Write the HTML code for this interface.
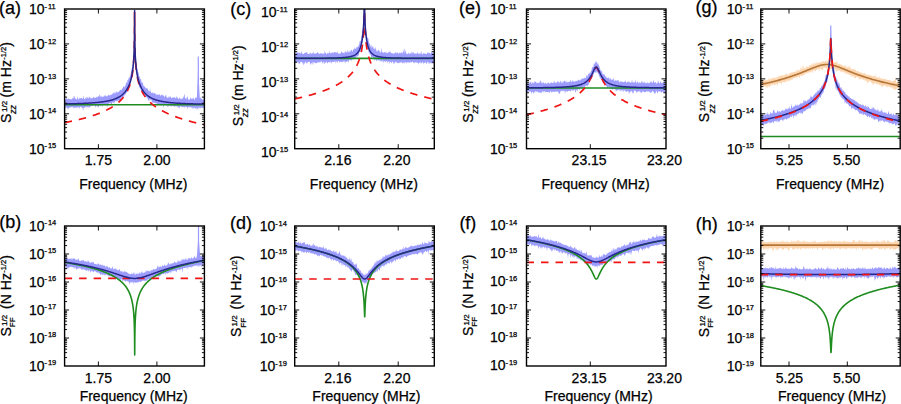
<!DOCTYPE html><html><head><meta charset="utf-8"><style>html,body{margin:0;padding:0;background:#fff;}svg{display:block;}</style></head><body>
<svg width="901" height="404" viewBox="0 0 901 404" font-family='"Liberation Sans", sans-serif'>
<style>text{fill:#000;stroke:#000;stroke-width:0.25px;}</style>
<rect width="901" height="404" fill="#fff"/>
<defs>
<clipPath id="ca"><rect x="64.60" y="9.00" width="139.80" height="139.70"/></clipPath>
<clipPath id="cc"><rect x="294.70" y="9.00" width="139.60" height="139.70"/></clipPath>
<clipPath id="ce"><rect x="526.50" y="9.00" width="139.50" height="139.70"/></clipPath>
<clipPath id="cg"><rect x="760.80" y="9.00" width="139.40" height="139.70"/></clipPath>
<clipPath id="cb"><rect x="64.60" y="226.00" width="139.80" height="140.00"/></clipPath>
<clipPath id="cd"><rect x="294.70" y="226.00" width="139.60" height="140.00"/></clipPath>
<clipPath id="cf"><rect x="526.50" y="226.00" width="139.50" height="140.00"/></clipPath>
<clipPath id="ch"><rect x="760.80" y="226.00" width="139.40" height="140.00"/></clipPath>
</defs>
<g clip-path="url(#ca)" fill="none" stroke-linejoin="round">
<path d="M64.60,99.90 L65.10,99.47 L65.60,99.49 L66.10,98.62 L66.60,97.95 L67.10,98.45 L67.60,99.74 L68.10,97.93 L68.60,99.11 L69.10,98.91 L69.60,99.08 L70.10,99.25 L70.60,99.59 L71.10,98.42 L71.60,99.66 L72.10,98.72 L72.60,97.79 L73.10,99.01 L73.60,96.98 L74.10,95.43 L74.60,97.02 L75.10,99.25 L75.60,97.79 L76.10,99.17 L76.60,99.31 L77.10,99.24 L77.60,95.96 L78.10,98.71 L78.60,99.38 L79.10,99.26 L79.60,97.26 L80.10,98.71 L80.60,97.98 L81.10,98.20 L81.60,97.82 L82.10,98.15 L82.60,99.21 L83.10,97.99 L83.60,95.76 L84.10,99.02 L84.60,98.99 L85.10,99.03 L85.60,97.37 L86.10,98.95 L86.60,97.12 L87.10,96.83 L87.60,97.76 L88.10,98.76 L88.60,97.99 L89.10,96.05 L89.60,97.75 L90.10,97.10 L90.60,98.64 L91.10,97.89 L91.60,98.40 L92.10,97.66 L92.60,98.48 L93.10,97.60 L93.60,96.47 L94.10,97.49 L94.60,98.11 L95.10,97.69 L95.60,98.11 L96.10,96.57 L96.60,97.37 L97.10,97.85 L97.60,96.81 L98.10,96.40 L98.60,96.09 L99.10,96.77 L99.60,94.34 L100.10,94.96 L100.60,97.03 L101.10,97.47 L101.60,95.77 L102.10,96.49 L102.60,96.91 L103.10,96.77 L103.60,96.85 L104.10,94.98 L104.60,96.42 L105.10,94.60 L105.60,96.33 L106.10,96.56 L106.60,96.34 L107.10,94.95 L107.60,96.38 L108.10,95.65 L108.60,94.52 L109.10,95.11 L109.60,95.86 L110.10,94.81 L110.60,95.13 L111.10,93.98 L111.60,95.29 L112.10,94.32 L112.60,93.16 L113.10,94.30 L113.60,92.24 L114.10,91.56 L114.60,93.78 L115.10,92.73 L115.60,93.54 L116.10,90.39 L116.60,92.13 L117.10,92.16 L117.60,92.48 L118.10,91.80 L118.60,91.95 L119.10,91.60 L119.60,90.57 L120.10,90.49 L120.60,89.40 L121.10,90.36 L121.60,90.01 L122.10,88.16 L122.60,88.82 L123.10,87.50 L123.60,85.47 L124.10,87.38 L124.60,86.94 L125.10,85.62 L125.60,85.62 L126.10,82.28 L126.60,82.73 L127.10,82.98 L127.60,79.62 L128.10,80.44 L128.60,78.12 L129.10,78.34 L129.60,76.92 L130.10,75.57 L130.60,74.85 L131.10,71.02 L131.60,69.26 L132.10,66.42 L132.60,65.17 L133.10,59.70 L133.35,58.32 L133.60,53.98 L133.85,49.68 L134.10,44.64 L134.25,40.22 L134.40,31.23 L134.50,21.94 L134.60,3.06 L134.70,21.06 L134.80,32.13 L134.95,38.95 L135.10,45.40 L135.35,50.27 L135.60,54.92 L135.85,57.80 L136.10,58.49 L136.60,64.80 L137.10,68.09 L137.60,69.18 L138.10,72.15 L138.60,72.84 L139.10,75.86 L139.60,76.78 L140.10,79.09 L140.60,78.77 L141.10,79.78 L141.60,82.51 L142.10,82.82 L142.60,82.08 L143.10,84.29 L143.60,86.00 L144.10,86.61 L144.60,86.28 L145.10,87.29 L145.60,87.72 L146.10,88.80 L146.60,87.93 L147.10,88.24 L147.60,88.51 L148.10,90.08 L148.60,90.77 L149.10,91.50 L149.60,91.28 L150.10,88.56 L150.60,91.66 L151.10,92.42 L151.60,92.92 L152.10,93.37 L152.60,92.01 L153.10,92.95 L153.60,93.60 L154.10,93.57 L154.60,92.64 L155.10,93.45 L155.60,93.62 L156.10,94.97 L156.60,94.59 L157.10,94.42 L157.60,94.52 L158.10,94.55 L158.60,95.35 L159.10,94.01 L159.60,94.53 L160.10,95.20 L160.60,95.84 L161.10,95.43 L161.60,94.15 L162.10,94.81 L162.60,95.40 L163.10,94.74 L163.60,96.06 L164.10,95.88 L164.60,97.38 L165.10,96.32 L165.60,95.28 L166.10,94.71 L166.60,97.38 L167.10,97.76 L167.60,97.56 L168.10,97.92 L168.60,96.84 L169.10,95.99 L169.60,97.95 L170.10,96.88 L170.60,96.01 L171.10,97.66 L171.60,98.34 L172.10,97.91 L172.60,97.15 L173.10,97.67 L173.60,97.24 L174.10,97.45 L174.60,96.98 L175.10,97.69 L175.60,98.33 L176.10,98.40 L176.60,96.08 L177.10,97.01 L177.60,97.76 L178.10,98.91 L178.60,99.06 L179.10,97.08 L179.60,98.51 L180.10,98.14 L180.60,99.10 L181.10,99.14 L181.60,98.88 L182.10,97.70 L182.60,99.32 L183.10,96.29 L183.60,98.44 L184.10,93.94 L184.60,94.91 L185.10,98.74 L185.60,97.65 L186.10,99.47 L186.60,97.92 L187.10,96.46 L187.60,96.40 L188.10,99.41 L188.60,99.59 L189.10,99.60 L189.60,99.65 L190.10,98.59 L190.60,96.96 L191.10,99.46 L191.60,98.32 L192.10,99.08 L192.60,98.86 L193.10,97.29 L193.60,98.07 L194.10,99.68 L194.60,99.88 L195.10,98.05 L195.60,97.51 L196.10,97.89 L196.60,97.42 L196.80,98.11 L197.10,92.91 L197.30,89.14 L197.60,82.86 L197.80,78.04 L198.05,70.71 L198.10,68.93 L198.30,56.50 L198.55,70.72 L198.60,72.36 L198.80,78.05 L199.10,85.08 L199.30,89.18 L199.60,94.76 L199.80,98.20 L200.10,97.51 L200.60,97.87 L201.10,98.73 L201.60,98.80 L202.10,99.16 L202.60,99.96 L203.10,97.40 L203.60,99.78 L204.10,99.86 L204.10,107.58 L203.60,107.69 L203.10,108.62 L202.60,107.93 L202.10,108.12 L201.60,107.17 L201.10,108.16 L200.60,108.46 L200.10,107.20 L199.80,107.60 L199.60,107.63 L199.30,108.00 L199.10,108.79 L198.80,107.35 L198.60,107.15 L198.55,109.24 L198.30,109.45 L198.10,107.37 L198.05,110.29 L197.80,108.77 L197.60,107.87 L197.30,108.79 L197.10,109.05 L196.80,107.48 L196.60,110.50 L196.10,107.14 L195.60,108.24 L195.10,109.08 L194.60,107.21 L194.10,108.28 L193.60,108.49 L193.10,107.59 L192.60,108.94 L192.10,107.09 L191.60,107.38 L191.10,107.65 L190.60,107.10 L190.10,107.63 L189.60,107.24 L189.10,107.07 L188.60,107.00 L188.10,107.28 L187.60,108.94 L187.10,107.36 L186.60,107.18 L186.10,106.74 L185.60,106.71 L185.10,106.82 L184.60,108.15 L184.10,106.56 L183.60,107.18 L183.10,106.75 L182.60,107.71 L182.10,106.84 L181.60,106.88 L181.10,106.47 L180.60,106.43 L180.10,106.31 L179.60,109.05 L179.10,106.53 L178.60,106.94 L178.10,107.92 L177.60,106.09 L177.10,107.87 L176.60,105.92 L176.10,106.20 L175.60,106.60 L175.10,106.12 L174.60,107.07 L174.10,106.71 L173.60,105.90 L173.10,105.94 L172.60,105.68 L172.10,106.33 L171.60,106.89 L171.10,105.45 L170.60,106.35 L170.10,106.09 L169.60,105.27 L169.10,106.19 L168.60,105.24 L168.10,107.59 L167.60,106.71 L167.10,104.88 L166.60,104.84 L166.10,106.23 L165.60,104.71 L165.10,104.61 L164.60,104.44 L164.10,104.86 L163.60,107.88 L163.10,105.32 L162.60,104.56 L162.10,105.04 L161.60,105.72 L161.10,105.03 L160.60,105.64 L160.10,103.81 L159.60,104.78 L159.10,104.59 L158.60,104.49 L158.10,103.57 L157.60,106.63 L157.10,104.46 L156.60,102.84 L156.10,104.11 L155.60,103.32 L155.10,102.93 L154.60,102.62 L154.10,103.23 L153.60,102.56 L153.10,103.09 L152.60,102.11 L152.10,103.07 L151.60,100.20 L151.10,100.07 L150.60,99.59 L150.10,99.57 L149.60,99.35 L149.10,101.15 L148.60,100.75 L148.10,99.49 L147.60,98.74 L147.10,97.55 L146.60,97.54 L146.10,96.81 L145.60,96.49 L145.10,96.06 L144.60,94.87 L144.10,96.66 L143.60,94.08 L143.10,93.84 L142.60,93.68 L142.10,92.25 L141.60,89.88 L141.10,91.35 L140.60,89.26 L140.10,87.48 L139.60,87.67 L139.10,86.69 L138.60,83.43 L138.10,81.63 L137.60,78.18 L137.10,75.66 L136.60,75.10 L136.10,68.27 L135.85,66.43 L135.60,62.60 L135.35,59.07 L135.10,53.47 L134.95,47.62 L134.80,39.89 L134.70,30.91 L134.60,13.95 L134.50,30.54 L134.40,40.54 L134.25,48.66 L134.10,53.31 L133.85,58.22 L133.60,64.49 L133.35,66.78 L133.10,68.22 L132.60,74.07 L132.10,76.87 L131.60,78.44 L131.10,81.33 L130.60,82.78 L130.10,83.73 L129.60,85.75 L129.10,87.10 L128.60,89.02 L128.10,89.10 L127.60,91.10 L127.10,92.24 L126.60,92.69 L126.10,92.61 L125.60,95.13 L125.10,93.68 L124.60,94.97 L124.10,96.87 L123.60,95.43 L123.10,99.25 L122.60,97.76 L122.10,97.05 L121.60,97.60 L121.10,99.35 L120.60,100.34 L120.10,100.10 L119.60,101.22 L119.10,101.26 L118.60,100.32 L118.10,100.79 L117.60,101.47 L117.10,100.33 L116.60,101.73 L116.10,101.06 L115.60,101.32 L115.10,101.24 L114.60,102.30 L114.10,103.83 L113.60,103.00 L113.10,102.09 L112.60,102.23 L112.10,103.25 L111.60,104.32 L111.10,104.27 L110.60,103.08 L110.10,103.29 L109.60,103.07 L109.10,103.74 L108.60,103.82 L108.10,104.79 L107.60,104.88 L107.10,107.89 L106.60,105.23 L106.10,103.89 L105.60,105.44 L105.10,104.17 L104.60,104.10 L104.10,105.75 L103.60,105.29 L103.10,104.59 L102.60,107.53 L102.10,105.34 L101.60,105.48 L101.10,105.12 L100.60,107.07 L100.10,104.96 L99.60,105.80 L99.10,106.08 L98.60,106.92 L98.10,107.73 L97.60,105.61 L97.10,107.48 L96.60,105.26 L96.10,106.06 L95.60,107.91 L95.10,106.04 L94.60,105.51 L94.10,105.73 L93.60,105.54 L93.10,105.95 L92.60,105.99 L92.10,105.92 L91.60,105.95 L91.10,106.11 L90.60,106.45 L90.10,106.98 L89.60,107.14 L89.10,107.20 L88.60,107.96 L88.10,105.98 L87.60,107.85 L87.10,106.82 L86.60,106.30 L86.10,108.79 L85.60,106.86 L85.10,106.48 L84.60,108.28 L84.10,107.69 L83.60,107.47 L83.10,111.02 L82.60,107.80 L82.10,108.03 L81.60,106.75 L81.10,107.79 L80.60,106.64 L80.10,106.74 L79.60,109.22 L79.10,107.07 L78.60,107.83 L78.10,106.47 L77.60,108.32 L77.10,107.35 L76.60,106.97 L76.10,108.68 L75.60,107.37 L75.10,107.66 L74.60,107.84 L74.10,107.82 L73.60,106.97 L73.10,108.89 L72.60,106.83 L72.10,107.00 L71.60,107.02 L71.10,107.27 L70.60,107.96 L70.10,106.84 L69.60,108.32 L69.10,107.27 L68.60,109.79 L68.10,107.52 L67.60,109.07 L67.10,107.73 L66.60,107.66 L66.10,106.94 L65.60,107.65 L65.10,109.00 L64.60,106.98Z" fill="#9c9cff" stroke="none"/>
<path d="M198.30,103.80L198.30,56.50" stroke="#9c9cff" stroke-width="1.2"/>
<path d="M64.60,104.75 L65.10,104.75 L65.60,104.75 L66.10,104.75 L66.60,104.75 L67.10,104.75 L67.60,104.75 L68.10,104.75 L68.60,104.75 L69.10,104.75 L69.60,104.75 L70.10,104.75 L70.60,104.75 L71.10,104.75 L71.60,104.75 L72.10,104.75 L72.60,104.75 L73.10,104.75 L73.60,104.75 L74.10,104.75 L74.60,104.75 L75.10,104.75 L75.60,104.75 L76.10,104.75 L76.60,104.75 L77.10,104.75 L77.60,104.75 L78.10,104.75 L78.60,104.75 L79.10,104.75 L79.60,104.75 L80.10,104.75 L80.60,104.75 L81.10,104.75 L81.60,104.75 L82.10,104.75 L82.60,104.75 L83.10,104.75 L83.60,104.75 L84.10,104.75 L84.60,104.75 L85.10,104.75 L85.60,104.75 L86.10,104.75 L86.60,104.75 L87.10,104.75 L87.60,104.75 L88.10,104.75 L88.60,104.75 L89.10,104.75 L89.60,104.75 L90.10,104.75 L90.60,104.75 L91.10,104.75 L91.60,104.75 L92.10,104.75 L92.60,104.75 L93.10,104.75 L93.60,104.75 L94.10,104.75 L94.60,104.75 L95.10,104.75 L95.60,104.75 L96.10,104.75 L96.60,104.75 L97.10,104.75 L97.60,104.75 L98.10,104.75 L98.60,104.75 L99.10,104.75 L99.60,104.75 L100.10,104.75 L100.60,104.75 L101.10,104.75 L101.60,104.75 L102.10,104.75 L102.60,104.75 L103.10,104.75 L103.60,104.75 L104.10,104.75 L104.60,104.75 L105.10,104.75 L105.60,104.75 L106.10,104.75 L106.60,104.75 L107.10,104.75 L107.60,104.75 L108.10,104.75 L108.60,104.75 L109.10,104.75 L109.60,104.75 L110.10,104.75 L110.60,104.75 L111.10,104.75 L111.60,104.75 L112.10,104.75 L112.60,104.75 L113.10,104.75 L113.60,104.75 L114.10,104.75 L114.60,104.75 L115.10,104.75 L115.60,104.75 L116.10,104.75 L116.60,104.75 L117.10,104.75 L117.60,104.75 L118.10,104.75 L118.60,104.75 L119.10,104.75 L119.60,104.75 L120.10,104.75 L120.60,104.75 L121.10,104.75 L121.60,104.75 L122.10,104.75 L122.60,104.75 L123.10,104.75 L123.60,104.75 L124.10,104.75 L124.60,104.75 L125.10,104.75 L125.60,104.75 L126.10,104.75 L126.60,104.75 L127.10,104.75 L127.60,104.75 L128.10,104.75 L128.60,104.75 L129.10,104.75 L129.60,104.75 L130.10,104.75 L130.60,104.75 L131.10,104.75 L131.60,104.75 L132.10,104.75 L132.60,104.75 L133.10,104.75 L133.60,104.75 L133.85,104.75 L134.10,104.75 L134.30,104.75 L134.40,104.75 L134.50,104.75 L134.55,104.75 L134.60,104.75 L134.65,104.75 L134.70,104.75 L134.80,104.75 L134.90,104.75 L135.10,104.75 L135.35,104.75 L135.60,104.75 L136.10,104.75 L136.60,104.75 L137.10,104.75 L137.60,104.75 L138.10,104.75 L138.60,104.75 L139.10,104.75 L139.60,104.75 L140.10,104.75 L140.60,104.75 L141.10,104.75 L141.60,104.75 L142.10,104.75 L142.60,104.75 L143.10,104.75 L143.60,104.75 L144.10,104.75 L144.60,104.75 L145.10,104.75 L145.60,104.75 L146.10,104.75 L146.60,104.75 L147.10,104.75 L147.60,104.75 L148.10,104.75 L148.60,104.75 L149.10,104.75 L149.60,104.75 L150.10,104.75 L150.60,104.75 L151.10,104.75 L151.60,104.75 L152.10,104.75 L152.60,104.75 L153.10,104.75 L153.60,104.75 L154.10,104.75 L154.60,104.75 L155.10,104.75 L155.60,104.75 L156.10,104.75 L156.60,104.75 L157.10,104.75 L157.60,104.75 L158.10,104.75 L158.60,104.75 L159.10,104.75 L159.60,104.75 L160.10,104.75 L160.60,104.75 L161.10,104.75 L161.60,104.75 L162.10,104.75 L162.60,104.75 L163.10,104.75 L163.60,104.75 L164.10,104.75 L164.60,104.75 L165.10,104.75 L165.60,104.75 L166.10,104.75 L166.60,104.75 L167.10,104.75 L167.60,104.75 L168.10,104.75 L168.60,104.75 L169.10,104.75 L169.60,104.75 L170.10,104.75 L170.60,104.75 L171.10,104.75 L171.60,104.75 L172.10,104.75 L172.60,104.75 L173.10,104.75 L173.60,104.75 L174.10,104.75 L174.60,104.75 L175.10,104.75 L175.60,104.75 L176.10,104.75 L176.60,104.75 L177.10,104.75 L177.60,104.75 L178.10,104.75 L178.60,104.75 L179.10,104.75 L179.60,104.75 L180.10,104.75 L180.60,104.75 L181.10,104.75 L181.60,104.75 L182.10,104.75 L182.60,104.75 L183.10,104.75 L183.60,104.75 L184.10,104.75 L184.60,104.75 L185.10,104.75 L185.60,104.75 L186.10,104.75 L186.60,104.75 L187.10,104.75 L187.60,104.75 L188.10,104.75 L188.60,104.75 L189.10,104.75 L189.60,104.75 L190.10,104.75 L190.60,104.75 L191.10,104.75 L191.60,104.75 L192.10,104.75 L192.60,104.75 L193.10,104.75 L193.60,104.75 L194.10,104.75 L194.60,104.75 L195.10,104.75 L195.60,104.75 L196.10,104.75 L196.60,104.75 L197.10,104.75 L197.60,104.75 L198.10,104.75 L198.60,104.75 L199.10,104.75 L199.60,104.75 L200.10,104.75 L200.60,104.75 L201.10,104.75 L201.60,104.75 L202.10,104.75 L202.60,104.75 L203.10,104.75 L203.60,104.75 L204.10,104.75" stroke="#1e8c1e" stroke-width="1.6"/>
<path d="M64.60,122.60 L65.10,122.51 L65.60,122.41 L66.10,122.31 L66.60,122.22 L67.10,122.12 L67.60,122.02 L68.10,121.92 L68.60,121.82 L69.10,121.72 L69.60,121.62 L70.10,121.52 L70.60,121.41 L71.10,121.31 L71.60,121.20 L72.10,121.10 L72.60,120.99 L73.10,120.88 L73.60,120.77 L74.10,120.66 L74.60,120.55 L75.10,120.44 L75.60,120.33 L76.10,120.21 L76.60,120.10 L77.10,119.98 L77.60,119.87 L78.10,119.75 L78.60,119.63 L79.10,119.51 L79.60,119.39 L80.10,119.26 L80.60,119.14 L81.10,119.01 L81.60,118.89 L82.10,118.76 L82.60,118.63 L83.10,118.50 L83.60,118.37 L84.10,118.23 L84.60,118.10 L85.10,117.96 L85.60,117.82 L86.10,117.69 L86.60,117.54 L87.10,117.40 L87.60,117.26 L88.10,117.11 L88.60,116.97 L89.10,116.82 L89.60,116.67 L90.10,116.51 L90.60,116.36 L91.10,116.20 L91.60,116.04 L92.10,115.88 L92.60,115.72 L93.10,115.56 L93.60,115.39 L94.10,115.22 L94.60,115.05 L95.10,114.88 L95.60,114.71 L96.10,114.53 L96.60,114.35 L97.10,114.17 L97.60,113.98 L98.10,113.79 L98.60,113.60 L99.10,113.41 L99.60,113.21 L100.10,113.01 L100.60,112.81 L101.10,112.61 L101.60,112.40 L102.10,112.19 L102.60,111.97 L103.10,111.75 L103.60,111.53 L104.10,111.31 L104.60,111.08 L105.10,110.84 L105.60,110.60 L106.10,110.36 L106.60,110.12 L107.10,109.86 L107.60,109.61 L108.10,109.35 L108.60,109.08 L109.10,108.81 L109.60,108.53 L110.10,108.25 L110.60,107.96 L111.10,107.67 L111.60,107.36 L112.10,107.06 L112.60,106.74 L113.10,106.42 L113.60,106.09 L114.10,105.75 L114.60,105.40 L115.10,105.04 L115.60,104.68 L116.10,104.30 L116.60,103.91 L117.10,103.52 L117.60,103.11 L118.10,102.69 L118.60,102.25 L119.10,101.80 L119.60,101.34 L120.10,100.86 L120.60,100.36 L121.10,99.84 L121.60,99.31 L122.10,98.75 L122.60,98.17 L123.10,97.57 L123.60,96.93 L124.10,96.27 L124.60,95.58 L125.10,94.85 L125.60,94.07 L126.10,93.26 L126.60,92.39 L127.10,91.47 L127.60,90.49 L128.10,89.43 L128.60,88.28 L129.10,87.04 L129.60,85.67 L130.10,84.16 L130.60,82.47 L131.10,80.56 L131.60,78.34 L132.10,75.72 L132.60,72.52 L133.10,68.38 L133.60,62.55 L133.85,58.41 L134.10,52.59 L134.30,45.28 L134.40,39.53 L134.50,30.00 L134.55,21.61 L134.60,12.03 L134.65,21.61 L134.70,30.00 L134.80,39.53 L134.90,45.29 L135.10,52.61 L135.35,58.44 L135.60,62.58 L136.10,68.43 L136.60,72.58 L137.10,75.80 L137.60,78.44 L138.10,80.67 L138.60,82.60 L139.10,84.31 L139.60,85.83 L140.10,87.21 L140.60,88.48 L141.10,89.64 L141.60,90.71 L142.10,91.71 L142.60,92.65 L143.10,93.53 L143.60,94.37 L144.10,95.15 L144.60,95.90 L145.10,96.61 L145.60,97.29 L146.10,97.94 L146.60,98.56 L147.10,99.16 L147.60,99.73 L148.10,100.28 L148.60,100.81 L149.10,101.33 L149.60,101.82 L150.10,102.30 L150.60,102.77 L151.10,103.22 L151.60,103.66 L152.10,104.08 L152.60,104.50 L153.10,104.90 L153.60,105.29 L154.10,105.67 L154.60,106.05 L155.10,106.41 L155.60,106.77 L156.10,107.11 L156.60,107.45 L157.10,107.78 L157.60,108.11 L158.10,108.43 L158.60,108.74 L159.10,109.04 L159.60,109.34 L160.10,109.63 L160.60,109.92 L161.10,110.20 L161.60,110.48 L162.10,110.75 L162.60,111.02 L163.10,111.28 L163.60,111.54 L164.10,111.80 L164.60,112.05 L165.10,112.29 L165.60,112.53 L166.10,112.77 L166.60,113.01 L167.10,113.24 L167.60,113.47 L168.10,113.69 L168.60,113.91 L169.10,114.13 L169.60,114.35 L170.10,114.56 L170.60,114.77 L171.10,114.97 L171.60,115.18 L172.10,115.38 L172.60,115.58 L173.10,115.77 L173.60,115.97 L174.10,116.16 L174.60,116.35 L175.10,116.53 L175.60,116.72 L176.10,116.90 L176.60,117.08 L177.10,117.26 L177.60,117.44 L178.10,117.61 L178.60,117.78 L179.10,117.95 L179.60,118.12 L180.10,118.29 L180.60,118.45 L181.10,118.62 L181.60,118.78 L182.10,118.94 L182.60,119.10 L183.10,119.25 L183.60,119.41 L184.10,119.56 L184.60,119.72 L185.10,119.87 L185.60,120.02 L186.10,120.17 L186.60,120.31 L187.10,120.46 L187.60,120.60 L188.10,120.74 L188.60,120.89 L189.10,121.03 L189.60,121.17 L190.10,121.30 L190.60,121.44 L191.10,121.58 L191.60,121.71 L192.10,121.84 L192.60,121.98 L193.10,122.11 L193.60,122.24 L194.10,122.37 L194.60,122.50 L195.10,122.62 L195.60,122.75 L196.10,122.87 L196.60,123.00 L197.10,123.12 L197.60,123.24 L198.10,123.37 L198.60,123.49 L199.10,123.61 L199.60,123.72 L200.10,123.84 L200.60,123.96 L201.10,124.08 L201.60,124.19 L202.10,124.31 L202.60,124.42 L203.10,124.53 L203.60,124.65 L204.10,124.76" stroke="#f01414" stroke-width="1.7" stroke-dasharray="7.5 7"/>
<path d="M64.60,103.92 L65.10,103.91 L65.60,103.90 L66.10,103.89 L66.60,103.88 L67.10,103.87 L67.60,103.86 L68.10,103.85 L68.60,103.84 L69.10,103.83 L69.60,103.82 L70.10,103.81 L70.60,103.79 L71.10,103.78 L71.60,103.77 L72.10,103.76 L72.60,103.74 L73.10,103.73 L73.60,103.71 L74.10,103.70 L74.60,103.69 L75.10,103.67 L75.60,103.66 L76.10,103.64 L76.60,103.63 L77.10,103.61 L77.60,103.59 L78.10,103.58 L78.60,103.56 L79.10,103.54 L79.60,103.52 L80.10,103.50 L80.60,103.49 L81.10,103.47 L81.60,103.45 L82.10,103.43 L82.60,103.40 L83.10,103.38 L83.60,103.36 L84.10,103.34 L84.60,103.32 L85.10,103.29 L85.60,103.27 L86.10,103.24 L86.60,103.22 L87.10,103.19 L87.60,103.16 L88.10,103.14 L88.60,103.11 L89.10,103.08 L89.60,103.05 L90.10,103.02 L90.60,102.99 L91.10,102.95 L91.60,102.92 L92.10,102.89 L92.60,102.85 L93.10,102.81 L93.60,102.78 L94.10,102.74 L94.60,102.70 L95.10,102.65 L95.60,102.61 L96.10,102.57 L96.60,102.52 L97.10,102.48 L97.60,102.43 L98.10,102.38 L98.60,102.33 L99.10,102.27 L99.60,102.22 L100.10,102.16 L100.60,102.10 L101.10,102.04 L101.60,101.98 L102.10,101.91 L102.60,101.84 L103.10,101.77 L103.60,101.70 L104.10,101.63 L104.60,101.55 L105.10,101.47 L105.60,101.38 L106.10,101.29 L106.60,101.20 L107.10,101.11 L107.60,101.01 L108.10,100.91 L108.60,100.80 L109.10,100.69 L109.60,100.57 L110.10,100.45 L110.60,100.32 L111.10,100.19 L111.60,100.06 L112.10,99.91 L112.60,99.76 L113.10,99.60 L113.60,99.44 L114.10,99.27 L114.60,99.09 L115.10,98.90 L115.60,98.70 L116.10,98.49 L116.60,98.27 L117.10,98.04 L117.60,97.79 L118.10,97.54 L118.60,97.27 L119.10,96.98 L119.60,96.68 L120.10,96.36 L120.60,96.03 L121.10,95.67 L121.60,95.29 L122.10,94.89 L122.60,94.47 L123.10,94.01 L123.60,93.53 L124.10,93.01 L124.60,92.46 L125.10,91.87 L125.60,91.23 L126.10,90.55 L126.60,89.81 L127.10,89.01 L127.60,88.14 L128.10,87.19 L128.60,86.15 L129.10,85.01 L129.60,83.73 L130.10,82.31 L130.60,80.70 L131.10,78.86 L131.60,76.71 L132.10,74.14 L132.60,70.98 L133.10,66.88 L133.60,61.08 L133.85,56.95 L134.10,51.14 L134.30,43.83 L134.40,38.08 L134.50,28.55 L134.55,20.16 L134.60,10.59 L134.65,20.16 L134.70,28.56 L134.80,38.09 L134.90,43.84 L135.10,51.15 L135.35,56.98 L135.60,61.11 L136.10,66.93 L136.60,71.05 L137.10,74.22 L137.60,76.80 L138.10,78.97 L138.60,80.82 L139.10,82.45 L139.60,83.89 L140.10,85.17 L140.60,86.33 L141.10,87.38 L141.60,88.34 L142.10,89.22 L142.60,90.03 L143.10,90.78 L143.60,91.47 L144.10,92.12 L144.60,92.72 L145.10,93.28 L145.60,93.80 L146.10,94.29 L146.60,94.75 L147.10,95.18 L147.60,95.59 L148.10,95.97 L148.60,96.33 L149.10,96.67 L149.60,97.00 L150.10,97.30 L150.60,97.59 L151.10,97.86 L151.60,98.12 L152.10,98.36 L152.60,98.60 L153.10,98.82 L153.60,99.03 L154.10,99.23 L154.60,99.42 L155.10,99.60 L155.60,99.77 L156.10,99.94 L156.60,100.10 L157.10,100.25 L157.60,100.39 L158.10,100.53 L158.60,100.66 L159.10,100.78 L159.60,100.90 L160.10,101.02 L160.60,101.13 L161.10,101.24 L161.60,101.34 L162.10,101.43 L162.60,101.53 L163.10,101.62 L163.60,101.70 L164.10,101.79 L164.60,101.87 L165.10,101.94 L165.60,102.02 L166.10,102.09 L166.60,102.16 L167.10,102.23 L167.60,102.29 L168.10,102.35 L168.60,102.41 L169.10,102.47 L169.60,102.52 L170.10,102.58 L170.60,102.63 L171.10,102.68 L171.60,102.73 L172.10,102.77 L172.60,102.82 L173.10,102.86 L173.60,102.90 L174.10,102.94 L174.60,102.98 L175.10,103.02 L175.60,103.06 L176.10,103.10 L176.60,103.13 L177.10,103.16 L177.60,103.20 L178.10,103.23 L178.60,103.26 L179.10,103.29 L179.60,103.32 L180.10,103.35 L180.60,103.38 L181.10,103.40 L181.60,103.43 L182.10,103.45 L182.60,103.48 L183.10,103.50 L183.60,103.53 L184.10,103.55 L184.60,103.57 L185.10,103.59 L185.60,103.61 L186.10,103.63 L186.60,103.65 L187.10,103.67 L187.60,103.69 L188.10,103.71 L188.60,103.73 L189.10,103.75 L189.60,103.76 L190.10,103.78 L190.60,103.80 L191.10,103.81 L191.60,103.83 L192.10,103.84 L192.60,103.86 L193.10,103.87 L193.60,103.89 L194.10,103.90 L194.60,103.91 L195.10,103.93 L195.60,103.94 L196.10,103.95 L196.60,103.96 L197.10,103.98 L197.60,103.99 L198.10,104.00 L198.60,104.01 L199.10,104.02 L199.60,104.03 L200.10,104.04 L200.60,104.05 L201.10,104.06 L201.60,104.07 L202.10,104.08 L202.60,104.09 L203.10,104.10 L203.60,104.11 L204.10,104.12" stroke="#28288c" stroke-width="1.5"/>
</g>
<g clip-path="url(#cc)" fill="none" stroke-linejoin="round">
<path d="M294.70,53.33 L295.20,53.93 L295.70,54.15 L296.20,53.64 L296.70,52.04 L297.20,52.35 L297.70,52.39 L298.20,53.28 L298.70,52.44 L299.20,52.81 L299.70,52.65 L300.20,54.16 L300.70,52.35 L301.20,53.56 L301.70,50.24 L302.20,53.97 L302.70,53.52 L303.20,53.99 L303.70,54.06 L304.20,53.56 L304.70,52.80 L305.20,52.76 L305.70,52.79 L306.20,52.54 L306.70,52.27 L307.20,52.30 L307.70,54.26 L308.20,54.00 L308.70,53.90 L309.20,53.16 L309.70,53.93 L310.20,53.13 L310.70,52.40 L311.20,53.49 L311.70,54.11 L312.20,53.12 L312.70,52.92 L313.20,53.93 L313.70,50.96 L314.20,53.46 L314.70,53.76 L315.20,53.02 L315.70,54.11 L316.20,52.72 L316.70,53.70 L317.20,52.79 L317.70,51.53 L318.20,53.73 L318.70,52.64 L319.20,54.02 L319.70,53.75 L320.20,53.36 L320.70,53.23 L321.20,53.65 L321.70,53.04 L322.20,54.07 L322.70,53.24 L323.20,53.42 L323.70,53.84 L324.20,54.16 L324.70,50.33 L325.20,53.29 L325.70,52.33 L326.20,54.19 L326.70,54.08 L327.20,53.23 L327.70,52.98 L328.20,52.45 L328.70,53.75 L329.20,53.36 L329.70,50.46 L330.20,53.47 L330.70,53.35 L331.20,52.20 L331.70,53.56 L332.20,52.64 L332.70,51.99 L333.20,53.87 L333.70,52.00 L334.20,52.42 L334.70,52.04 L335.20,51.80 L335.70,52.83 L336.20,52.27 L336.70,53.15 L337.20,51.55 L337.70,52.52 L338.20,53.76 L338.70,53.59 L339.20,53.73 L339.70,53.57 L340.20,53.04 L340.70,53.71 L341.20,51.47 L341.70,51.30 L342.20,53.28 L342.70,52.33 L343.20,53.29 L343.70,52.33 L344.20,53.38 L344.70,52.32 L345.20,51.12 L345.70,51.73 L346.20,52.37 L346.70,52.27 L347.20,52.81 L347.70,49.36 L348.20,51.84 L348.70,52.49 L349.20,50.51 L349.70,52.17 L350.20,52.09 L350.70,50.33 L351.20,50.16 L351.70,49.46 L352.20,51.77 L352.70,51.30 L353.20,49.12 L353.70,49.91 L354.20,47.09 L354.70,49.56 L355.20,48.46 L355.70,49.08 L356.20,48.03 L356.70,47.05 L357.20,46.64 L357.70,47.45 L358.20,46.63 L358.70,44.95 L359.20,44.65 L359.70,40.97 L360.20,41.74 L360.40,40.41 L360.70,41.16 L361.20,38.39 L361.40,35.41 L361.70,35.33 L361.90,35.36 L362.20,31.67 L362.40,31.02 L362.70,28.28 L362.90,28.49 L363.15,25.49 L363.20,22.64 L363.40,20.65 L363.65,17.49 L363.70,16.13 L363.90,12.07 L364.05,6.60 L364.20,-3.51 L364.30,-10.87 L364.40,-24.22 L364.50,-12.24 L364.60,-1.59 L364.70,4.35 L364.75,5.14 L364.90,11.00 L365.15,17.70 L365.20,18.61 L365.40,20.36 L365.65,25.19 L365.70,25.84 L365.90,26.25 L366.20,30.97 L366.40,32.34 L366.70,34.09 L366.90,33.07 L367.20,37.22 L367.40,37.49 L367.70,37.59 L368.20,38.53 L368.40,38.57 L368.70,41.52 L369.20,43.03 L369.70,43.72 L370.20,45.01 L370.70,46.98 L371.20,44.12 L371.70,47.63 L372.20,48.04 L372.70,45.99 L373.20,45.98 L373.70,49.32 L374.20,48.10 L374.70,49.67 L375.20,46.63 L375.70,49.23 L376.20,49.49 L376.70,51.84 L377.20,50.36 L377.70,51.96 L378.20,49.27 L378.70,50.11 L379.20,52.49 L379.70,50.04 L380.20,52.60 L380.70,52.78 L381.20,47.39 L381.70,51.28 L382.20,53.11 L382.70,51.55 L383.20,52.22 L383.70,52.90 L384.20,52.15 L384.70,51.74 L385.20,53.14 L385.70,51.73 L386.20,53.46 L386.70,51.38 L387.20,52.65 L387.70,53.42 L388.20,52.52 L388.70,52.19 L389.20,52.10 L389.70,51.83 L390.20,50.58 L390.70,53.24 L391.20,52.94 L391.70,52.98 L392.20,53.52 L392.70,52.88 L393.20,53.62 L393.70,53.65 L394.20,53.21 L394.70,53.27 L395.20,53.53 L395.70,51.70 L396.20,53.51 L396.70,52.15 L397.20,52.26 L397.70,52.83 L398.20,54.04 L398.70,53.56 L399.20,52.21 L399.70,53.07 L400.20,52.90 L400.70,53.19 L401.20,51.85 L401.70,53.06 L402.20,53.77 L402.70,52.22 L403.20,49.17 L403.70,52.19 L404.20,53.38 L404.70,47.90 L405.20,50.60 L405.70,52.11 L406.20,52.88 L406.70,54.09 L407.20,54.04 L407.70,54.20 L408.20,52.27 L408.70,53.40 L409.20,53.70 L409.70,54.05 L410.20,52.69 L410.70,54.26 L411.20,51.09 L411.70,53.38 L412.20,54.02 L412.70,51.71 L413.20,52.64 L413.70,52.54 L414.20,53.08 L414.70,53.67 L415.20,54.33 L415.70,52.95 L416.20,53.93 L416.70,53.70 L417.20,51.77 L417.70,53.37 L418.20,53.52 L418.70,53.63 L419.20,53.17 L419.70,54.05 L420.20,54.30 L420.70,53.01 L421.20,50.73 L421.70,53.27 L422.20,54.41 L422.70,54.22 L423.20,53.26 L423.70,53.19 L424.20,53.06 L424.70,53.91 L425.20,53.87 L425.70,53.43 L426.20,53.91 L426.70,54.20 L427.20,52.77 L427.70,52.18 L428.20,53.77 L428.70,51.98 L429.20,53.37 L429.70,52.40 L430.20,54.14 L430.70,53.49 L431.20,50.70 L431.70,52.78 L432.20,52.85 L432.70,52.12 L433.20,53.91 L433.70,53.43 L434.20,52.71 L434.20,62.01 L433.70,64.64 L433.20,61.65 L432.70,61.94 L432.20,64.15 L431.70,62.00 L431.20,64.00 L430.70,63.06 L430.20,62.53 L429.70,62.90 L429.20,64.10 L428.70,63.46 L428.20,61.76 L427.70,61.82 L427.20,62.68 L426.70,64.06 L426.20,63.62 L425.70,61.58 L425.20,62.42 L424.70,62.96 L424.20,63.12 L423.70,62.51 L423.20,64.68 L422.70,61.97 L422.20,61.96 L421.70,63.07 L421.20,63.31 L420.70,63.40 L420.20,61.87 L419.70,62.45 L419.20,62.87 L418.70,64.46 L418.20,62.92 L417.70,62.73 L417.20,62.76 L416.70,62.19 L416.20,62.86 L415.70,62.05 L415.20,62.67 L414.70,61.98 L414.20,63.59 L413.70,62.39 L413.20,63.01 L412.70,61.55 L412.20,61.80 L411.70,62.44 L411.20,61.91 L410.70,62.92 L410.20,61.56 L409.70,62.79 L409.20,62.44 L408.70,62.04 L408.20,63.27 L407.70,61.86 L407.20,63.04 L406.70,62.01 L406.20,63.84 L405.70,62.43 L405.20,62.21 L404.70,61.41 L404.20,64.49 L403.70,62.23 L403.20,62.65 L402.70,63.26 L402.20,63.20 L401.70,61.49 L401.20,62.46 L400.70,62.85 L400.20,62.37 L399.70,62.77 L399.20,62.84 L398.70,63.61 L398.20,62.16 L397.70,63.58 L397.20,62.82 L396.70,62.57 L396.20,61.51 L395.70,62.10 L395.20,62.26 L394.70,64.22 L394.20,61.93 L393.70,64.05 L393.20,62.16 L392.70,61.34 L392.20,61.95 L391.70,63.54 L391.20,62.16 L390.70,61.84 L390.20,61.83 L389.70,64.19 L389.20,60.96 L388.70,61.87 L388.20,61.68 L387.70,60.88 L387.20,63.79 L386.70,61.05 L386.20,61.11 L385.70,61.49 L385.20,62.37 L384.70,61.57 L384.20,60.83 L383.70,63.50 L383.20,60.43 L382.70,60.48 L382.20,62.19 L381.70,60.24 L381.20,61.76 L380.70,61.65 L380.20,60.02 L379.70,61.20 L379.20,60.09 L378.70,60.94 L378.20,59.83 L377.70,60.30 L377.20,59.72 L376.70,60.60 L376.20,61.52 L375.70,59.08 L375.20,59.50 L374.70,61.27 L374.20,59.04 L373.70,58.11 L373.20,57.77 L372.70,56.54 L372.20,57.45 L371.70,59.84 L371.20,56.51 L370.70,54.77 L370.20,54.31 L369.70,54.44 L369.20,52.06 L368.70,53.09 L368.40,49.37 L368.20,49.32 L367.70,47.25 L367.40,46.11 L367.20,49.26 L366.90,45.48 L366.70,43.95 L366.40,41.01 L366.20,39.04 L365.90,36.93 L365.70,35.77 L365.65,34.54 L365.40,31.40 L365.20,26.50 L365.15,26.62 L364.90,20.18 L364.75,14.58 L364.70,11.98 L364.60,6.29 L364.50,-2.09 L364.40,-13.82 L364.30,-2.82 L364.20,8.49 L364.05,14.41 L363.90,19.99 L363.70,24.95 L363.65,26.68 L363.40,32.76 L363.20,32.79 L363.15,33.15 L362.90,35.92 L362.70,39.59 L362.40,40.76 L362.20,41.65 L361.90,45.08 L361.70,44.41 L361.40,48.41 L361.20,46.65 L360.70,49.17 L360.40,52.32 L360.20,50.59 L359.70,51.86 L359.20,52.80 L358.70,56.24 L358.20,54.75 L357.70,55.91 L357.20,56.84 L356.70,56.19 L356.20,57.12 L355.70,58.43 L355.20,57.52 L354.70,58.74 L354.20,59.11 L353.70,58.53 L353.20,59.70 L352.70,58.70 L352.20,59.73 L351.70,59.46 L351.20,61.51 L350.70,59.50 L350.20,60.50 L349.70,60.15 L349.20,59.87 L348.70,61.07 L348.20,63.09 L347.70,61.19 L347.20,61.30 L346.70,61.71 L346.20,61.67 L345.70,61.48 L345.20,63.52 L344.70,61.91 L344.20,60.78 L343.70,60.94 L343.20,62.24 L342.70,62.15 L342.20,61.38 L341.70,61.68 L341.20,62.60 L340.70,61.08 L340.20,62.54 L339.70,61.73 L339.20,62.48 L338.70,61.02 L338.20,60.96 L337.70,61.43 L337.20,63.32 L336.70,61.60 L336.20,61.40 L335.70,61.26 L335.20,63.86 L334.70,61.29 L334.20,61.17 L333.70,62.31 L333.20,61.69 L332.70,62.17 L332.20,61.64 L331.70,62.10 L331.20,64.22 L330.70,61.20 L330.20,62.12 L329.70,62.95 L329.20,61.74 L328.70,61.90 L328.20,62.37 L327.70,63.11 L327.20,63.65 L326.70,61.29 L326.20,62.22 L325.70,62.97 L325.20,62.20 L324.70,62.33 L324.20,64.42 L323.70,62.93 L323.20,61.32 L322.70,64.09 L322.20,62.15 L321.70,61.49 L321.20,61.40 L320.70,61.34 L320.20,62.70 L319.70,63.12 L319.20,61.45 L318.70,62.63 L318.20,61.83 L317.70,63.59 L317.20,61.54 L316.70,63.45 L316.20,62.91 L315.70,63.00 L315.20,63.61 L314.70,62.04 L314.20,62.94 L313.70,61.41 L313.20,65.13 L312.70,61.56 L312.20,64.71 L311.70,63.22 L311.20,62.68 L310.70,65.34 L310.20,63.65 L309.70,62.07 L309.20,61.60 L308.70,62.04 L308.20,61.72 L307.70,63.55 L307.20,61.68 L306.70,63.15 L306.20,63.42 L305.70,61.61 L305.20,61.99 L304.70,62.89 L304.20,64.11 L303.70,65.65 L303.20,62.53 L302.70,63.88 L302.20,62.06 L301.70,62.26 L301.20,61.60 L300.70,61.99 L300.20,62.52 L299.70,63.14 L299.20,64.32 L298.70,63.51 L298.20,62.13 L297.70,61.70 L297.20,61.69 L296.70,62.37 L296.20,62.46 L295.70,62.74 L295.20,62.08 L294.70,62.43Z" fill="#9c9cff" stroke="none"/>
<path d="M294.70,58.40 L295.20,58.40 L295.70,58.40 L296.20,58.40 L296.70,58.40 L297.20,58.40 L297.70,58.40 L298.20,58.40 L298.70,58.40 L299.20,58.40 L299.70,58.40 L300.20,58.40 L300.70,58.40 L301.20,58.40 L301.70,58.40 L302.20,58.40 L302.70,58.40 L303.20,58.40 L303.70,58.40 L304.20,58.40 L304.70,58.40 L305.20,58.40 L305.70,58.40 L306.20,58.40 L306.70,58.40 L307.20,58.40 L307.70,58.40 L308.20,58.40 L308.70,58.40 L309.20,58.40 L309.70,58.40 L310.20,58.40 L310.70,58.40 L311.20,58.40 L311.70,58.40 L312.20,58.40 L312.70,58.40 L313.20,58.40 L313.70,58.40 L314.20,58.40 L314.70,58.40 L315.20,58.40 L315.70,58.40 L316.20,58.40 L316.70,58.40 L317.20,58.40 L317.70,58.40 L318.20,58.40 L318.70,58.40 L319.20,58.40 L319.70,58.40 L320.20,58.40 L320.70,58.40 L321.20,58.40 L321.70,58.40 L322.20,58.40 L322.70,58.40 L323.20,58.40 L323.70,58.40 L324.20,58.40 L324.70,58.40 L325.20,58.40 L325.70,58.40 L326.20,58.40 L326.70,58.40 L327.20,58.40 L327.70,58.40 L328.20,58.40 L328.70,58.40 L329.20,58.40 L329.70,58.40 L330.20,58.40 L330.70,58.40 L331.20,58.40 L331.70,58.40 L332.20,58.40 L332.70,58.40 L333.20,58.40 L333.70,58.40 L334.20,58.40 L334.70,58.40 L335.20,58.40 L335.70,58.40 L336.20,58.40 L336.70,58.40 L337.20,58.40 L337.70,58.40 L338.20,58.40 L338.70,58.40 L339.20,58.40 L339.70,58.40 L340.20,58.40 L340.70,58.40 L341.20,58.40 L341.70,58.40 L342.20,58.40 L342.70,58.40 L343.20,58.40 L343.70,58.40 L344.20,58.40 L344.70,58.40 L345.20,58.40 L345.70,58.40 L346.20,58.40 L346.70,58.40 L347.20,58.40 L347.70,58.40 L348.20,58.40 L348.70,58.40 L349.20,58.40 L349.70,58.40 L350.20,58.40 L350.70,58.40 L351.20,58.40 L351.70,58.40 L352.20,58.40 L352.70,58.40 L353.20,58.40 L353.70,58.40 L354.20,58.40 L354.70,58.40 L355.20,58.40 L355.70,58.40 L356.20,58.40 L356.70,58.40 L357.20,58.40 L357.70,58.40 L358.20,58.40 L358.70,58.40 L359.20,58.40 L359.70,58.40 L360.20,58.40 L360.70,58.40 L361.20,58.40 L361.40,58.40 L361.70,58.40 L362.20,58.40 L362.40,58.40 L362.70,58.40 L362.90,58.40 L363.20,58.40 L363.40,58.40 L363.65,58.40 L363.70,58.40 L363.90,58.40 L364.10,58.40 L364.20,58.40 L364.30,58.40 L364.35,58.40 L364.40,58.40 L364.45,58.40 L364.50,58.40 L364.60,58.40 L364.70,58.40 L364.90,58.40 L365.15,58.40 L365.20,58.40 L365.40,58.40 L365.70,58.40 L365.90,58.40 L366.20,58.40 L366.40,58.40 L366.70,58.40 L367.20,58.40 L367.40,58.40 L367.70,58.40 L368.20,58.40 L368.70,58.40 L369.20,58.40 L369.70,58.40 L370.20,58.40 L370.70,58.40 L371.20,58.40 L371.70,58.40 L372.20,58.40 L372.70,58.40 L373.20,58.40 L373.70,58.40 L374.20,58.40 L374.70,58.40 L375.20,58.40 L375.70,58.40 L376.20,58.40 L376.70,58.40 L377.20,58.40 L377.70,58.40 L378.20,58.40 L378.70,58.40 L379.20,58.40 L379.70,58.40 L380.20,58.40 L380.70,58.40 L381.20,58.40 L381.70,58.40 L382.20,58.40 L382.70,58.40 L383.20,58.40 L383.70,58.40 L384.20,58.40 L384.70,58.40 L385.20,58.40 L385.70,58.40 L386.20,58.40 L386.70,58.40 L387.20,58.40 L387.70,58.40 L388.20,58.40 L388.70,58.40 L389.20,58.40 L389.70,58.40 L390.20,58.40 L390.70,58.40 L391.20,58.40 L391.70,58.40 L392.20,58.40 L392.70,58.40 L393.20,58.40 L393.70,58.40 L394.20,58.40 L394.70,58.40 L395.20,58.40 L395.70,58.40 L396.20,58.40 L396.70,58.40 L397.20,58.40 L397.70,58.40 L398.20,58.40 L398.70,58.40 L399.20,58.40 L399.70,58.40 L400.20,58.40 L400.70,58.40 L401.20,58.40 L401.70,58.40 L402.20,58.40 L402.70,58.40 L403.20,58.40 L403.70,58.40 L404.20,58.40 L404.70,58.40 L405.20,58.40 L405.70,58.40 L406.20,58.40 L406.70,58.40 L407.20,58.40 L407.70,58.40 L408.20,58.40 L408.70,58.40 L409.20,58.40 L409.70,58.40 L410.20,58.40 L410.70,58.40 L411.20,58.40 L411.70,58.40 L412.20,58.40 L412.70,58.40 L413.20,58.40 L413.70,58.40 L414.20,58.40 L414.70,58.40 L415.20,58.40 L415.70,58.40 L416.20,58.40 L416.70,58.40 L417.20,58.40 L417.70,58.40 L418.20,58.40 L418.70,58.40 L419.20,58.40 L419.70,58.40 L420.20,58.40 L420.70,58.40 L421.20,58.40 L421.70,58.40 L422.20,58.40 L422.70,58.40 L423.20,58.40 L423.70,58.40 L424.20,58.40 L424.70,58.40 L425.20,58.40 L425.70,58.40 L426.20,58.40 L426.70,58.40 L427.20,58.40 L427.70,58.40 L428.20,58.40 L428.70,58.40 L429.20,58.40 L429.70,58.40 L430.20,58.40 L430.70,58.40 L431.20,58.40 L431.70,58.40 L432.20,58.40 L432.70,58.40 L433.20,58.40 L433.70,58.40 L434.20,58.40" stroke="#1e8c1e" stroke-width="1.6"/>
<path d="M294.70,98.90 L295.20,98.79 L295.70,98.68 L296.20,98.57 L296.70,98.46 L297.20,98.35 L297.70,98.24 L298.20,98.13 L298.70,98.01 L299.20,97.90 L299.70,97.78 L300.20,97.67 L300.70,97.55 L301.20,97.43 L301.70,97.31 L302.20,97.19 L302.70,97.07 L303.20,96.95 L303.70,96.82 L304.20,96.70 L304.70,96.57 L305.20,96.45 L305.70,96.32 L306.20,96.19 L306.70,96.06 L307.20,95.93 L307.70,95.80 L308.20,95.67 L308.70,95.53 L309.20,95.40 L309.70,95.26 L310.20,95.12 L310.70,94.98 L311.20,94.84 L311.70,94.70 L312.20,94.56 L312.70,94.41 L313.20,94.27 L313.70,94.12 L314.20,93.97 L314.70,93.82 L315.20,93.67 L315.70,93.51 L316.20,93.36 L316.70,93.20 L317.20,93.04 L317.70,92.88 L318.20,92.72 L318.70,92.55 L319.20,92.39 L319.70,92.22 L320.20,92.05 L320.70,91.88 L321.20,91.71 L321.70,91.53 L322.20,91.35 L322.70,91.17 L323.20,90.99 L323.70,90.81 L324.20,90.62 L324.70,90.43 L325.20,90.24 L325.70,90.05 L326.20,89.85 L326.70,89.65 L327.20,89.45 L327.70,89.25 L328.20,89.04 L328.70,88.83 L329.20,88.62 L329.70,88.40 L330.20,88.18 L330.70,87.96 L331.20,87.74 L331.70,87.51 L332.20,87.28 L332.70,87.04 L333.20,86.80 L333.70,86.56 L334.20,86.31 L334.70,86.06 L335.20,85.80 L335.70,85.54 L336.20,85.27 L336.70,85.00 L337.20,84.73 L337.70,84.45 L338.20,84.16 L338.70,83.87 L339.20,83.57 L339.70,83.27 L340.20,82.96 L340.70,82.65 L341.20,82.32 L341.70,82.00 L342.20,81.66 L342.70,81.31 L343.20,80.96 L343.70,80.60 L344.20,80.23 L344.70,79.85 L345.20,79.46 L345.70,79.06 L346.20,78.65 L346.70,78.23 L347.20,77.80 L347.70,77.35 L348.20,76.89 L348.70,76.42 L349.20,75.93 L349.70,75.42 L350.20,74.90 L350.70,74.36 L351.20,73.79 L351.70,73.21 L352.20,72.60 L352.70,71.97 L353.20,71.31 L353.70,70.62 L354.20,69.89 L354.70,69.13 L355.20,68.33 L355.70,67.48 L356.20,66.59 L356.70,65.63 L357.20,64.62 L357.70,63.52 L358.20,62.35 L358.70,61.08 L359.20,59.68 L359.70,58.15 L360.20,56.45 L360.70,54.53 L361.20,52.33 L361.40,51.35 L361.70,49.75 L362.20,46.65 L362.40,45.20 L362.70,42.74 L362.90,40.84 L363.20,37.47 L363.40,34.71 L363.65,30.36 L363.70,29.32 L363.90,24.25 L364.10,16.63 L364.20,10.74 L364.30,1.46 L364.35,-5.49 L364.40,-10.75 L364.45,-5.49 L364.50,1.46 L364.60,10.74 L364.70,16.64 L364.90,24.25 L365.15,30.36 L365.20,31.34 L365.40,34.71 L365.70,38.68 L365.90,40.85 L366.20,43.61 L366.40,45.21 L366.70,47.33 L367.20,50.32 L367.40,51.36 L367.70,52.81 L368.20,54.95 L368.70,56.82 L369.20,58.49 L369.70,60.00 L370.20,61.37 L370.70,62.62 L371.20,63.78 L371.70,64.86 L372.20,65.86 L372.70,66.81 L373.20,67.70 L373.70,68.54 L374.20,69.33 L374.70,70.09 L375.20,70.81 L375.70,71.49 L376.20,72.15 L376.70,72.78 L377.20,73.39 L377.70,73.97 L378.20,74.53 L378.70,75.07 L379.20,75.60 L379.70,76.10 L380.20,76.59 L380.70,77.06 L381.20,77.52 L381.70,77.97 L382.20,78.40 L382.70,78.82 L383.20,79.23 L383.70,79.63 L384.20,80.02 L384.70,80.40 L385.20,80.77 L385.70,81.13 L386.20,81.49 L386.70,81.83 L387.20,82.17 L387.70,82.50 L388.20,82.82 L388.70,83.14 L389.20,83.45 L389.70,83.75 L390.20,84.05 L390.70,84.34 L391.20,84.63 L391.70,84.91 L392.20,85.19 L392.70,85.46 L393.20,85.73 L393.70,85.99 L394.20,86.25 L394.70,86.50 L395.20,86.75 L395.70,86.99 L396.20,87.24 L396.70,87.47 L397.20,87.71 L397.70,87.94 L398.20,88.17 L398.70,88.39 L399.20,88.61 L399.70,88.83 L400.20,89.04 L400.70,89.25 L401.20,89.46 L401.70,89.67 L402.20,89.87 L402.70,90.07 L403.20,90.27 L403.70,90.47 L404.20,90.66 L404.70,90.85 L405.20,91.04 L405.70,91.22 L406.20,91.41 L406.70,91.59 L407.20,91.77 L407.70,91.95 L408.20,92.12 L408.70,92.29 L409.20,92.47 L409.70,92.63 L410.20,92.80 L410.70,92.97 L411.20,93.13 L411.70,93.29 L412.20,93.46 L412.70,93.61 L413.20,93.77 L413.70,93.93 L414.20,94.08 L414.70,94.23 L415.20,94.39 L415.70,94.54 L416.20,94.68 L416.70,94.83 L417.20,94.98 L417.70,95.12 L418.20,95.26 L418.70,95.40 L419.20,95.54 L419.70,95.68 L420.20,95.82 L420.70,95.96 L421.20,96.09 L421.70,96.23 L422.20,96.36 L422.70,96.49 L423.20,96.62 L423.70,96.75 L424.20,96.88 L424.70,97.01 L425.20,97.13 L425.70,97.26 L426.20,97.38 L426.70,97.51 L427.20,97.63 L427.70,97.75 L428.20,97.87 L428.70,97.99 L429.20,98.11 L429.70,98.23 L430.20,98.34 L430.70,98.46 L431.20,98.58 L431.70,98.69 L432.20,98.80 L432.70,98.92 L433.20,99.03 L433.70,99.14 L434.20,99.25" stroke="#f01414" stroke-width="1.7" stroke-dasharray="7.5 7"/>
<path d="M294.70,58.32 L295.20,58.32 L295.70,58.32 L296.20,58.32 L296.70,58.31 L297.20,58.31 L297.70,58.31 L298.20,58.31 L298.70,58.31 L299.20,58.31 L299.70,58.31 L300.20,58.30 L300.70,58.30 L301.20,58.30 L301.70,58.30 L302.20,58.30 L302.70,58.30 L303.20,58.29 L303.70,58.29 L304.20,58.29 L304.70,58.29 L305.20,58.29 L305.70,58.29 L306.20,58.28 L306.70,58.28 L307.20,58.28 L307.70,58.28 L308.20,58.28 L308.70,58.27 L309.20,58.27 L309.70,58.27 L310.20,58.27 L310.70,58.26 L311.20,58.26 L311.70,58.26 L312.20,58.26 L312.70,58.25 L313.20,58.25 L313.70,58.25 L314.20,58.24 L314.70,58.24 L315.20,58.24 L315.70,58.24 L316.20,58.23 L316.70,58.23 L317.20,58.22 L317.70,58.22 L318.20,58.22 L318.70,58.21 L319.20,58.21 L319.70,58.21 L320.20,58.20 L320.70,58.20 L321.20,58.19 L321.70,58.19 L322.20,58.18 L322.70,58.18 L323.20,58.17 L323.70,58.17 L324.20,58.16 L324.70,58.15 L325.20,58.15 L325.70,58.14 L326.20,58.13 L326.70,58.13 L327.20,58.12 L327.70,58.11 L328.20,58.11 L328.70,58.10 L329.20,58.09 L329.70,58.08 L330.20,58.07 L330.70,58.06 L331.20,58.05 L331.70,58.04 L332.20,58.03 L332.70,58.02 L333.20,58.01 L333.70,57.99 L334.20,57.98 L334.70,57.97 L335.20,57.95 L335.70,57.94 L336.20,57.92 L336.70,57.91 L337.20,57.89 L337.70,57.87 L338.20,57.85 L338.70,57.83 L339.20,57.81 L339.70,57.78 L340.20,57.76 L340.70,57.73 L341.20,57.71 L341.70,57.68 L342.20,57.64 L342.70,57.61 L343.20,57.58 L343.70,57.54 L344.20,57.50 L344.70,57.45 L345.20,57.41 L345.70,57.36 L346.20,57.30 L346.70,57.24 L347.20,57.18 L347.70,57.11 L348.20,57.04 L348.70,56.96 L349.20,56.87 L349.70,56.78 L350.20,56.67 L350.70,56.56 L351.20,56.44 L351.70,56.30 L352.20,56.15 L352.70,55.98 L353.20,55.79 L353.70,55.59 L354.20,55.35 L354.70,55.09 L355.20,54.80 L355.70,54.47 L356.20,54.09 L356.70,53.67 L357.20,53.18 L357.70,52.61 L358.20,51.96 L358.70,51.21 L359.20,50.33 L359.70,49.29 L360.20,48.06 L360.70,46.58 L361.20,44.80 L361.40,43.97 L361.70,42.59 L362.20,39.81 L362.40,38.48 L362.70,36.17 L362.90,34.37 L363.20,31.10 L363.40,28.41 L363.65,24.12 L363.70,23.09 L363.90,18.06 L364.10,10.47 L364.20,4.58 L364.30,-4.70 L364.35,-11.64 L364.40,-16.90 L364.45,-11.64 L364.50,-4.69 L364.60,4.58 L364.70,10.47 L364.90,18.07 L365.15,24.13 L365.20,25.09 L365.40,28.41 L365.70,32.29 L365.90,34.38 L366.20,37.00 L366.40,38.49 L366.70,40.44 L367.20,43.09 L367.40,43.98 L367.70,45.20 L368.20,46.91 L368.70,48.34 L369.20,49.53 L369.70,50.53 L370.20,51.39 L370.70,52.12 L371.20,52.75 L371.70,53.30 L372.20,53.77 L372.70,54.19 L373.20,54.55 L373.70,54.88 L374.20,55.16 L374.70,55.42 L375.20,55.64 L375.70,55.85 L376.20,56.03 L376.70,56.19 L377.20,56.34 L377.70,56.48 L378.20,56.60 L378.70,56.71 L379.20,56.81 L379.70,56.90 L380.20,56.99 L380.70,57.07 L381.20,57.14 L381.70,57.21 L382.20,57.27 L382.70,57.33 L383.20,57.38 L383.70,57.43 L384.20,57.47 L384.70,57.52 L385.20,57.56 L385.70,57.59 L386.20,57.63 L386.70,57.66 L387.20,57.69 L387.70,57.72 L388.20,57.75 L388.70,57.77 L389.20,57.80 L389.70,57.82 L390.20,57.84 L390.70,57.86 L391.20,57.88 L391.70,57.90 L392.20,57.92 L392.70,57.93 L393.20,57.95 L393.70,57.96 L394.20,57.98 L394.70,57.99 L395.20,58.00 L395.70,58.02 L396.20,58.03 L396.70,58.04 L397.20,58.05 L397.70,58.06 L398.20,58.07 L398.70,58.08 L399.20,58.09 L399.70,58.10 L400.20,58.11 L400.70,58.11 L401.20,58.12 L401.70,58.13 L402.20,58.14 L402.70,58.14 L403.20,58.15 L403.70,58.16 L404.20,58.16 L404.70,58.17 L405.20,58.17 L405.70,58.18 L406.20,58.18 L406.70,58.19 L407.20,58.19 L407.70,58.20 L408.20,58.20 L408.70,58.21 L409.20,58.21 L409.70,58.22 L410.20,58.22 L410.70,58.22 L411.20,58.23 L411.70,58.23 L412.20,58.23 L412.70,58.24 L413.20,58.24 L413.70,58.24 L414.20,58.25 L414.70,58.25 L415.20,58.25 L415.70,58.26 L416.20,58.26 L416.70,58.26 L417.20,58.26 L417.70,58.27 L418.20,58.27 L418.70,58.27 L419.20,58.27 L419.70,58.28 L420.20,58.28 L420.70,58.28 L421.20,58.28 L421.70,58.28 L422.20,58.29 L422.70,58.29 L423.20,58.29 L423.70,58.29 L424.20,58.29 L424.70,58.30 L425.20,58.30 L425.70,58.30 L426.20,58.30 L426.70,58.30 L427.20,58.30 L427.70,58.31 L428.20,58.31 L428.70,58.31 L429.20,58.31 L429.70,58.31 L430.20,58.31 L430.70,58.31 L431.20,58.32 L431.70,58.32 L432.20,58.32 L432.70,58.32 L433.20,58.32 L433.70,58.32 L434.20,58.32" stroke="#28288c" stroke-width="1.5"/>
</g>
<g clip-path="url(#ce)" fill="none" stroke-linejoin="round">
<path d="M526.50,82.46 L527.00,83.81 L527.50,82.21 L528.00,83.72 L528.50,83.54 L529.00,83.68 L529.50,82.86 L530.00,81.01 L530.50,83.01 L531.00,81.11 L531.50,83.85 L532.00,83.93 L532.50,81.59 L533.00,82.97 L533.50,82.71 L534.00,83.79 L534.50,81.58 L535.00,81.29 L535.50,82.22 L536.00,81.21 L536.50,83.28 L537.00,83.31 L537.50,82.58 L538.00,82.88 L538.50,83.05 L539.00,82.72 L539.50,82.81 L540.00,81.11 L540.50,80.30 L541.00,82.39 L541.50,81.90 L542.00,83.74 L542.50,83.30 L543.00,81.18 L543.50,82.72 L544.00,83.03 L544.50,83.76 L545.00,82.98 L545.50,82.48 L546.00,83.70 L546.50,83.75 L547.00,83.74 L547.50,82.76 L548.00,83.09 L548.50,82.17 L549.00,83.08 L549.50,83.50 L550.00,83.65 L550.50,82.97 L551.00,82.26 L551.50,82.35 L552.00,83.14 L552.50,82.42 L553.00,83.47 L553.50,81.87 L554.00,83.58 L554.50,80.70 L555.00,81.71 L555.50,83.42 L556.00,81.92 L556.50,83.26 L557.00,82.29 L557.50,80.57 L558.00,82.79 L558.50,81.28 L559.00,82.69 L559.50,82.88 L560.00,80.73 L560.50,81.92 L561.00,80.23 L561.50,83.26 L562.00,82.84 L562.50,82.72 L563.00,80.28 L563.50,82.65 L564.00,80.88 L564.50,80.52 L565.00,81.52 L565.50,82.34 L566.00,79.81 L566.50,82.46 L567.00,82.77 L567.50,81.44 L568.00,82.22 L568.50,82.08 L569.00,81.87 L569.50,82.11 L570.00,80.27 L570.50,79.88 L571.00,82.18 L571.50,81.76 L572.00,82.08 L572.50,80.31 L573.00,80.54 L573.50,81.66 L574.00,81.56 L574.50,82.11 L575.00,80.56 L575.50,81.38 L576.00,81.27 L576.50,81.02 L577.00,80.24 L577.50,81.33 L578.00,80.21 L578.50,79.92 L579.00,79.45 L579.50,81.11 L580.00,79.11 L580.50,80.66 L581.00,79.57 L581.50,79.47 L582.00,77.81 L582.50,78.91 L583.00,78.52 L583.50,78.56 L584.00,78.47 L584.50,77.39 L585.00,78.29 L585.50,77.93 L586.00,77.83 L586.50,74.48 L587.00,76.56 L587.50,76.48 L588.00,74.06 L588.50,73.55 L589.00,74.69 L589.50,72.15 L590.00,73.64 L590.50,72.41 L591.00,70.88 L591.50,70.82 L592.00,66.89 L592.20,67.04 L592.50,67.59 L593.00,66.38 L593.20,67.20 L593.50,66.70 L593.70,62.50 L594.00,64.65 L594.20,64.49 L594.50,63.93 L594.70,63.31 L594.95,61.89 L595.00,64.12 L595.20,62.58 L595.45,59.94 L595.50,63.05 L595.70,61.90 L595.85,62.74 L596.00,61.36 L596.10,62.70 L596.20,62.94 L596.30,62.06 L596.40,62.62 L596.50,62.70 L596.55,61.09 L596.70,61.82 L596.95,61.12 L597.00,61.53 L597.20,63.59 L597.45,63.41 L597.50,63.45 L597.70,62.96 L598.00,64.79 L598.20,65.44 L598.50,64.14 L598.70,62.92 L599.00,65.71 L599.20,66.37 L599.50,66.87 L600.00,68.95 L600.20,69.02 L600.50,69.90 L601.00,71.26 L601.50,71.11 L602.00,71.35 L602.50,73.69 L603.00,74.32 L603.50,73.63 L604.00,75.47 L604.50,73.50 L605.00,76.23 L605.50,76.71 L606.00,75.70 L606.50,78.00 L607.00,77.83 L607.50,78.37 L608.00,77.57 L608.50,77.68 L609.00,77.51 L609.50,79.53 L610.00,79.46 L610.50,77.34 L611.00,79.64 L611.50,79.46 L612.00,79.73 L612.50,79.83 L613.00,79.08 L613.50,77.65 L614.00,80.98 L614.50,80.56 L615.00,80.88 L615.50,79.24 L616.00,81.48 L616.50,80.27 L617.00,80.63 L617.50,80.20 L618.00,80.24 L618.50,80.24 L619.00,81.66 L619.50,82.13 L620.00,82.28 L620.50,81.61 L621.00,80.48 L621.50,81.76 L622.00,82.03 L622.50,82.26 L623.00,81.37 L623.50,82.17 L624.00,81.88 L624.50,81.33 L625.00,82.29 L625.50,79.98 L626.00,82.35 L626.50,82.93 L627.00,81.89 L627.50,81.83 L628.00,82.33 L628.50,80.97 L629.00,82.56 L629.50,81.63 L630.00,82.15 L630.50,82.57 L631.00,82.94 L631.50,82.25 L632.00,78.99 L632.50,82.33 L633.00,82.43 L633.50,82.21 L634.00,82.58 L634.50,82.01 L635.00,82.77 L635.50,79.14 L636.00,82.62 L636.50,83.27 L637.00,82.18 L637.50,81.60 L638.00,81.70 L638.50,82.98 L639.00,83.55 L639.50,82.21 L640.00,82.19 L640.50,83.19 L641.00,82.74 L641.50,81.67 L642.00,80.50 L642.50,82.04 L643.00,83.42 L643.50,82.10 L644.00,83.21 L644.50,81.13 L645.00,82.67 L645.50,82.72 L646.00,83.67 L646.50,83.10 L647.00,82.46 L647.50,82.34 L648.00,83.41 L648.50,83.12 L649.00,82.63 L649.50,83.18 L650.00,82.44 L650.50,81.18 L651.00,83.03 L651.50,81.07 L652.00,82.33 L652.50,83.02 L653.00,82.19 L653.50,79.46 L654.00,81.89 L654.50,82.94 L655.00,82.11 L655.50,82.24 L656.00,82.79 L656.50,83.72 L657.00,83.38 L657.50,83.08 L658.00,79.91 L658.50,81.66 L659.00,83.14 L659.50,83.34 L660.00,82.50 L660.50,81.57 L661.00,82.04 L661.50,83.19 L662.00,83.48 L662.50,82.37 L663.00,83.22 L663.50,81.77 L664.00,83.50 L664.50,80.33 L665.00,82.08 L665.50,83.33 L666.00,83.92 L666.00,92.52 L665.50,92.91 L665.00,91.16 L664.50,93.17 L664.00,92.61 L663.50,92.89 L663.00,91.16 L662.50,91.89 L662.00,91.89 L661.50,92.97 L661.00,91.54 L660.50,91.87 L660.00,91.16 L659.50,91.72 L659.00,91.19 L658.50,91.05 L658.00,92.58 L657.50,93.48 L657.00,91.93 L656.50,90.93 L656.00,90.94 L655.50,94.11 L655.00,92.13 L654.50,94.43 L654.00,92.83 L653.50,91.51 L653.00,91.55 L652.50,91.00 L652.00,91.28 L651.50,92.80 L651.00,91.93 L650.50,93.04 L650.00,92.80 L649.50,92.08 L649.00,90.93 L648.50,92.12 L648.00,90.84 L647.50,91.67 L647.00,91.79 L646.50,90.94 L646.00,91.63 L645.50,92.36 L645.00,91.86 L644.50,92.15 L644.00,92.31 L643.50,91.38 L643.00,91.56 L642.50,91.10 L642.00,93.06 L641.50,92.17 L641.00,93.50 L640.50,91.34 L640.00,92.69 L639.50,91.02 L639.00,90.80 L638.50,91.38 L638.00,92.33 L637.50,91.75 L637.00,91.00 L636.50,93.50 L636.00,91.39 L635.50,90.93 L635.00,90.86 L634.50,90.56 L634.00,90.86 L633.50,92.70 L633.00,93.65 L632.50,93.00 L632.00,90.91 L631.50,90.87 L631.00,92.34 L630.50,90.69 L630.00,92.86 L629.50,91.93 L629.00,94.85 L628.50,90.88 L628.00,91.55 L627.50,90.89 L627.00,91.62 L626.50,91.93 L626.00,91.62 L625.50,91.39 L625.00,90.27 L624.50,90.16 L624.00,90.76 L623.50,90.62 L623.00,92.69 L622.50,89.81 L622.00,90.25 L621.50,90.12 L621.00,91.70 L620.50,89.70 L620.00,91.86 L619.50,89.47 L619.00,89.48 L618.50,90.33 L618.00,90.27 L617.50,89.95 L617.00,90.76 L616.50,90.19 L616.00,91.63 L615.50,89.43 L615.00,89.06 L614.50,89.10 L614.00,90.10 L613.50,88.63 L613.00,88.60 L612.50,89.93 L612.00,88.82 L611.50,88.86 L611.00,88.82 L610.50,89.36 L610.00,87.13 L609.50,87.41 L609.00,86.92 L608.50,86.71 L608.00,87.88 L607.50,88.74 L607.00,86.75 L606.50,85.89 L606.00,86.30 L605.50,84.97 L605.00,84.57 L604.50,84.51 L604.00,82.83 L603.50,83.56 L603.00,82.53 L602.50,82.20 L602.00,81.09 L601.50,79.39 L601.00,79.33 L600.50,78.56 L600.20,76.94 L600.00,78.59 L599.50,75.90 L599.20,76.41 L599.00,76.22 L598.70,73.92 L598.50,73.77 L598.20,74.20 L598.00,73.64 L597.70,72.06 L597.50,72.91 L597.45,72.39 L597.20,72.15 L597.00,71.15 L596.95,70.91 L596.70,71.66 L596.55,72.47 L596.50,72.27 L596.40,73.85 L596.30,73.84 L596.20,72.51 L596.10,71.17 L596.00,71.19 L595.85,74.08 L595.70,72.55 L595.50,71.41 L595.45,72.97 L595.20,71.94 L595.00,72.22 L594.95,71.97 L594.70,72.24 L594.50,72.31 L594.20,72.73 L594.00,73.19 L593.70,74.34 L593.50,74.34 L593.20,75.77 L593.00,76.04 L592.50,77.50 L592.20,77.38 L592.00,79.75 L591.50,79.08 L591.00,79.49 L590.50,80.21 L590.00,82.07 L589.50,82.57 L589.00,83.01 L588.50,85.31 L588.00,84.91 L587.50,86.87 L587.00,85.07 L586.50,86.10 L586.00,85.75 L585.50,85.49 L585.00,87.14 L584.50,88.08 L584.00,86.32 L583.50,86.93 L583.00,89.22 L582.50,88.21 L582.00,87.72 L581.50,88.24 L581.00,88.11 L580.50,88.15 L580.00,88.46 L579.50,90.67 L579.00,89.20 L578.50,88.93 L578.00,89.10 L577.50,92.22 L577.00,89.05 L576.50,90.82 L576.00,89.99 L575.50,92.76 L575.00,91.95 L574.50,89.22 L574.00,89.65 L573.50,90.85 L573.00,90.31 L572.50,91.09 L572.00,89.86 L571.50,89.71 L571.00,91.32 L570.50,91.60 L570.00,90.88 L569.50,90.42 L569.00,91.11 L568.50,90.95 L568.00,90.98 L567.50,92.30 L567.00,90.64 L566.50,91.46 L566.00,91.27 L565.50,91.28 L565.00,93.92 L564.50,91.09 L564.00,90.29 L563.50,91.60 L563.00,90.49 L562.50,91.28 L562.00,90.53 L561.50,91.21 L561.00,90.57 L560.50,91.81 L560.00,92.45 L559.50,94.07 L559.00,93.73 L558.50,92.66 L558.00,91.65 L557.50,91.56 L557.00,91.44 L556.50,91.98 L556.00,90.64 L555.50,91.68 L555.00,91.97 L554.50,91.98 L554.00,91.83 L553.50,91.64 L553.00,91.30 L552.50,92.23 L552.00,91.66 L551.50,92.90 L551.00,91.07 L550.50,91.00 L550.00,92.45 L549.50,93.19 L549.00,91.40 L548.50,92.25 L548.00,92.25 L547.50,92.29 L547.00,91.75 L546.50,91.88 L546.00,92.24 L545.50,91.80 L545.00,92.59 L544.50,91.05 L544.00,90.88 L543.50,91.66 L543.00,92.87 L542.50,91.19 L542.00,91.00 L541.50,93.67 L541.00,92.00 L540.50,92.95 L540.00,92.79 L539.50,92.50 L539.00,91.82 L538.50,93.52 L538.00,90.94 L537.50,92.32 L537.00,91.20 L536.50,91.60 L536.00,93.00 L535.50,91.07 L535.00,91.06 L534.50,92.47 L534.00,92.66 L533.50,93.70 L533.00,91.85 L532.50,92.27 L532.00,91.67 L531.50,93.96 L531.00,92.36 L530.50,91.26 L530.00,91.27 L529.50,91.73 L529.00,91.46 L528.50,91.27 L528.00,91.64 L527.50,92.61 L527.00,93.15 L526.50,91.83Z" fill="#9c9cff" stroke="none"/>
<path d="M526.50,88.00 L527.00,88.00 L527.50,88.00 L528.00,88.00 L528.50,88.00 L529.00,88.00 L529.50,88.00 L530.00,88.00 L530.50,88.00 L531.00,88.00 L531.50,88.00 L532.00,88.00 L532.50,88.00 L533.00,88.00 L533.50,88.00 L534.00,88.00 L534.50,88.00 L535.00,88.00 L535.50,88.00 L536.00,88.00 L536.50,88.00 L537.00,88.00 L537.50,88.00 L538.00,88.00 L538.50,88.00 L539.00,88.00 L539.50,88.00 L540.00,88.00 L540.50,88.00 L541.00,88.00 L541.50,88.00 L542.00,88.00 L542.50,88.00 L543.00,88.00 L543.50,88.00 L544.00,88.00 L544.50,88.00 L545.00,88.00 L545.50,88.00 L546.00,88.00 L546.50,88.00 L547.00,88.00 L547.50,88.00 L548.00,88.00 L548.50,88.00 L549.00,88.00 L549.50,88.00 L550.00,88.00 L550.50,88.00 L551.00,88.00 L551.50,88.00 L552.00,88.00 L552.50,88.00 L553.00,88.00 L553.50,88.00 L554.00,88.00 L554.50,88.00 L555.00,88.00 L555.50,88.00 L556.00,88.00 L556.50,88.00 L557.00,88.00 L557.50,88.00 L558.00,88.00 L558.50,88.00 L559.00,88.00 L559.50,88.00 L560.00,88.00 L560.50,88.00 L561.00,88.00 L561.50,88.00 L562.00,88.00 L562.50,88.00 L563.00,88.00 L563.50,88.00 L564.00,88.00 L564.50,88.00 L565.00,88.00 L565.50,88.00 L566.00,88.00 L566.50,88.00 L567.00,88.00 L567.50,88.00 L568.00,88.00 L568.50,88.00 L569.00,88.00 L569.50,88.00 L570.00,88.00 L570.50,88.00 L571.00,88.00 L571.50,88.00 L572.00,88.00 L572.50,88.00 L573.00,88.00 L573.50,88.00 L574.00,88.00 L574.50,88.00 L575.00,88.00 L575.50,88.00 L576.00,88.00 L576.50,88.00 L577.00,88.00 L577.50,88.00 L578.00,88.00 L578.50,88.00 L579.00,88.00 L579.50,88.00 L580.00,88.00 L580.50,88.00 L581.00,88.00 L581.50,88.00 L582.00,88.00 L582.50,88.00 L583.00,88.00 L583.50,88.00 L584.00,88.00 L584.50,88.00 L585.00,88.00 L585.50,88.00 L586.00,88.00 L586.50,88.00 L587.00,88.00 L587.50,88.00 L588.00,88.00 L588.50,88.00 L589.00,88.00 L589.50,88.00 L590.00,88.00 L590.50,88.00 L591.00,88.00 L591.50,88.00 L592.00,88.00 L592.50,88.00 L593.00,88.00 L593.20,88.00 L593.50,88.00 L594.00,88.00 L594.20,88.00 L594.50,88.00 L594.70,88.00 L595.00,88.00 L595.20,88.00 L595.45,88.00 L595.50,88.00 L595.70,88.00 L595.90,88.00 L596.00,88.00 L596.10,88.00 L596.15,88.00 L596.20,88.00 L596.25,88.00 L596.30,88.00 L596.40,88.00 L596.50,88.00 L596.70,88.00 L596.95,88.00 L597.00,88.00 L597.20,88.00 L597.50,88.00 L597.70,88.00 L598.00,88.00 L598.20,88.00 L598.50,88.00 L599.00,88.00 L599.20,88.00 L599.50,88.00 L600.00,88.00 L600.50,88.00 L601.00,88.00 L601.50,88.00 L602.00,88.00 L602.50,88.00 L603.00,88.00 L603.50,88.00 L604.00,88.00 L604.50,88.00 L605.00,88.00 L605.50,88.00 L606.00,88.00 L606.50,88.00 L607.00,88.00 L607.50,88.00 L608.00,88.00 L608.50,88.00 L609.00,88.00 L609.50,88.00 L610.00,88.00 L610.50,88.00 L611.00,88.00 L611.50,88.00 L612.00,88.00 L612.50,88.00 L613.00,88.00 L613.50,88.00 L614.00,88.00 L614.50,88.00 L615.00,88.00 L615.50,88.00 L616.00,88.00 L616.50,88.00 L617.00,88.00 L617.50,88.00 L618.00,88.00 L618.50,88.00 L619.00,88.00 L619.50,88.00 L620.00,88.00 L620.50,88.00 L621.00,88.00 L621.50,88.00 L622.00,88.00 L622.50,88.00 L623.00,88.00 L623.50,88.00 L624.00,88.00 L624.50,88.00 L625.00,88.00 L625.50,88.00 L626.00,88.00 L626.50,88.00 L627.00,88.00 L627.50,88.00 L628.00,88.00 L628.50,88.00 L629.00,88.00 L629.50,88.00 L630.00,88.00 L630.50,88.00 L631.00,88.00 L631.50,88.00 L632.00,88.00 L632.50,88.00 L633.00,88.00 L633.50,88.00 L634.00,88.00 L634.50,88.00 L635.00,88.00 L635.50,88.00 L636.00,88.00 L636.50,88.00 L637.00,88.00 L637.50,88.00 L638.00,88.00 L638.50,88.00 L639.00,88.00 L639.50,88.00 L640.00,88.00 L640.50,88.00 L641.00,88.00 L641.50,88.00 L642.00,88.00 L642.50,88.00 L643.00,88.00 L643.50,88.00 L644.00,88.00 L644.50,88.00 L645.00,88.00 L645.50,88.00 L646.00,88.00 L646.50,88.00 L647.00,88.00 L647.50,88.00 L648.00,88.00 L648.50,88.00 L649.00,88.00 L649.50,88.00 L650.00,88.00 L650.50,88.00 L651.00,88.00 L651.50,88.00 L652.00,88.00 L652.50,88.00 L653.00,88.00 L653.50,88.00 L654.00,88.00 L654.50,88.00 L655.00,88.00 L655.50,88.00 L656.00,88.00 L656.50,88.00 L657.00,88.00 L657.50,88.00 L658.00,88.00 L658.50,88.00 L659.00,88.00 L659.50,88.00 L660.00,88.00 L660.50,88.00 L661.00,88.00 L661.50,88.00 L662.00,88.00 L662.50,88.00 L663.00,88.00 L663.50,88.00 L664.00,88.00 L664.50,88.00 L665.00,88.00 L665.50,88.00 L666.00,88.00" stroke="#1e8c1e" stroke-width="1.6"/>
<path d="M526.50,114.70 L527.00,114.59 L527.50,114.48 L528.00,114.37 L528.50,114.26 L529.00,114.15 L529.50,114.03 L530.00,113.92 L530.50,113.81 L531.00,113.69 L531.50,113.57 L532.00,113.46 L532.50,113.34 L533.00,113.22 L533.50,113.10 L534.00,112.98 L534.50,112.86 L535.00,112.73 L535.50,112.61 L536.00,112.48 L536.50,112.36 L537.00,112.23 L537.50,112.10 L538.00,111.97 L538.50,111.84 L539.00,111.71 L539.50,111.58 L540.00,111.45 L540.50,111.31 L541.00,111.17 L541.50,111.04 L542.00,110.90 L542.50,110.76 L543.00,110.62 L543.50,110.47 L544.00,110.33 L544.50,110.18 L545.00,110.04 L545.50,109.89 L546.00,109.74 L546.50,109.59 L547.00,109.44 L547.50,109.28 L548.00,109.13 L548.50,108.97 L549.00,108.81 L549.50,108.65 L550.00,108.49 L550.50,108.32 L551.00,108.16 L551.50,107.99 L552.00,107.82 L552.50,107.65 L553.00,107.47 L553.50,107.30 L554.00,107.12 L554.50,106.94 L555.00,106.76 L555.50,106.58 L556.00,106.39 L556.50,106.20 L557.00,106.01 L557.50,105.82 L558.00,105.62 L558.50,105.42 L559.00,105.22 L559.50,105.02 L560.00,104.81 L560.50,104.60 L561.00,104.39 L561.50,104.17 L562.00,103.96 L562.50,103.73 L563.00,103.51 L563.50,103.28 L564.00,103.05 L564.50,102.81 L565.00,102.58 L565.50,102.33 L566.00,102.09 L566.50,101.84 L567.00,101.58 L567.50,101.32 L568.00,101.06 L568.50,100.79 L569.00,100.52 L569.50,100.24 L570.00,99.96 L570.50,99.67 L571.00,99.38 L571.50,99.08 L572.00,98.77 L572.50,98.46 L573.00,98.14 L573.50,97.82 L574.00,97.49 L574.50,97.15 L575.00,96.80 L575.50,96.45 L576.00,96.09 L576.50,95.72 L577.00,95.34 L577.50,94.95 L578.00,94.55 L578.50,94.14 L579.00,93.71 L579.50,93.28 L580.00,92.84 L580.50,92.38 L581.00,91.91 L581.50,91.42 L582.00,90.92 L582.50,90.40 L583.00,89.87 L583.50,89.31 L584.00,88.74 L584.50,88.14 L585.00,87.53 L585.50,86.89 L586.00,86.22 L586.50,85.52 L587.00,84.80 L587.50,84.04 L588.00,83.25 L588.50,82.42 L589.00,81.56 L589.50,80.65 L590.00,79.69 L590.50,78.69 L591.00,77.64 L591.50,76.54 L592.00,75.39 L592.50,74.20 L593.00,72.99 L593.20,72.50 L593.50,71.77 L594.00,70.58 L594.20,70.12 L594.50,69.48 L594.70,69.08 L595.00,68.54 L595.20,68.24 L595.45,67.92 L595.50,67.86 L595.70,67.68 L595.90,67.56 L596.00,67.52 L596.10,67.49 L596.15,67.49 L596.20,67.49 L596.25,67.49 L596.30,67.49 L596.40,67.52 L596.50,67.56 L596.70,67.68 L596.95,67.92 L597.00,67.98 L597.20,68.24 L597.50,68.72 L597.70,69.08 L598.00,69.69 L598.20,70.13 L598.50,70.81 L599.00,72.01 L599.20,72.50 L599.50,73.23 L600.00,74.44 L600.50,75.62 L601.00,76.76 L601.50,77.85 L602.00,78.90 L602.50,79.89 L603.00,80.83 L603.50,81.74 L604.00,82.60 L604.50,83.42 L605.00,84.20 L605.50,84.95 L606.00,85.67 L606.50,86.36 L607.00,87.02 L607.50,87.66 L608.00,88.27 L608.50,88.86 L609.00,89.43 L609.50,89.98 L610.00,90.51 L610.50,91.03 L611.00,91.53 L611.50,92.01 L612.00,92.48 L612.50,92.93 L613.00,93.38 L613.50,93.81 L614.00,94.23 L614.50,94.63 L615.00,95.03 L615.50,95.42 L616.00,95.80 L616.50,96.17 L617.00,96.53 L617.50,96.88 L618.00,97.23 L618.50,97.56 L619.00,97.90 L619.50,98.22 L620.00,98.53 L620.50,98.85 L621.00,99.15 L621.50,99.45 L622.00,99.74 L622.50,100.03 L623.00,100.31 L623.50,100.59 L624.00,100.86 L624.50,101.13 L625.00,101.39 L625.50,101.65 L626.00,101.90 L626.50,102.15 L627.00,102.40 L627.50,102.64 L628.00,102.88 L628.50,103.11 L629.00,103.34 L629.50,103.57 L630.00,103.79 L630.50,104.01 L631.00,104.23 L631.50,104.45 L632.00,104.66 L632.50,104.87 L633.00,105.07 L633.50,105.28 L634.00,105.48 L634.50,105.68 L635.00,105.87 L635.50,106.06 L636.00,106.26 L636.50,106.44 L637.00,106.63 L637.50,106.81 L638.00,107.00 L638.50,107.17 L639.00,107.35 L639.50,107.53 L640.00,107.70 L640.50,107.87 L641.00,108.04 L641.50,108.21 L642.00,108.38 L642.50,108.54 L643.00,108.70 L643.50,108.86 L644.00,109.02 L644.50,109.18 L645.00,109.33 L645.50,109.49 L646.00,109.64 L646.50,109.79 L647.00,109.94 L647.50,110.09 L648.00,110.24 L648.50,110.38 L649.00,110.53 L649.50,110.67 L650.00,110.81 L650.50,110.95 L651.00,111.09 L651.50,111.23 L652.00,111.36 L652.50,111.50 L653.00,111.63 L653.50,111.76 L654.00,111.89 L654.50,112.03 L655.00,112.15 L655.50,112.28 L656.00,112.41 L656.50,112.54 L657.00,112.66 L657.50,112.78 L658.00,112.91 L658.50,113.03 L659.00,113.15 L659.50,113.27 L660.00,113.39 L660.50,113.51 L661.00,113.63 L661.50,113.74 L662.00,113.86 L662.50,113.97 L663.00,114.09 L663.50,114.20 L664.00,114.31 L664.50,114.42 L665.00,114.53 L665.50,114.64 L666.00,114.75" stroke="#f01414" stroke-width="1.7" stroke-dasharray="7.5 7"/>
<path d="M526.50,87.78 L527.00,87.78 L527.50,87.77 L528.00,87.77 L528.50,87.77 L529.00,87.76 L529.50,87.76 L530.00,87.76 L530.50,87.75 L531.00,87.75 L531.50,87.74 L532.00,87.74 L532.50,87.74 L533.00,87.73 L533.50,87.73 L534.00,87.72 L534.50,87.72 L535.00,87.71 L535.50,87.71 L536.00,87.71 L536.50,87.70 L537.00,87.70 L537.50,87.69 L538.00,87.69 L538.50,87.68 L539.00,87.67 L539.50,87.67 L540.00,87.66 L540.50,87.66 L541.00,87.65 L541.50,87.64 L542.00,87.64 L542.50,87.63 L543.00,87.63 L543.50,87.62 L544.00,87.61 L544.50,87.60 L545.00,87.60 L545.50,87.59 L546.00,87.58 L546.50,87.57 L547.00,87.56 L547.50,87.56 L548.00,87.55 L548.50,87.54 L549.00,87.53 L549.50,87.52 L550.00,87.51 L550.50,87.50 L551.00,87.49 L551.50,87.48 L552.00,87.46 L552.50,87.45 L553.00,87.44 L553.50,87.43 L554.00,87.41 L554.50,87.40 L555.00,87.39 L555.50,87.37 L556.00,87.36 L556.50,87.34 L557.00,87.33 L557.50,87.31 L558.00,87.29 L558.50,87.27 L559.00,87.25 L559.50,87.24 L560.00,87.22 L560.50,87.19 L561.00,87.17 L561.50,87.15 L562.00,87.13 L562.50,87.10 L563.00,87.08 L563.50,87.05 L564.00,87.02 L564.50,86.99 L565.00,86.96 L565.50,86.93 L566.00,86.90 L566.50,86.87 L567.00,86.83 L567.50,86.79 L568.00,86.75 L568.50,86.71 L569.00,86.67 L569.50,86.62 L570.00,86.58 L570.50,86.53 L571.00,86.47 L571.50,86.42 L572.00,86.36 L572.50,86.30 L573.00,86.23 L573.50,86.16 L574.00,86.09 L574.50,86.01 L575.00,85.93 L575.50,85.85 L576.00,85.76 L576.50,85.66 L577.00,85.56 L577.50,85.45 L578.00,85.33 L578.50,85.21 L579.00,85.07 L579.50,84.93 L580.00,84.78 L580.50,84.62 L581.00,84.45 L581.50,84.26 L582.00,84.06 L582.50,83.85 L583.00,83.62 L583.50,83.37 L584.00,83.10 L584.50,82.81 L585.00,82.50 L585.50,82.17 L586.00,81.80 L586.50,81.40 L587.00,80.98 L587.50,80.51 L588.00,80.00 L588.50,79.45 L589.00,78.86 L589.50,78.21 L590.00,77.50 L590.50,76.74 L591.00,75.91 L591.50,75.02 L592.00,74.07 L592.50,73.06 L593.00,72.01 L593.20,71.57 L593.50,70.92 L594.00,69.85 L594.20,69.44 L594.50,68.85 L594.70,68.48 L595.00,67.98 L595.20,67.70 L595.45,67.40 L595.50,67.35 L595.70,67.18 L595.90,67.06 L596.00,67.02 L596.10,67.00 L596.15,67.00 L596.20,67.00 L596.25,67.00 L596.30,67.00 L596.40,67.02 L596.50,67.06 L596.70,67.18 L596.95,67.40 L597.00,67.45 L597.20,67.70 L597.50,68.14 L597.70,68.48 L598.00,69.04 L598.20,69.44 L598.50,70.06 L599.00,71.14 L599.20,71.58 L599.50,72.22 L600.00,73.27 L600.50,74.27 L601.00,75.21 L601.50,76.09 L602.00,76.90 L602.50,77.65 L603.00,78.34 L603.50,78.98 L604.00,79.57 L604.50,80.11 L605.00,80.61 L605.50,81.07 L606.00,81.49 L606.50,81.88 L607.00,82.24 L607.50,82.57 L608.00,82.88 L608.50,83.16 L609.00,83.42 L609.50,83.67 L610.00,83.90 L610.50,84.11 L611.00,84.30 L611.50,84.49 L612.00,84.66 L612.50,84.82 L613.00,84.96 L613.50,85.10 L614.00,85.23 L614.50,85.36 L615.00,85.47 L615.50,85.58 L616.00,85.68 L616.50,85.78 L617.00,85.87 L617.50,85.95 L618.00,86.03 L618.50,86.11 L619.00,86.18 L619.50,86.25 L620.00,86.31 L620.50,86.37 L621.00,86.43 L621.50,86.49 L622.00,86.54 L622.50,86.59 L623.00,86.63 L623.50,86.68 L624.00,86.72 L624.50,86.76 L625.00,86.80 L625.50,86.84 L626.00,86.87 L626.50,86.91 L627.00,86.94 L627.50,86.97 L628.00,87.00 L628.50,87.03 L629.00,87.06 L629.50,87.08 L630.00,87.11 L630.50,87.13 L631.00,87.16 L631.50,87.18 L632.00,87.20 L632.50,87.22 L633.00,87.24 L633.50,87.26 L634.00,87.28 L634.50,87.30 L635.00,87.31 L635.50,87.33 L636.00,87.35 L636.50,87.36 L637.00,87.38 L637.50,87.39 L638.00,87.40 L638.50,87.42 L639.00,87.43 L639.50,87.44 L640.00,87.46 L640.50,87.47 L641.00,87.48 L641.50,87.49 L642.00,87.50 L642.50,87.51 L643.00,87.52 L643.50,87.53 L644.00,87.54 L644.50,87.55 L645.00,87.56 L645.50,87.57 L646.00,87.58 L646.50,87.58 L647.00,87.59 L647.50,87.60 L648.00,87.61 L648.50,87.61 L649.00,87.62 L649.50,87.63 L650.00,87.63 L650.50,87.64 L651.00,87.65 L651.50,87.65 L652.00,87.66 L652.50,87.67 L653.00,87.67 L653.50,87.68 L654.00,87.68 L654.50,87.69 L655.00,87.69 L655.50,87.70 L656.00,87.70 L656.50,87.71 L657.00,87.71 L657.50,87.72 L658.00,87.72 L658.50,87.73 L659.00,87.73 L659.50,87.73 L660.00,87.74 L660.50,87.74 L661.00,87.75 L661.50,87.75 L662.00,87.75 L662.50,87.76 L663.00,87.76 L663.50,87.76 L664.00,87.77 L664.50,87.77 L665.00,87.77 L665.50,87.78 L666.00,87.78" stroke="#28288c" stroke-width="1.5"/>
</g>
<g clip-path="url(#cg)" fill="none" stroke-linejoin="round">
<path d="M760.80,80.33 L761.30,81.50 L761.80,80.18 L762.30,81.18 L762.80,79.88 L763.30,80.84 L763.80,80.31 L764.30,79.03 L764.80,79.29 L765.30,80.20 L765.80,80.55 L766.30,80.15 L766.80,80.26 L767.30,79.61 L767.80,80.05 L768.30,77.66 L768.80,79.91 L769.30,79.94 L769.80,77.28 L770.30,78.97 L770.80,79.13 L771.30,78.92 L771.80,78.14 L772.30,78.64 L772.80,77.25 L773.30,77.55 L773.80,78.27 L774.30,77.56 L774.80,78.54 L775.30,77.52 L775.80,77.85 L776.30,77.83 L776.80,77.22 L777.30,77.31 L777.80,77.72 L778.30,76.75 L778.80,74.98 L779.30,76.28 L779.80,76.12 L780.30,76.19 L780.80,75.90 L781.30,74.63 L781.80,75.81 L782.30,74.81 L782.80,75.72 L783.30,75.48 L783.80,75.19 L784.30,75.27 L784.80,75.17 L785.30,74.12 L785.80,74.11 L786.30,73.04 L786.80,74.89 L787.30,74.84 L787.80,73.88 L788.30,74.70 L788.80,74.50 L789.30,73.35 L789.80,73.25 L790.30,73.00 L790.80,73.39 L791.30,72.32 L791.80,72.47 L792.30,72.37 L792.80,72.39 L793.30,71.47 L793.80,72.44 L794.30,71.53 L794.80,71.73 L795.30,72.29 L795.80,71.69 L796.30,69.68 L796.80,71.50 L797.30,71.19 L797.80,68.26 L798.30,70.68 L798.80,70.27 L799.30,69.87 L799.80,70.68 L800.30,69.81 L800.80,66.32 L801.30,68.55 L801.80,69.17 L802.30,68.73 L802.80,65.57 L803.30,64.66 L803.80,68.55 L804.30,68.43 L804.80,68.33 L805.30,67.37 L805.80,67.93 L806.30,67.04 L806.80,65.17 L807.30,67.49 L807.80,66.56 L808.30,66.97 L808.80,66.84 L809.30,65.48 L809.80,64.94 L810.30,65.37 L810.80,65.40 L811.30,64.86 L811.80,62.68 L812.30,65.10 L812.80,65.03 L813.30,64.12 L813.80,62.98 L814.30,64.63 L814.80,61.93 L815.30,63.97 L815.80,63.00 L816.30,63.92 L816.80,61.19 L817.30,63.12 L817.80,63.54 L818.30,62.46 L818.80,62.97 L819.30,62.87 L819.80,62.32 L820.30,62.18 L820.80,62.27 L821.30,61.99 L821.80,61.74 L822.30,61.82 L822.80,61.75 L823.30,60.52 L823.80,61.50 L824.30,61.36 L824.80,61.65 L825.30,61.59 L825.80,60.73 L826.30,60.87 L826.80,61.33 L827.30,61.74 L827.80,60.62 L828.30,60.26 L828.80,61.53 L829.30,60.62 L829.80,61.75 L830.30,60.09 L830.80,60.69 L831.30,62.21 L831.80,62.27 L832.30,62.45 L832.80,61.97 L833.30,62.21 L833.80,61.28 L834.30,61.92 L834.80,62.62 L835.30,62.84 L835.80,61.73 L836.30,62.70 L836.80,60.56 L837.30,62.11 L837.80,63.98 L838.30,63.79 L838.80,64.43 L839.30,63.46 L839.80,64.10 L840.30,63.83 L840.80,65.07 L841.30,64.66 L841.80,64.66 L842.30,65.15 L842.80,65.85 L843.30,65.74 L843.80,65.99 L844.30,66.56 L844.80,64.79 L845.30,65.19 L845.80,66.44 L846.30,67.09 L846.80,67.69 L847.30,66.22 L847.80,68.12 L848.30,67.16 L848.80,66.45 L849.30,64.86 L849.80,68.27 L850.30,69.10 L850.80,66.16 L851.30,69.40 L851.80,69.14 L852.30,69.16 L852.80,69.21 L853.30,69.36 L853.80,68.75 L854.30,69.71 L854.80,69.25 L855.30,69.73 L855.80,70.16 L856.30,71.28 L856.80,71.44 L857.30,70.69 L857.80,70.77 L858.30,71.70 L858.80,71.06 L859.30,72.18 L859.80,72.74 L860.30,72.48 L860.80,71.67 L861.30,72.48 L861.80,73.33 L862.30,73.00 L862.80,73.40 L863.30,73.81 L863.80,73.14 L864.30,72.86 L864.80,73.67 L865.30,73.33 L865.80,74.35 L866.30,74.61 L866.80,74.75 L867.30,74.93 L867.80,74.88 L868.30,73.88 L868.80,75.49 L869.30,74.87 L869.80,75.50 L870.30,74.30 L870.80,76.21 L871.30,75.20 L871.80,76.14 L872.30,76.23 L872.80,76.18 L873.30,76.87 L873.80,75.31 L874.30,76.13 L874.80,75.79 L875.30,73.78 L875.80,77.47 L876.30,77.00 L876.80,77.34 L877.30,77.82 L877.80,76.59 L878.30,78.01 L878.80,77.48 L879.30,76.06 L879.80,78.55 L880.30,78.70 L880.80,77.87 L881.30,78.66 L881.80,77.97 L882.30,78.41 L882.80,79.25 L883.30,79.07 L883.80,79.07 L884.30,79.37 L884.80,78.71 L885.30,79.14 L885.80,78.43 L886.30,79.94 L886.80,79.32 L887.30,80.14 L887.80,79.78 L888.30,79.99 L888.80,80.04 L889.30,80.35 L889.80,79.65 L890.30,79.93 L890.80,80.89 L891.30,81.26 L891.80,80.75 L892.30,81.49 L892.80,80.65 L893.30,80.46 L893.80,81.09 L894.30,80.79 L894.80,80.19 L895.30,77.69 L895.80,80.32 L896.30,82.47 L896.80,82.39 L897.30,82.06 L897.80,81.77 L898.30,80.83 L898.80,83.01 L899.30,80.93 L899.80,82.85 L899.80,88.69 L899.30,88.46 L898.80,89.00 L898.30,88.02 L897.80,87.78 L897.30,88.43 L896.80,88.99 L896.30,88.66 L895.80,90.33 L895.30,89.54 L894.80,89.94 L894.30,88.39 L893.80,89.47 L893.30,88.18 L892.80,88.88 L892.30,87.09 L891.80,87.22 L891.30,88.90 L890.80,86.51 L890.30,87.61 L889.80,86.55 L889.30,87.44 L888.80,86.41 L888.30,86.35 L887.80,86.28 L887.30,87.71 L886.80,86.11 L886.30,86.56 L885.80,87.25 L885.30,85.14 L884.80,84.96 L884.30,85.57 L883.80,85.92 L883.30,85.99 L882.80,87.77 L882.30,84.61 L881.80,87.45 L881.30,86.53 L880.80,84.47 L880.30,85.82 L879.80,84.14 L879.30,85.48 L878.80,84.95 L878.30,83.62 L877.80,84.20 L877.30,84.27 L876.80,84.56 L876.30,83.95 L875.80,82.61 L875.30,83.63 L874.80,83.00 L874.30,84.23 L873.80,82.30 L873.30,85.20 L872.80,84.72 L872.30,83.36 L871.80,83.25 L871.30,81.99 L870.80,82.20 L870.30,81.13 L869.80,81.00 L869.30,80.77 L868.80,81.27 L868.30,82.38 L867.80,82.87 L867.30,83.03 L866.80,81.54 L866.30,80.59 L865.80,80.85 L865.30,79.92 L864.80,81.32 L864.30,79.24 L863.80,79.56 L863.30,80.26 L862.80,79.61 L862.30,79.06 L861.80,78.97 L861.30,78.76 L860.80,79.62 L860.30,78.82 L859.80,77.70 L859.30,80.06 L858.80,79.61 L858.30,77.59 L857.80,76.94 L857.30,76.93 L856.80,76.90 L856.30,77.60 L855.80,78.27 L855.30,77.96 L854.80,77.43 L854.30,78.19 L853.80,76.38 L853.30,75.84 L852.80,76.97 L852.30,75.09 L851.80,77.13 L851.30,76.49 L850.80,74.46 L850.30,75.42 L849.80,74.40 L849.30,74.95 L848.80,74.67 L848.30,74.06 L847.80,74.21 L847.30,73.01 L846.80,73.79 L846.30,74.13 L845.80,74.42 L845.30,72.32 L844.80,72.80 L844.30,72.09 L843.80,72.89 L843.30,72.33 L842.80,71.85 L842.30,71.33 L841.80,71.66 L841.30,72.51 L840.80,72.62 L840.30,70.43 L839.80,70.76 L839.30,70.52 L838.80,69.94 L838.30,70.83 L837.80,70.93 L837.30,71.05 L836.80,69.29 L836.30,72.01 L835.80,71.96 L835.30,69.23 L834.80,68.59 L834.30,68.66 L833.80,69.42 L833.30,67.66 L832.80,68.28 L832.30,68.24 L831.80,70.12 L831.30,68.67 L830.80,69.25 L830.30,68.49 L829.80,67.28 L829.30,67.78 L828.80,68.85 L828.30,67.82 L827.80,67.22 L827.30,69.65 L826.80,68.71 L826.30,68.16 L825.80,67.57 L825.30,67.88 L824.80,68.29 L824.30,67.35 L823.80,68.21 L823.30,67.55 L822.80,70.54 L822.30,70.56 L821.80,69.05 L821.30,70.33 L820.80,68.56 L820.30,68.21 L819.80,71.76 L819.30,68.17 L818.80,71.15 L818.30,68.55 L817.80,69.83 L817.30,68.82 L816.80,69.66 L816.30,69.89 L815.80,70.50 L815.30,71.89 L814.80,69.73 L814.30,71.37 L813.80,70.32 L813.30,70.45 L812.80,71.41 L812.30,73.73 L811.80,71.33 L811.30,71.26 L810.80,71.74 L810.30,72.04 L809.80,73.01 L809.30,72.53 L808.80,72.41 L808.30,72.60 L807.80,72.68 L807.30,73.47 L806.80,73.01 L806.30,73.01 L805.80,73.52 L805.30,73.78 L804.80,74.27 L804.30,75.14 L803.80,75.46 L803.30,74.24 L802.80,75.11 L802.30,76.44 L801.80,76.06 L801.30,75.51 L800.80,75.87 L800.30,75.82 L799.80,77.77 L799.30,78.08 L798.80,76.23 L798.30,76.29 L797.80,76.97 L797.30,77.72 L796.80,76.77 L796.30,78.91 L795.80,77.08 L795.30,77.69 L794.80,78.18 L794.30,77.89 L793.80,78.19 L793.30,77.96 L792.80,80.18 L792.30,78.54 L791.80,79.91 L791.30,79.30 L790.80,80.58 L790.30,80.36 L789.80,80.63 L789.30,80.35 L788.80,82.11 L788.30,80.57 L787.80,80.02 L787.30,81.39 L786.80,81.56 L786.30,80.33 L785.80,82.37 L785.30,81.99 L784.80,81.46 L784.30,82.71 L783.80,82.15 L783.30,81.38 L782.80,82.80 L782.30,82.11 L781.80,83.29 L781.30,85.01 L780.80,82.34 L780.30,83.22 L779.80,82.86 L779.30,83.22 L778.80,82.85 L778.30,83.08 L777.80,83.96 L777.30,86.61 L776.80,83.79 L776.30,84.22 L775.80,85.20 L775.30,83.51 L774.80,85.00 L774.30,85.92 L773.80,84.53 L773.30,84.03 L772.80,84.04 L772.30,85.85 L771.80,84.57 L771.30,85.03 L770.80,86.00 L770.30,85.93 L769.80,86.35 L769.30,87.67 L768.80,86.27 L768.30,86.16 L767.80,86.23 L767.30,88.77 L766.80,85.80 L766.30,88.02 L765.80,87.72 L765.30,85.88 L764.80,86.35 L764.30,86.51 L763.80,86.65 L763.30,86.52 L762.80,87.70 L762.30,86.49 L761.80,87.71 L761.30,87.62 L760.80,86.81Z" fill="#fdd6b0" stroke="none"/>
<path d="M760.80,84.48 L761.80,84.27 L762.80,84.05 L763.80,83.83 L764.80,83.61 L765.80,83.38 L766.80,83.16 L767.80,82.92 L768.80,82.69 L769.80,82.45 L770.80,82.21 L771.80,81.96 L772.80,81.71 L773.80,81.46 L774.80,81.20 L775.80,80.94 L776.80,80.68 L777.80,80.41 L778.80,80.14 L779.80,79.86 L780.80,79.58 L781.80,79.29 L782.80,79.00 L783.80,78.71 L784.80,78.41 L785.80,78.11 L786.80,77.80 L787.80,77.48 L788.80,77.16 L789.80,76.84 L790.80,76.51 L791.80,76.17 L792.80,75.83 L793.80,75.48 L794.80,75.13 L795.80,74.77 L796.80,74.41 L797.80,74.04 L798.80,73.67 L799.80,73.29 L800.80,72.90 L801.80,72.51 L802.80,72.12 L803.80,71.72 L804.80,71.31 L805.80,70.91 L806.80,70.50 L807.80,70.09 L808.80,69.67 L809.80,69.26 L810.80,68.85 L811.80,68.45 L812.80,68.04 L813.80,67.65 L814.80,67.26 L815.80,66.89 L816.80,66.53 L817.80,66.19 L818.80,65.87 L819.80,65.58 L820.80,65.32 L821.80,65.08 L822.80,64.89 L823.80,64.73 L824.80,64.61 L825.80,64.53 L826.80,64.50 L827.80,64.51 L828.80,64.57 L829.80,64.67 L830.80,64.82 L831.80,65.00 L832.80,65.22 L833.80,65.47 L834.80,65.75 L835.80,66.06 L836.80,66.39 L837.80,66.75 L838.80,67.11 L839.80,67.49 L840.80,67.88 L841.80,68.28 L842.80,68.69 L843.80,69.10 L844.80,69.51 L845.80,69.92 L846.80,70.33 L847.80,70.74 L848.80,71.15 L849.80,71.56 L850.80,71.96 L851.80,72.35 L852.80,72.75 L853.80,73.13 L854.80,73.51 L855.80,73.89 L856.80,74.26 L857.80,74.63 L858.80,74.99 L859.80,75.34 L860.80,75.69 L861.80,76.04 L862.80,76.37 L863.80,76.71 L864.80,77.03 L865.80,77.35 L866.80,77.67 L867.80,77.98 L868.80,78.29 L869.80,78.59 L870.80,78.89 L871.80,79.18 L872.80,79.47 L873.80,79.75 L874.80,80.03 L875.80,80.30 L876.80,80.57 L877.80,80.84 L878.80,81.10 L879.80,81.36 L880.80,81.61 L881.80,81.86 L882.80,82.11 L883.80,82.35 L884.80,82.59 L885.80,82.83 L886.80,83.06 L887.80,83.29 L888.80,83.52 L889.80,83.74 L890.80,83.97 L891.80,84.18 L892.80,84.40 L893.80,84.61 L894.80,84.82 L895.80,85.03 L896.80,85.23 L897.80,85.43 L898.80,85.63 L899.80,85.83" stroke="#b57638" stroke-width="1.6"/>
<path d="M760.80,113.62 L761.30,114.51 L761.80,115.07 L762.30,114.30 L762.80,114.55 L763.30,115.02 L763.80,115.48 L764.30,115.58 L764.80,114.51 L765.30,114.90 L765.80,114.59 L766.30,115.31 L766.80,112.81 L767.30,114.75 L767.80,111.75 L768.30,114.54 L768.80,114.59 L769.30,114.34 L769.80,114.67 L770.30,112.25 L770.80,112.45 L771.30,113.42 L771.80,113.32 L772.30,113.72 L772.80,112.33 L773.30,109.45 L773.80,110.25 L774.30,110.03 L774.80,113.00 L775.30,112.91 L775.80,112.31 L776.30,113.02 L776.80,112.40 L777.30,109.95 L777.80,110.70 L778.30,112.43 L778.80,111.00 L779.30,111.34 L779.80,111.40 L780.30,111.39 L780.80,111.98 L781.30,110.86 L781.80,110.79 L782.30,109.17 L782.80,110.93 L783.30,110.91 L783.80,109.93 L784.30,110.81 L784.80,109.88 L785.30,109.54 L785.80,108.03 L786.30,109.36 L786.80,108.56 L787.30,110.00 L787.80,108.56 L788.30,108.65 L788.80,107.88 L789.30,106.09 L789.80,108.88 L790.30,108.69 L790.80,108.77 L791.30,103.74 L791.80,106.53 L792.30,108.30 L792.80,107.25 L793.30,107.12 L793.80,106.17 L794.30,105.76 L794.80,106.76 L795.30,105.16 L795.80,104.50 L796.30,106.09 L796.80,105.14 L797.30,104.26 L797.80,105.86 L798.30,105.34 L798.80,105.48 L799.30,104.66 L799.80,103.68 L800.30,103.86 L800.80,103.00 L801.30,103.64 L801.80,103.09 L802.30,103.73 L802.80,102.47 L803.30,102.86 L803.80,99.07 L804.30,102.54 L804.80,99.75 L805.30,100.71 L805.80,100.98 L806.30,101.69 L806.80,101.10 L807.30,100.51 L807.80,99.62 L808.30,99.40 L808.80,99.71 L809.30,99.19 L809.80,98.26 L810.30,98.01 L810.80,94.40 L811.30,97.10 L811.80,96.87 L812.30,97.24 L812.80,96.90 L813.30,95.44 L813.80,95.43 L814.30,93.70 L814.80,95.36 L815.30,92.45 L815.80,93.57 L816.30,93.49 L816.80,91.20 L817.30,92.36 L817.80,89.42 L818.30,91.16 L818.80,90.53 L819.30,90.28 L819.80,88.30 L820.30,88.41 L820.80,87.96 L821.30,86.31 L821.80,86.14 L822.30,85.74 L822.80,84.55 L823.30,83.65 L823.80,82.48 L824.30,81.20 L824.80,80.60 L825.30,77.99 L825.80,74.97 L826.30,74.48 L826.80,74.19 L827.30,72.48 L827.80,70.01 L828.30,67.44 L828.80,64.11 L829.30,59.81 L829.55,56.13 L829.80,50.96 L830.05,43.98 L830.30,37.05 L830.45,33.11 L830.55,30.72 L830.60,29.65 L830.70,27.80 L830.80,25.60 L830.90,27.80 L831.00,29.65 L831.05,30.72 L831.15,33.11 L831.30,37.06 L831.55,43.99 L831.80,50.97 L832.05,56.05 L832.30,57.71 L832.80,61.92 L833.30,66.67 L833.80,67.36 L834.30,69.23 L834.80,72.42 L835.30,76.23 L835.80,77.04 L836.30,78.34 L836.80,79.18 L837.30,80.03 L837.80,82.93 L838.30,81.58 L838.80,84.79 L839.30,82.70 L839.80,85.67 L840.30,87.16 L840.80,88.12 L841.30,87.00 L841.80,89.53 L842.30,88.95 L842.80,91.21 L843.30,90.79 L843.80,90.35 L844.30,92.16 L844.80,91.84 L845.30,92.74 L845.80,94.51 L846.30,94.25 L846.80,94.79 L847.30,95.66 L847.80,95.24 L848.30,96.62 L848.80,96.50 L849.30,96.45 L849.80,98.04 L850.30,97.99 L850.80,97.85 L851.30,98.75 L851.80,98.95 L852.30,99.02 L852.80,99.39 L853.30,100.11 L853.80,98.92 L854.30,100.88 L854.80,99.46 L855.30,101.83 L855.80,100.85 L856.30,102.22 L856.80,101.35 L857.30,102.32 L857.80,102.88 L858.30,103.39 L858.80,103.31 L859.30,103.94 L859.80,104.45 L860.30,104.06 L860.80,104.45 L861.30,104.89 L861.80,105.44 L862.30,105.22 L862.80,103.76 L863.30,105.19 L863.80,105.37 L864.30,106.43 L864.80,106.55 L865.30,105.06 L865.80,106.14 L866.30,106.60 L866.80,107.36 L867.30,105.69 L867.80,108.13 L868.30,106.81 L868.80,106.16 L869.30,108.14 L869.80,108.42 L870.30,109.00 L870.80,109.06 L871.30,109.44 L871.80,107.49 L872.30,109.52 L872.80,106.59 L873.30,108.61 L873.80,107.01 L874.30,108.16 L874.80,109.73 L875.30,109.52 L875.80,109.86 L876.30,110.03 L876.80,110.76 L877.30,110.79 L877.80,108.45 L878.30,109.66 L878.80,111.67 L879.30,111.83 L879.80,110.97 L880.30,110.81 L880.80,111.72 L881.30,110.98 L881.80,108.25 L882.30,111.29 L882.80,112.47 L883.30,111.98 L883.80,113.24 L884.30,111.49 L884.80,112.72 L885.30,112.36 L885.80,113.54 L886.30,112.59 L886.80,113.47 L887.30,114.20 L887.80,113.98 L888.30,112.03 L888.80,110.97 L889.30,114.29 L889.80,114.09 L890.30,113.69 L890.80,114.11 L891.30,114.46 L891.80,112.68 L892.30,115.37 L892.80,115.40 L893.30,113.18 L893.80,113.98 L894.30,114.96 L894.80,115.16 L895.30,113.73 L895.80,115.85 L896.30,114.41 L896.80,114.21 L897.30,115.85 L897.80,116.33 L898.30,116.64 L898.80,115.70 L899.30,115.64 L899.80,116.55 L899.80,124.84 L899.30,124.46 L898.80,126.78 L898.30,124.84 L897.80,123.87 L897.30,123.59 L896.80,123.83 L896.30,125.93 L895.80,125.31 L895.30,125.48 L894.80,123.69 L894.30,122.96 L893.80,124.42 L893.30,123.73 L892.80,123.77 L892.30,124.19 L891.80,123.58 L891.30,123.40 L890.80,122.98 L890.30,122.82 L889.80,124.12 L889.30,123.02 L888.80,122.36 L888.30,122.86 L887.80,121.77 L887.30,121.73 L886.80,121.54 L886.30,122.34 L885.80,121.46 L885.30,120.86 L884.80,121.41 L884.30,122.87 L883.80,122.09 L883.30,120.88 L882.80,120.59 L882.30,120.33 L881.80,120.84 L881.30,120.40 L880.80,121.96 L880.30,119.64 L879.80,120.69 L879.30,120.84 L878.80,122.06 L878.30,122.37 L877.80,119.46 L877.30,119.15 L876.80,118.72 L876.30,119.87 L875.80,118.57 L875.30,119.77 L874.80,119.98 L874.30,119.39 L873.80,119.60 L873.30,118.50 L872.80,118.72 L872.30,117.59 L871.80,117.44 L871.30,118.81 L870.80,116.61 L870.30,116.26 L869.80,117.51 L869.30,117.41 L868.80,116.01 L868.30,116.08 L867.80,117.10 L867.30,116.68 L866.80,116.23 L866.30,115.21 L865.80,114.94 L865.30,115.36 L864.80,114.13 L864.30,114.09 L863.80,114.65 L863.30,114.75 L862.80,115.60 L862.30,112.85 L861.80,113.54 L861.30,114.43 L860.80,113.40 L860.30,113.59 L859.80,113.93 L859.30,113.67 L858.80,112.06 L858.30,112.33 L857.80,110.50 L857.30,110.76 L856.80,109.99 L856.30,109.89 L855.80,109.63 L855.30,110.81 L854.80,109.76 L854.30,108.63 L853.80,108.98 L853.30,107.94 L852.80,108.64 L852.30,107.36 L851.80,108.24 L851.30,109.62 L850.80,106.22 L850.30,105.84 L849.80,106.76 L849.30,106.22 L848.80,105.16 L848.30,104.59 L847.80,103.73 L847.30,103.31 L846.80,103.91 L846.30,103.12 L845.80,102.26 L845.30,101.95 L844.80,103.41 L844.30,100.31 L843.80,99.46 L843.30,99.31 L842.80,98.90 L842.30,98.76 L841.80,97.44 L841.30,97.34 L840.80,97.36 L840.30,95.35 L839.80,94.61 L839.30,94.45 L838.80,92.18 L838.30,91.63 L837.80,90.56 L837.30,90.22 L836.80,90.23 L836.30,86.94 L835.80,89.44 L835.30,84.36 L834.80,82.28 L834.30,79.60 L833.80,78.14 L833.30,77.15 L832.80,71.28 L832.30,67.19 L832.05,66.67 L831.80,63.02 L831.55,57.33 L831.30,53.40 L831.15,48.76 L831.05,48.45 L831.00,45.10 L830.90,48.06 L830.80,42.87 L830.70,43.36 L830.60,44.68 L830.55,46.64 L830.45,49.79 L830.30,52.54 L830.05,61.05 L829.80,61.26 L829.55,65.50 L829.30,66.98 L828.80,72.88 L828.30,76.83 L827.80,77.42 L827.30,81.88 L826.80,81.67 L826.30,83.37 L825.80,85.29 L825.30,87.56 L824.80,88.71 L824.30,88.92 L823.80,90.43 L823.30,92.94 L822.80,92.24 L822.30,93.91 L821.80,94.80 L821.30,95.15 L820.80,97.61 L820.30,97.83 L819.80,96.87 L819.30,97.75 L818.80,99.24 L818.30,98.89 L817.80,100.30 L817.30,102.43 L816.80,101.48 L816.30,104.03 L815.80,106.02 L815.30,102.11 L814.80,105.28 L814.30,103.33 L813.80,106.09 L813.30,104.26 L812.80,105.53 L812.30,104.65 L811.80,105.60 L811.30,105.87 L810.80,107.78 L810.30,108.54 L809.80,108.35 L809.30,108.28 L808.80,107.74 L808.30,109.06 L807.80,109.44 L807.30,108.85 L806.80,109.03 L806.30,109.99 L805.80,110.32 L805.30,110.75 L804.80,111.40 L804.30,111.29 L803.80,110.59 L803.30,112.16 L802.80,112.81 L802.30,114.16 L801.80,113.99 L801.30,112.20 L800.80,113.89 L800.30,112.25 L799.80,113.15 L799.30,112.49 L798.80,113.22 L798.30,113.97 L797.80,114.77 L797.30,113.46 L796.80,114.07 L796.30,116.19 L795.80,116.74 L795.30,114.42 L794.80,115.32 L794.30,115.75 L793.80,115.90 L793.30,118.72 L792.80,115.43 L792.30,115.35 L791.80,116.26 L791.30,117.50 L790.80,116.65 L790.30,116.20 L789.80,118.21 L789.30,117.71 L788.80,117.56 L788.30,118.81 L787.80,118.50 L787.30,118.62 L786.80,119.42 L786.30,119.64 L785.80,118.37 L785.30,119.00 L784.80,118.80 L784.30,119.39 L783.80,120.91 L783.30,119.08 L782.80,121.55 L782.30,119.90 L781.80,119.15 L781.30,120.12 L780.80,119.79 L780.30,120.29 L779.80,120.60 L779.30,122.45 L778.80,121.08 L778.30,121.62 L777.80,122.75 L777.30,120.08 L776.80,120.50 L776.30,122.25 L775.80,120.45 L775.30,121.67 L774.80,121.11 L774.30,120.81 L773.80,122.70 L773.30,122.92 L772.80,121.76 L772.30,121.55 L771.80,122.93 L771.30,122.30 L770.80,123.41 L770.30,122.30 L769.80,123.66 L769.30,122.16 L768.80,122.09 L768.30,122.79 L767.80,123.68 L767.30,122.58 L766.80,123.54 L766.30,124.25 L765.80,123.44 L765.30,124.60 L764.80,123.58 L764.30,123.76 L763.80,126.22 L763.30,125.17 L762.80,125.05 L762.30,123.88 L761.80,123.61 L761.30,124.05 L760.80,124.76Z" fill="#9c9cff" stroke="none"/>
<path d="M830.80,38.51L830.80,25.60" stroke="#9c9cff" stroke-width="1.2"/>
<path d="M760.80,136.50 L761.30,136.50 L761.80,136.50 L762.30,136.50 L762.80,136.50 L763.30,136.50 L763.80,136.50 L764.30,136.50 L764.80,136.50 L765.30,136.50 L765.80,136.50 L766.30,136.50 L766.80,136.50 L767.30,136.50 L767.80,136.50 L768.30,136.50 L768.80,136.50 L769.30,136.50 L769.80,136.50 L770.30,136.50 L770.80,136.50 L771.30,136.50 L771.80,136.50 L772.30,136.50 L772.80,136.50 L773.30,136.50 L773.80,136.50 L774.30,136.50 L774.80,136.50 L775.30,136.50 L775.80,136.50 L776.30,136.50 L776.80,136.50 L777.30,136.50 L777.80,136.50 L778.30,136.50 L778.80,136.50 L779.30,136.50 L779.80,136.50 L780.30,136.50 L780.80,136.50 L781.30,136.50 L781.80,136.50 L782.30,136.50 L782.80,136.50 L783.30,136.50 L783.80,136.50 L784.30,136.50 L784.80,136.50 L785.30,136.50 L785.80,136.50 L786.30,136.50 L786.80,136.50 L787.30,136.50 L787.80,136.50 L788.30,136.50 L788.80,136.50 L789.30,136.50 L789.80,136.50 L790.30,136.50 L790.80,136.50 L791.30,136.50 L791.80,136.50 L792.30,136.50 L792.80,136.50 L793.30,136.50 L793.80,136.50 L794.30,136.50 L794.80,136.50 L795.30,136.50 L795.80,136.50 L796.30,136.50 L796.80,136.50 L797.30,136.50 L797.80,136.50 L798.30,136.50 L798.80,136.50 L799.30,136.50 L799.80,136.50 L800.30,136.50 L800.80,136.50 L801.30,136.50 L801.80,136.50 L802.30,136.50 L802.80,136.50 L803.30,136.50 L803.80,136.50 L804.30,136.50 L804.80,136.50 L805.30,136.50 L805.80,136.50 L806.30,136.50 L806.80,136.50 L807.30,136.50 L807.80,136.50 L808.30,136.50 L808.80,136.50 L809.30,136.50 L809.80,136.50 L810.30,136.50 L810.80,136.50 L811.30,136.50 L811.80,136.50 L812.30,136.50 L812.80,136.50 L813.30,136.50 L813.80,136.50 L814.30,136.50 L814.80,136.50 L815.30,136.50 L815.80,136.50 L816.30,136.50 L816.80,136.50 L817.30,136.50 L817.80,136.50 L818.30,136.50 L818.80,136.50 L819.30,136.50 L819.80,136.50 L820.30,136.50 L820.80,136.50 L821.30,136.50 L821.80,136.50 L822.30,136.50 L822.80,136.50 L823.30,136.50 L823.80,136.50 L824.30,136.50 L824.80,136.50 L825.30,136.50 L825.80,136.50 L826.30,136.50 L826.80,136.50 L827.30,136.50 L827.80,136.50 L828.30,136.50 L828.80,136.50 L829.30,136.50 L829.80,136.50 L830.05,136.50 L830.30,136.50 L830.50,136.50 L830.60,136.50 L830.70,136.50 L830.75,136.50 L830.80,136.50 L830.85,136.50 L830.90,136.50 L831.00,136.50 L831.10,136.50 L831.30,136.50 L831.55,136.50 L831.80,136.50 L832.30,136.50 L832.80,136.50 L833.30,136.50 L833.80,136.50 L834.30,136.50 L834.80,136.50 L835.30,136.50 L835.80,136.50 L836.30,136.50 L836.80,136.50 L837.30,136.50 L837.80,136.50 L838.30,136.50 L838.80,136.50 L839.30,136.50 L839.80,136.50 L840.30,136.50 L840.80,136.50 L841.30,136.50 L841.80,136.50 L842.30,136.50 L842.80,136.50 L843.30,136.50 L843.80,136.50 L844.30,136.50 L844.80,136.50 L845.30,136.50 L845.80,136.50 L846.30,136.50 L846.80,136.50 L847.30,136.50 L847.80,136.50 L848.30,136.50 L848.80,136.50 L849.30,136.50 L849.80,136.50 L850.30,136.50 L850.80,136.50 L851.30,136.50 L851.80,136.50 L852.30,136.50 L852.80,136.50 L853.30,136.50 L853.80,136.50 L854.30,136.50 L854.80,136.50 L855.30,136.50 L855.80,136.50 L856.30,136.50 L856.80,136.50 L857.30,136.50 L857.80,136.50 L858.30,136.50 L858.80,136.50 L859.30,136.50 L859.80,136.50 L860.30,136.50 L860.80,136.50 L861.30,136.50 L861.80,136.50 L862.30,136.50 L862.80,136.50 L863.30,136.50 L863.80,136.50 L864.30,136.50 L864.80,136.50 L865.30,136.50 L865.80,136.50 L866.30,136.50 L866.80,136.50 L867.30,136.50 L867.80,136.50 L868.30,136.50 L868.80,136.50 L869.30,136.50 L869.80,136.50 L870.30,136.50 L870.80,136.50 L871.30,136.50 L871.80,136.50 L872.30,136.50 L872.80,136.50 L873.30,136.50 L873.80,136.50 L874.30,136.50 L874.80,136.50 L875.30,136.50 L875.80,136.50 L876.30,136.50 L876.80,136.50 L877.30,136.50 L877.80,136.50 L878.30,136.50 L878.80,136.50 L879.30,136.50 L879.80,136.50 L880.30,136.50 L880.80,136.50 L881.30,136.50 L881.80,136.50 L882.30,136.50 L882.80,136.50 L883.30,136.50 L883.80,136.50 L884.30,136.50 L884.80,136.50 L885.30,136.50 L885.80,136.50 L886.30,136.50 L886.80,136.50 L887.30,136.50 L887.80,136.50 L888.30,136.50 L888.80,136.50 L889.30,136.50 L889.80,136.50 L890.30,136.50 L890.80,136.50 L891.30,136.50 L891.80,136.50 L892.30,136.50 L892.80,136.50 L893.30,136.50 L893.80,136.50 L894.30,136.50 L894.80,136.50 L895.30,136.50 L895.80,136.50 L896.30,136.50 L896.80,136.50 L897.30,136.50 L897.80,136.50 L898.30,136.50 L898.80,136.50 L899.30,136.50 L899.80,136.50" stroke="#1e8c1e" stroke-width="1.6"/>
<path d="M760.80,120.34 L761.30,120.25 L761.80,120.15 L762.30,120.06 L762.80,119.96 L763.30,119.87 L763.80,119.77 L764.30,119.67 L764.80,119.57 L765.30,119.47 L765.80,119.37 L766.30,119.27 L766.80,119.16 L767.30,119.06 L767.80,118.96 L768.30,118.85 L768.80,118.74 L769.30,118.63 L769.80,118.52 L770.30,118.41 L770.80,118.30 L771.30,118.19 L771.80,118.08 L772.30,117.96 L772.80,117.84 L773.30,117.73 L773.80,117.61 L774.30,117.49 L774.80,117.37 L775.30,117.24 L775.80,117.12 L776.30,117.00 L776.80,116.87 L777.30,116.74 L777.80,116.61 L778.30,116.48 L778.80,116.35 L779.30,116.22 L779.80,116.08 L780.30,115.95 L780.80,115.81 L781.30,115.67 L781.80,115.53 L782.30,115.38 L782.80,115.24 L783.30,115.09 L783.80,114.94 L784.30,114.79 L784.80,114.64 L785.30,114.49 L785.80,114.33 L786.30,114.18 L786.80,114.02 L787.30,113.85 L787.80,113.69 L788.30,113.52 L788.80,113.36 L789.30,113.19 L789.80,113.01 L790.30,112.84 L790.80,112.66 L791.30,112.48 L791.80,112.30 L792.30,112.11 L792.80,111.93 L793.30,111.74 L793.80,111.54 L794.30,111.35 L794.80,111.15 L795.30,110.95 L795.80,110.74 L796.30,110.53 L796.80,110.32 L797.30,110.11 L797.80,109.89 L798.30,109.67 L798.80,109.44 L799.30,109.21 L799.80,108.98 L800.30,108.74 L800.80,108.50 L801.30,108.26 L801.80,108.01 L802.30,107.75 L802.80,107.49 L803.30,107.23 L803.80,106.96 L804.30,106.68 L804.80,106.40 L805.30,106.12 L805.80,105.82 L806.30,105.53 L806.80,105.22 L807.30,104.91 L807.80,104.59 L808.30,104.27 L808.80,103.93 L809.30,103.59 L809.80,103.24 L810.30,102.89 L810.80,102.52 L811.30,102.14 L811.80,101.75 L812.30,101.36 L812.80,100.95 L813.30,100.53 L813.80,100.10 L814.30,99.65 L814.80,99.19 L815.30,98.71 L815.80,98.22 L816.30,97.72 L816.80,97.19 L817.30,96.64 L817.80,96.08 L818.30,95.49 L818.80,94.88 L819.30,94.24 L819.80,93.57 L820.30,92.87 L820.80,92.13 L821.30,91.36 L821.80,90.55 L822.30,89.69 L822.80,88.77 L823.30,87.80 L823.80,86.76 L824.30,85.64 L824.80,84.44 L825.30,83.12 L825.80,81.69 L826.30,80.10 L826.80,78.32 L827.30,76.31 L827.80,74.00 L828.30,71.27 L828.80,67.94 L829.30,63.70 L829.80,57.89 L830.05,53.97 L830.30,48.97 L830.50,44.02 L830.60,41.46 L830.70,39.36 L830.75,38.73 L830.80,38.51 L830.85,38.73 L830.90,39.36 L831.00,41.46 L831.10,44.03 L831.30,48.97 L831.55,53.98 L831.80,57.90 L832.30,63.72 L832.80,67.97 L833.30,71.30 L833.80,74.04 L834.30,76.36 L834.80,78.37 L835.30,80.15 L835.80,81.75 L836.30,83.19 L836.80,84.51 L837.30,85.72 L837.80,86.84 L838.30,87.89 L838.80,88.87 L839.30,89.79 L839.80,90.66 L840.30,91.48 L840.80,92.25 L841.30,92.99 L841.80,93.70 L842.30,94.37 L842.80,95.02 L843.30,95.64 L843.80,96.23 L844.30,96.81 L844.80,97.36 L845.30,97.89 L845.80,98.40 L846.30,98.90 L846.80,99.38 L847.30,99.85 L847.80,100.30 L848.30,100.74 L848.80,101.16 L849.30,101.58 L849.80,101.98 L850.30,102.37 L850.80,102.76 L851.30,103.13 L851.80,103.49 L852.30,103.85 L852.80,104.19 L853.30,104.53 L853.80,104.86 L854.30,105.19 L854.80,105.50 L855.30,105.81 L855.80,106.12 L856.30,106.42 L856.80,106.71 L857.30,106.99 L857.80,107.27 L858.30,107.55 L858.80,107.82 L859.30,108.08 L859.80,108.35 L860.30,108.60 L860.80,108.85 L861.30,109.10 L861.80,109.34 L862.30,109.58 L862.80,109.82 L863.30,110.05 L863.80,110.27 L864.30,110.50 L864.80,110.72 L865.30,110.93 L865.80,111.15 L866.30,111.36 L866.80,111.56 L867.30,111.77 L867.80,111.97 L868.30,112.17 L868.80,112.36 L869.30,112.56 L869.80,112.75 L870.30,112.93 L870.80,113.12 L871.30,113.30 L871.80,113.48 L872.30,113.66 L872.80,113.84 L873.30,114.01 L873.80,114.18 L874.30,114.35 L874.80,114.51 L875.30,114.68 L875.80,114.84 L876.30,115.00 L876.80,115.16 L877.30,115.32 L877.80,115.47 L878.30,115.63 L878.80,115.78 L879.30,115.93 L879.80,116.07 L880.30,116.22 L880.80,116.37 L881.30,116.51 L881.80,116.65 L882.30,116.79 L882.80,116.93 L883.30,117.06 L883.80,117.20 L884.30,117.33 L884.80,117.47 L885.30,117.60 L885.80,117.73 L886.30,117.86 L886.80,117.98 L887.30,118.11 L887.80,118.23 L888.30,118.36 L888.80,118.48 L889.30,118.60 L889.80,118.72 L890.30,118.84 L890.80,118.95 L891.30,119.07 L891.80,119.18 L892.30,119.30 L892.80,119.41 L893.30,119.52 L893.80,119.63 L894.30,119.74 L894.80,119.85 L895.30,119.96 L895.80,120.06 L896.30,120.17 L896.80,120.27 L897.30,120.38 L897.80,120.48 L898.30,120.58 L898.80,120.68 L899.30,120.78 L899.80,120.88" stroke="#28288c" stroke-width="1.5"/>
<path d="M760.80,121.30 L761.30,121.19 L761.80,121.09 L762.30,120.98 L762.80,120.87 L763.30,120.76 L763.80,120.65 L764.30,120.54 L764.80,120.43 L765.30,120.32 L765.80,120.21 L766.30,120.09 L766.80,119.98 L767.30,119.86 L767.80,119.75 L768.30,119.63 L768.80,119.51 L769.30,119.39 L769.80,119.27 L770.30,119.15 L770.80,119.02 L771.30,118.90 L771.80,118.77 L772.30,118.65 L772.80,118.52 L773.30,118.39 L773.80,118.26 L774.30,118.13 L774.80,118.00 L775.30,117.87 L775.80,117.73 L776.30,117.60 L776.80,117.46 L777.30,117.32 L777.80,117.18 L778.30,117.04 L778.80,116.90 L779.30,116.76 L779.80,116.61 L780.30,116.47 L780.80,116.32 L781.30,116.17 L781.80,116.02 L782.30,115.87 L782.80,115.71 L783.30,115.56 L783.80,115.40 L784.30,115.24 L784.80,115.08 L785.30,114.92 L785.80,114.75 L786.30,114.59 L786.80,114.42 L787.30,114.25 L787.80,114.07 L788.30,113.90 L788.80,113.72 L789.30,113.55 L789.80,113.36 L790.30,113.18 L790.80,113.00 L791.30,112.81 L791.80,112.62 L792.30,112.43 L792.80,112.23 L793.30,112.03 L793.80,111.83 L794.30,111.63 L794.80,111.42 L795.30,111.21 L795.80,111.00 L796.30,110.79 L796.80,110.57 L797.30,110.35 L797.80,110.12 L798.30,109.89 L798.80,109.66 L799.30,109.42 L799.80,109.18 L800.30,108.94 L800.80,108.69 L801.30,108.44 L801.80,108.19 L802.30,107.92 L802.80,107.66 L803.30,107.39 L803.80,107.11 L804.30,106.83 L804.80,106.55 L805.30,106.26 L805.80,105.96 L806.30,105.66 L806.80,105.35 L807.30,105.03 L807.80,104.71 L808.30,104.38 L808.80,104.04 L809.30,103.69 L809.80,103.34 L810.30,102.98 L810.80,102.60 L811.30,102.22 L811.80,101.83 L812.30,101.43 L812.80,101.02 L813.30,100.59 L813.80,100.16 L814.30,99.71 L814.80,99.25 L815.30,98.77 L815.80,98.27 L816.30,97.76 L816.80,97.23 L817.30,96.68 L817.80,96.12 L818.30,95.52 L818.80,94.91 L819.30,94.27 L819.80,93.59 L820.30,92.89 L820.80,92.16 L821.30,91.38 L821.80,90.57 L822.30,89.70 L822.80,88.79 L823.30,87.81 L823.80,86.77 L824.30,85.65 L824.80,84.44 L825.30,83.13 L825.80,81.69 L826.30,80.10 L826.80,78.33 L827.30,76.32 L827.80,74.00 L828.30,71.27 L828.80,67.94 L829.30,63.70 L829.80,57.89 L830.05,53.97 L830.30,48.97 L830.50,44.02 L830.60,41.46 L830.70,39.36 L830.75,38.73 L830.80,38.51 L830.85,38.73 L830.90,39.36 L831.00,41.46 L831.10,44.03 L831.30,48.97 L831.55,53.98 L831.80,57.90 L832.30,63.72 L832.80,67.97 L833.30,71.30 L833.80,74.04 L834.30,76.36 L834.80,78.38 L835.30,80.16 L835.80,81.75 L836.30,83.20 L836.80,84.52 L837.30,85.73 L837.80,86.86 L838.30,87.90 L838.80,88.88 L839.30,89.80 L839.80,90.67 L840.30,91.50 L840.80,92.28 L841.30,93.02 L841.80,93.73 L842.30,94.40 L842.80,95.05 L843.30,95.67 L843.80,96.27 L844.30,96.85 L844.80,97.40 L845.30,97.94 L845.80,98.45 L846.30,98.95 L846.80,99.44 L847.30,99.91 L847.80,100.36 L848.30,100.80 L848.80,101.23 L849.30,101.65 L849.80,102.06 L850.30,102.46 L850.80,102.84 L851.30,103.22 L851.80,103.59 L852.30,103.95 L852.80,104.30 L853.30,104.65 L853.80,104.98 L854.30,105.31 L854.80,105.63 L855.30,105.95 L855.80,106.26 L856.30,106.56 L856.80,106.86 L857.30,107.15 L857.80,107.44 L858.30,107.72 L858.80,107.99 L859.30,108.27 L859.80,108.53 L860.30,108.79 L860.80,109.05 L861.30,109.31 L861.80,109.56 L862.30,109.80 L862.80,110.04 L863.30,110.28 L863.80,110.52 L864.30,110.75 L864.80,110.97 L865.30,111.20 L865.80,111.42 L866.30,111.64 L866.80,111.85 L867.30,112.07 L867.80,112.27 L868.30,112.48 L868.80,112.69 L869.30,112.89 L869.80,113.09 L870.30,113.28 L870.80,113.48 L871.30,113.67 L871.80,113.86 L872.30,114.04 L872.80,114.23 L873.30,114.41 L873.80,114.59 L874.30,114.77 L874.80,114.94 L875.30,115.12 L875.80,115.29 L876.30,115.46 L876.80,115.63 L877.30,115.80 L877.80,115.96 L878.30,116.13 L878.80,116.29 L879.30,116.45 L879.80,116.61 L880.30,116.76 L880.80,116.92 L881.30,117.07 L881.80,117.22 L882.30,117.38 L882.80,117.53 L883.30,117.67 L883.80,117.82 L884.30,117.97 L884.80,118.11 L885.30,118.25 L885.80,118.39 L886.30,118.53 L886.80,118.67 L887.30,118.81 L887.80,118.95 L888.30,119.08 L888.80,119.22 L889.30,119.35 L889.80,119.48 L890.30,119.61 L890.80,119.74 L891.30,119.87 L891.80,120.00 L892.30,120.13 L892.80,120.25 L893.30,120.38 L893.80,120.50 L894.30,120.62 L894.80,120.74 L895.30,120.87 L895.80,120.99 L896.30,121.10 L896.80,121.22 L897.30,121.34 L897.80,121.46 L898.30,121.57 L898.80,121.69 L899.30,121.80 L899.80,121.91" stroke="#f01414" stroke-width="1.7" stroke-dasharray="7.5 7"/>
</g>
<g clip-path="url(#cb)" fill="none" stroke-linejoin="round">
<path d="M64.60,254.37 L65.10,257.42 L65.60,258.39 L66.10,258.46 L66.60,256.85 L67.10,257.03 L67.60,258.56 L68.10,258.38 L68.60,258.90 L69.10,258.89 L69.60,258.43 L70.10,258.69 L70.60,258.99 L71.10,257.83 L71.60,258.92 L72.10,259.68 L72.60,258.51 L73.10,258.20 L73.60,258.66 L74.10,257.72 L74.60,258.93 L75.10,259.11 L75.60,260.09 L76.10,258.81 L76.60,260.35 L77.10,259.14 L77.60,260.47 L78.10,258.12 L78.60,259.02 L79.10,260.16 L79.60,260.96 L80.10,261.08 L80.60,260.83 L81.10,261.01 L81.60,260.00 L82.10,260.67 L82.60,260.42 L83.10,259.61 L83.60,260.23 L84.10,260.98 L84.60,261.70 L85.10,260.48 L85.60,261.68 L86.10,260.87 L86.60,262.38 L87.10,261.18 L87.60,262.11 L88.10,259.87 L88.60,262.05 L89.10,261.32 L89.60,262.38 L90.10,262.86 L90.60,262.65 L91.10,262.73 L91.60,261.70 L92.10,261.95 L92.60,262.73 L93.10,261.94 L93.60,262.02 L94.10,263.84 L94.60,263.80 L95.10,264.15 L95.60,263.82 L96.10,264.32 L96.60,264.33 L97.10,264.77 L97.60,263.50 L98.10,263.52 L98.60,263.47 L99.10,264.78 L99.60,265.32 L100.10,263.53 L100.60,264.81 L101.10,264.69 L101.60,265.59 L102.10,265.00 L102.60,264.52 L103.10,266.21 L103.60,265.10 L104.10,266.21 L104.60,264.70 L105.10,266.48 L105.60,266.71 L106.10,266.50 L106.60,266.42 L107.10,265.46 L107.60,266.59 L108.10,267.84 L108.60,267.86 L109.10,266.83 L109.60,267.22 L110.10,268.20 L110.60,268.26 L111.10,268.59 L111.60,268.75 L112.10,267.04 L112.60,266.18 L113.10,269.35 L113.60,269.14 L114.10,268.24 L114.60,268.65 L115.10,269.59 L115.60,267.48 L116.10,270.00 L116.60,268.26 L117.10,270.44 L117.60,269.52 L118.10,270.20 L118.60,270.31 L119.10,269.07 L119.60,269.17 L120.10,270.87 L120.60,271.43 L121.10,270.83 L121.60,271.71 L122.10,270.44 L122.60,272.46 L123.10,271.49 L123.60,271.83 L124.10,272.61 L124.60,270.16 L125.10,271.68 L125.60,271.84 L126.10,272.06 L126.60,271.47 L127.10,272.18 L127.60,272.90 L128.10,272.83 L128.60,273.84 L129.10,274.29 L129.60,273.48 L130.10,274.34 L130.60,274.28 L130.70,274.37 L131.10,273.18 L131.60,273.90 L131.70,272.54 L132.10,274.53 L132.20,273.94 L132.60,273.97 L132.70,274.24 L133.10,272.47 L133.20,271.62 L133.45,273.31 L133.60,273.99 L133.70,273.86 L133.95,273.96 L134.10,272.87 L134.20,274.60 L134.35,270.94 L134.50,273.23 L134.60,273.57 L134.70,273.66 L134.80,273.92 L134.90,274.74 L135.05,274.91 L135.10,273.65 L135.20,272.13 L135.45,274.73 L135.60,274.47 L135.70,274.90 L135.95,274.50 L136.10,273.85 L136.20,273.85 L136.60,274.30 L136.70,272.71 L137.10,273.92 L137.20,274.42 L137.60,271.68 L137.70,274.28 L138.10,274.10 L138.60,274.05 L138.70,273.31 L139.10,272.26 L139.60,272.65 L140.10,274.17 L140.60,272.53 L141.10,272.44 L141.60,272.70 L142.10,270.40 L142.60,272.69 L143.10,273.43 L143.60,272.20 L144.10,273.23 L144.60,271.61 L145.10,273.03 L145.60,271.45 L146.10,269.55 L146.60,272.33 L147.10,270.35 L147.60,271.16 L148.10,270.75 L148.60,271.58 L149.10,270.07 L149.60,271.44 L150.10,271.13 L150.60,271.18 L151.10,270.06 L151.60,270.15 L152.10,270.00 L152.60,270.38 L153.10,268.83 L153.60,269.24 L154.10,269.07 L154.60,269.72 L155.10,269.26 L155.60,269.19 L156.10,268.40 L156.60,268.93 L157.10,267.11 L157.60,264.96 L158.10,268.47 L158.60,266.21 L159.10,266.96 L159.60,266.44 L160.10,266.92 L160.60,266.10 L161.10,267.05 L161.60,266.69 L162.10,265.55 L162.60,264.95 L163.10,266.15 L163.60,266.08 L164.10,265.42 L164.60,263.89 L165.10,265.76 L165.60,265.59 L166.10,265.70 L166.60,265.51 L167.10,265.09 L167.60,264.23 L168.10,262.60 L168.60,262.67 L169.10,264.56 L169.60,264.17 L170.10,264.41 L170.60,263.25 L171.10,264.10 L171.60,263.61 L172.10,262.67 L172.60,263.86 L173.10,263.25 L173.60,262.92 L174.10,262.59 L174.60,260.93 L175.10,262.64 L175.60,262.30 L176.10,262.39 L176.60,262.73 L177.10,262.38 L177.60,261.29 L178.10,259.82 L178.60,261.19 L179.10,261.96 L179.60,261.09 L180.10,260.53 L180.60,261.15 L181.10,261.58 L181.60,259.46 L182.10,258.56 L182.60,260.19 L183.10,260.33 L183.60,259.06 L184.10,258.65 L184.60,260.17 L185.10,259.68 L185.60,258.43 L186.10,257.51 L186.60,260.19 L187.10,259.85 L187.60,259.31 L188.10,259.06 L188.60,257.91 L189.10,257.82 L189.60,258.02 L190.10,259.42 L190.60,258.50 L191.10,257.61 L191.60,257.20 L192.10,258.23 L192.60,258.82 L193.10,258.30 L193.60,257.63 L194.10,256.74 L194.60,255.87 L195.10,257.94 L195.60,258.31 L196.10,257.33 L196.60,257.85 L197.00,254.34 L197.10,253.18 L197.50,248.15 L197.60,246.78 L198.00,240.57 L198.10,238.74 L198.25,235.60 L198.50,226.00 L198.60,231.53 L198.75,235.57 L199.00,240.48 L199.10,242.15 L199.50,247.89 L199.60,249.16 L200.00,253.83 L200.10,254.91 L200.60,256.55 L201.10,256.12 L201.60,256.26 L202.10,257.18 L202.60,254.87 L203.10,256.17 L203.60,256.40 L204.10,256.25 L204.10,263.70 L203.60,264.83 L203.10,263.73 L202.60,265.44 L202.10,267.38 L201.60,266.82 L201.10,264.10 L200.60,266.39 L200.10,264.80 L200.00,265.03 L199.60,265.51 L199.50,265.10 L199.10,267.59 L199.00,265.64 L198.75,265.13 L198.60,265.53 L198.50,266.66 L198.25,266.55 L198.10,266.37 L198.00,266.38 L197.60,265.03 L197.50,267.44 L197.10,264.86 L197.00,265.17 L196.60,265.28 L196.10,266.08 L195.60,265.90 L195.10,265.50 L194.60,265.91 L194.10,265.54 L193.60,266.56 L193.10,265.96 L192.60,266.85 L192.10,266.78 L191.60,267.93 L191.10,266.17 L190.60,267.50 L190.10,266.89 L189.60,266.99 L189.10,266.93 L188.60,267.66 L188.10,267.46 L187.60,266.99 L187.10,269.94 L186.60,267.29 L186.10,267.52 L185.60,268.01 L185.10,267.68 L184.60,267.96 L184.10,268.34 L183.60,268.06 L183.10,268.32 L182.60,273.32 L182.10,268.69 L181.60,268.94 L181.10,268.63 L180.60,269.92 L180.10,269.22 L179.60,270.98 L179.10,269.11 L178.60,269.44 L178.10,270.03 L177.60,269.90 L177.10,269.80 L176.60,271.79 L176.10,272.24 L175.60,269.96 L175.10,271.75 L174.60,270.65 L174.10,270.80 L173.60,270.65 L173.10,271.55 L172.60,271.53 L172.10,270.67 L171.60,270.97 L171.10,273.10 L170.60,271.61 L170.10,273.99 L169.60,272.26 L169.10,271.73 L168.60,273.48 L168.10,272.77 L167.60,273.59 L167.10,273.85 L166.60,273.62 L166.10,273.09 L165.60,273.60 L165.10,274.80 L164.60,273.02 L164.10,273.58 L163.60,274.27 L163.10,274.44 L162.60,273.76 L162.10,273.89 L161.60,274.45 L161.10,274.36 L160.60,275.57 L160.10,276.22 L159.60,276.70 L159.10,275.42 L158.60,277.11 L158.10,275.58 L157.60,275.26 L157.10,277.72 L156.60,276.00 L156.10,275.96 L155.60,276.11 L155.10,277.22 L154.60,278.20 L154.10,276.76 L153.60,277.10 L153.10,278.23 L152.60,278.07 L152.10,278.68 L151.60,277.73 L151.10,277.83 L150.60,278.52 L150.10,279.37 L149.60,280.41 L149.10,279.35 L148.60,279.09 L148.10,278.77 L147.60,279.79 L147.10,280.39 L146.60,280.34 L146.10,281.06 L145.60,280.93 L145.10,280.22 L144.60,280.76 L144.10,281.25 L143.60,280.39 L143.10,280.51 L142.60,280.79 L142.10,280.75 L141.60,280.96 L141.10,281.93 L140.60,281.98 L140.10,281.75 L139.60,281.14 L139.10,282.86 L138.70,282.06 L138.60,281.90 L138.10,281.80 L137.70,282.65 L137.60,281.72 L137.20,283.67 L137.10,282.14 L136.70,281.80 L136.60,282.99 L136.20,283.06 L136.10,282.06 L135.95,282.70 L135.70,283.31 L135.60,282.11 L135.45,282.02 L135.20,283.21 L135.10,282.44 L135.05,282.96 L134.90,282.55 L134.80,281.67 L134.70,282.41 L134.60,281.63 L134.50,282.45 L134.35,283.06 L134.20,281.70 L134.10,282.53 L133.95,283.02 L133.70,285.51 L133.60,282.43 L133.45,283.49 L133.20,282.24 L133.10,281.57 L132.70,282.51 L132.60,282.06 L132.20,281.75 L132.10,283.32 L131.70,282.25 L131.60,281.54 L131.10,283.00 L130.70,282.66 L130.60,281.97 L130.10,281.98 L129.60,285.01 L129.10,282.40 L128.60,281.53 L128.10,281.69 L127.60,280.71 L127.10,281.73 L126.60,280.82 L126.10,280.87 L125.60,281.94 L125.10,281.00 L124.60,281.04 L124.10,280.10 L123.60,280.60 L123.10,279.96 L122.60,281.74 L122.10,279.59 L121.60,279.32 L121.10,279.04 L120.60,280.63 L120.10,279.51 L119.60,278.71 L119.10,280.24 L118.60,277.95 L118.10,278.70 L117.60,278.13 L117.10,277.78 L116.60,278.66 L116.10,278.77 L115.60,280.79 L115.10,277.60 L114.60,278.07 L114.10,279.03 L113.60,277.16 L113.10,276.65 L112.60,277.24 L112.10,276.17 L111.60,276.33 L111.10,276.55 L110.60,275.52 L110.10,276.91 L109.60,276.33 L109.10,275.71 L108.60,275.62 L108.10,277.05 L107.60,275.16 L107.10,274.65 L106.60,274.88 L106.10,274.03 L105.60,274.78 L105.10,275.82 L104.60,275.31 L104.10,274.20 L103.60,275.07 L103.10,274.00 L102.60,275.87 L102.10,273.69 L101.60,274.07 L101.10,274.99 L100.60,275.27 L100.10,273.73 L99.60,272.98 L99.10,273.95 L98.60,271.83 L98.10,273.55 L97.60,272.12 L97.10,272.99 L96.60,272.21 L96.10,272.04 L95.60,271.31 L95.10,271.39 L94.60,270.93 L94.10,271.25 L93.60,272.60 L93.10,271.66 L92.60,271.10 L92.10,271.52 L91.60,271.38 L91.10,270.33 L90.60,272.77 L90.10,271.58 L89.60,269.99 L89.10,269.66 L88.60,271.80 L88.10,270.47 L87.60,269.38 L87.10,271.22 L86.60,270.57 L86.10,270.74 L85.60,269.97 L85.10,269.69 L84.60,269.53 L84.10,269.83 L83.60,269.71 L83.10,268.75 L82.60,269.11 L82.10,270.74 L81.60,269.27 L81.10,269.25 L80.60,268.48 L80.10,268.11 L79.60,267.71 L79.10,269.36 L78.60,267.60 L78.10,269.35 L77.60,268.18 L77.10,269.56 L76.60,269.44 L76.10,268.76 L75.60,268.18 L75.10,266.86 L74.60,267.54 L74.10,269.59 L73.60,266.95 L73.10,267.85 L72.60,266.75 L72.10,267.54 L71.60,266.82 L71.10,266.68 L70.60,266.81 L70.10,266.91 L69.60,267.39 L69.10,266.94 L68.60,267.53 L68.10,269.31 L67.60,268.58 L67.10,267.62 L66.60,268.67 L66.10,266.95 L65.60,265.48 L65.10,266.21 L64.60,265.82Z" fill="#9c9cff" stroke="none"/>
<path d="M198.50,261.33L198.50,226.00" stroke="#9c9cff" stroke-width="1.2"/>
<path d="M64.60,262.40 L65.10,262.48 L65.60,262.56 L66.10,262.64 L66.60,262.72 L67.10,262.80 L67.60,262.89 L68.10,262.97 L68.60,263.06 L69.10,263.14 L69.60,263.23 L70.10,263.31 L70.60,263.40 L71.10,263.49 L71.60,263.58 L72.10,263.67 L72.60,263.76 L73.10,263.85 L73.60,263.94 L74.10,264.03 L74.60,264.12 L75.10,264.22 L75.60,264.31 L76.10,264.41 L76.60,264.51 L77.10,264.60 L77.60,264.70 L78.10,264.80 L78.60,264.90 L79.10,265.01 L79.60,265.11 L80.10,265.21 L80.60,265.32 L81.10,265.42 L81.60,265.53 L82.10,265.64 L82.60,265.75 L83.10,265.86 L83.60,265.97 L84.10,266.08 L84.60,266.19 L85.10,266.31 L85.60,266.42 L86.10,266.54 L86.60,266.66 L87.10,266.78 L87.60,266.90 L88.10,267.02 L88.60,267.15 L89.10,267.27 L89.60,267.40 L90.10,267.53 L90.60,267.66 L91.10,267.79 L91.60,267.92 L92.10,268.06 L92.60,268.19 L93.10,268.33 L93.60,268.47 L94.10,268.61 L94.60,268.76 L95.10,268.90 L95.60,269.05 L96.10,269.20 L96.60,269.35 L97.10,269.50 L97.60,269.66 L98.10,269.82 L98.60,269.98 L99.10,270.14 L99.60,270.30 L100.10,270.47 L100.60,270.64 L101.10,270.81 L101.60,270.99 L102.10,271.17 L102.60,271.35 L103.10,271.53 L103.60,271.72 L104.10,271.91 L104.60,272.10 L105.10,272.30 L105.60,272.50 L106.10,272.70 L106.60,272.91 L107.10,273.12 L107.60,273.34 L108.10,273.56 L108.60,273.78 L109.10,274.01 L109.60,274.24 L110.10,274.48 L110.60,274.72 L111.10,274.97 L111.60,275.22 L112.10,275.48 L112.60,275.75 L113.10,276.02 L113.60,276.30 L114.10,276.58 L114.60,276.87 L115.10,277.17 L115.60,277.48 L116.10,277.79 L116.60,278.12 L117.10,278.45 L117.60,278.80 L118.10,279.15 L118.60,279.51 L119.10,279.89 L119.60,280.28 L120.10,280.68 L120.60,281.10 L121.10,281.53 L121.60,281.98 L122.10,282.45 L122.60,282.93 L123.10,283.44 L123.60,283.97 L124.10,284.52 L124.60,285.10 L125.10,285.71 L125.60,286.36 L126.10,287.04 L126.60,287.76 L127.10,288.53 L127.60,289.35 L128.10,290.23 L128.60,291.18 L129.10,292.21 L129.60,293.34 L130.10,294.59 L130.60,295.98 L131.10,297.56 L131.60,299.37 L131.70,299.77 L132.10,301.50 L132.60,304.09 L132.70,304.68 L133.10,307.39 L133.20,308.17 L133.60,311.94 L133.70,313.09 L133.95,316.58 L134.10,319.29 L134.20,321.50 L134.40,327.66 L134.50,332.50 L134.60,340.49 L134.65,347.42 L134.70,354.90 L134.75,347.41 L134.80,340.49 L134.90,332.50 L135.00,327.65 L135.10,324.18 L135.20,321.48 L135.45,316.56 L135.60,314.35 L135.70,313.06 L136.10,308.97 L136.20,308.13 L136.60,305.25 L136.70,304.63 L137.10,302.40 L137.60,300.10 L137.70,299.68 L138.10,298.16 L138.60,296.48 L139.10,295.01 L139.60,293.69 L140.10,292.50 L140.60,291.42 L141.10,290.42 L141.60,289.50 L142.10,288.65 L142.60,287.84 L143.10,287.09 L143.60,286.38 L144.10,285.71 L144.60,285.07 L145.10,284.47 L145.60,283.89 L146.10,283.34 L146.60,282.81 L147.10,282.30 L147.60,281.81 L148.10,281.34 L148.60,280.89 L149.10,280.46 L149.60,280.03 L150.10,279.63 L150.60,279.23 L151.10,278.85 L151.60,278.48 L152.10,278.11 L152.60,277.76 L153.10,277.42 L153.60,277.09 L154.10,276.76 L154.60,276.45 L155.10,276.14 L155.60,275.84 L156.10,275.54 L156.60,275.26 L157.10,274.98 L157.60,274.70 L158.10,274.43 L158.60,274.17 L159.10,273.91 L159.60,273.66 L160.10,273.41 L160.60,273.16 L161.10,272.92 L161.60,272.69 L162.10,272.46 L162.60,272.23 L163.10,272.01 L163.60,271.79 L164.10,271.58 L164.60,271.36 L165.10,271.16 L165.60,270.95 L166.10,270.75 L166.60,270.55 L167.10,270.36 L167.60,270.16 L168.10,269.97 L168.60,269.78 L169.10,269.60 L169.60,269.42 L170.10,269.24 L170.60,269.06 L171.10,268.89 L171.60,268.71 L172.10,268.54 L172.60,268.38 L173.10,268.21 L173.60,268.05 L174.10,267.88 L174.60,267.72 L175.10,267.57 L175.60,267.41 L176.10,267.26 L176.60,267.10 L177.10,266.95 L177.60,266.80 L178.10,266.66 L178.60,266.51 L179.10,266.37 L179.60,266.22 L180.10,266.08 L180.60,265.94 L181.10,265.80 L181.60,265.67 L182.10,265.53 L182.60,265.40 L183.10,265.27 L183.60,265.13 L184.10,265.00 L184.60,264.88 L185.10,264.75 L185.60,264.62 L186.10,264.50 L186.60,264.37 L187.10,264.25 L187.60,264.13 L188.10,264.01 L188.60,263.89 L189.10,263.77 L189.60,263.65 L190.10,263.53 L190.60,263.42 L191.10,263.30 L191.60,263.19 L192.10,263.08 L192.60,262.96 L193.10,262.85 L193.60,262.74 L194.10,262.63 L194.60,262.53 L195.10,262.42 L195.60,262.31 L196.10,262.21 L196.60,262.10 L197.10,262.00 L197.60,261.89 L198.10,261.79 L198.60,261.69 L199.10,261.59 L199.60,261.49 L200.10,261.39 L200.60,261.29 L201.10,261.19 L201.60,261.09 L202.10,261.00 L202.60,260.90 L203.10,260.80 L203.60,260.71 L204.10,260.61" stroke="#1e8c1e" stroke-width="1.6"/>
<path d="M64.60,278.40 L65.10,278.40 L65.60,278.40 L66.10,278.40 L66.60,278.40 L67.10,278.40 L67.60,278.40 L68.10,278.40 L68.60,278.40 L69.10,278.40 L69.60,278.40 L70.10,278.40 L70.60,278.40 L71.10,278.40 L71.60,278.40 L72.10,278.40 L72.60,278.40 L73.10,278.40 L73.60,278.40 L74.10,278.40 L74.60,278.40 L75.10,278.40 L75.60,278.40 L76.10,278.40 L76.60,278.40 L77.10,278.40 L77.60,278.40 L78.10,278.40 L78.60,278.40 L79.10,278.40 L79.60,278.40 L80.10,278.40 L80.60,278.40 L81.10,278.40 L81.60,278.40 L82.10,278.40 L82.60,278.40 L83.10,278.40 L83.60,278.40 L84.10,278.40 L84.60,278.40 L85.10,278.40 L85.60,278.40 L86.10,278.40 L86.60,278.40 L87.10,278.40 L87.60,278.40 L88.10,278.40 L88.60,278.40 L89.10,278.40 L89.60,278.40 L90.10,278.40 L90.60,278.40 L91.10,278.40 L91.60,278.40 L92.10,278.40 L92.60,278.40 L93.10,278.40 L93.60,278.40 L94.10,278.40 L94.60,278.40 L95.10,278.40 L95.60,278.40 L96.10,278.40 L96.60,278.40 L97.10,278.40 L97.60,278.40 L98.10,278.40 L98.60,278.40 L99.10,278.40 L99.60,278.40 L100.10,278.40 L100.60,278.40 L101.10,278.40 L101.60,278.40 L102.10,278.40 L102.60,278.40 L103.10,278.40 L103.60,278.40 L104.10,278.40 L104.60,278.40 L105.10,278.40 L105.60,278.40 L106.10,278.40 L106.60,278.40 L107.10,278.40 L107.60,278.40 L108.10,278.40 L108.60,278.40 L109.10,278.40 L109.60,278.40 L110.10,278.40 L110.60,278.40 L111.10,278.40 L111.60,278.40 L112.10,278.40 L112.60,278.40 L113.10,278.40 L113.60,278.40 L114.10,278.40 L114.60,278.40 L115.10,278.40 L115.60,278.40 L116.10,278.40 L116.60,278.40 L117.10,278.40 L117.60,278.40 L118.10,278.40 L118.60,278.40 L119.10,278.40 L119.60,278.40 L120.10,278.40 L120.60,278.40 L121.10,278.40 L121.60,278.40 L122.10,278.40 L122.60,278.40 L123.10,278.40 L123.60,278.40 L124.10,278.40 L124.60,278.40 L125.10,278.40 L125.60,278.40 L126.10,278.40 L126.60,278.40 L127.10,278.40 L127.60,278.40 L128.10,278.40 L128.60,278.40 L129.10,278.40 L129.60,278.40 L130.10,278.40 L130.60,278.40 L131.10,278.40 L131.60,278.40 L131.70,278.40 L132.10,278.40 L132.60,278.40 L132.70,278.40 L133.10,278.40 L133.20,278.40 L133.60,278.40 L133.70,278.40 L133.95,278.40 L134.10,278.40 L134.20,278.40 L134.40,278.40 L134.50,278.40 L134.60,278.40 L134.65,278.40 L134.70,278.40 L134.75,278.40 L134.80,278.40 L134.90,278.40 L135.00,278.40 L135.10,278.40 L135.20,278.40 L135.45,278.40 L135.60,278.40 L135.70,278.40 L136.10,278.40 L136.20,278.40 L136.60,278.40 L136.70,278.40 L137.10,278.40 L137.60,278.40 L137.70,278.40 L138.10,278.40 L138.60,278.40 L139.10,278.40 L139.60,278.40 L140.10,278.40 L140.60,278.40 L141.10,278.40 L141.60,278.40 L142.10,278.40 L142.60,278.40 L143.10,278.40 L143.60,278.40 L144.10,278.40 L144.60,278.40 L145.10,278.40 L145.60,278.40 L146.10,278.40 L146.60,278.40 L147.10,278.40 L147.60,278.40 L148.10,278.40 L148.60,278.40 L149.10,278.40 L149.60,278.40 L150.10,278.40 L150.60,278.40 L151.10,278.40 L151.60,278.40 L152.10,278.40 L152.60,278.40 L153.10,278.40 L153.60,278.40 L154.10,278.40 L154.60,278.40 L155.10,278.40 L155.60,278.40 L156.10,278.40 L156.60,278.40 L157.10,278.40 L157.60,278.40 L158.10,278.40 L158.60,278.40 L159.10,278.40 L159.60,278.40 L160.10,278.40 L160.60,278.40 L161.10,278.40 L161.60,278.40 L162.10,278.40 L162.60,278.40 L163.10,278.40 L163.60,278.40 L164.10,278.40 L164.60,278.40 L165.10,278.40 L165.60,278.40 L166.10,278.40 L166.60,278.40 L167.10,278.40 L167.60,278.40 L168.10,278.40 L168.60,278.40 L169.10,278.40 L169.60,278.40 L170.10,278.40 L170.60,278.40 L171.10,278.40 L171.60,278.40 L172.10,278.40 L172.60,278.40 L173.10,278.40 L173.60,278.40 L174.10,278.40 L174.60,278.40 L175.10,278.40 L175.60,278.40 L176.10,278.40 L176.60,278.40 L177.10,278.40 L177.60,278.40 L178.10,278.40 L178.60,278.40 L179.10,278.40 L179.60,278.40 L180.10,278.40 L180.60,278.40 L181.10,278.40 L181.60,278.40 L182.10,278.40 L182.60,278.40 L183.10,278.40 L183.60,278.40 L184.10,278.40 L184.60,278.40 L185.10,278.40 L185.60,278.40 L186.10,278.40 L186.60,278.40 L187.10,278.40 L187.60,278.40 L188.10,278.40 L188.60,278.40 L189.10,278.40 L189.60,278.40 L190.10,278.40 L190.60,278.40 L191.10,278.40 L191.60,278.40 L192.10,278.40 L192.60,278.40 L193.10,278.40 L193.60,278.40 L194.10,278.40 L194.60,278.40 L195.10,278.40 L195.60,278.40 L196.10,278.40 L196.60,278.40 L197.10,278.40 L197.60,278.40 L198.10,278.40 L198.60,278.40 L199.10,278.40 L199.60,278.40 L200.10,278.40 L200.60,278.40 L201.10,278.40 L201.60,278.40 L202.10,278.40 L202.60,278.40 L203.10,278.40 L203.60,278.40 L204.10,278.40" stroke="#f01414" stroke-width="1.7" stroke-dasharray="7.5 7"/>
<path d="M64.60,261.98 L65.10,262.05 L65.60,262.13 L66.10,262.20 L66.60,262.28 L67.10,262.35 L67.60,262.43 L68.10,262.51 L68.60,262.59 L69.10,262.67 L69.60,262.74 L70.10,262.82 L70.60,262.90 L71.10,262.99 L71.60,263.07 L72.10,263.15 L72.60,263.23 L73.10,263.32 L73.60,263.40 L74.10,263.48 L74.60,263.57 L75.10,263.66 L75.60,263.74 L76.10,263.83 L76.60,263.92 L77.10,264.01 L77.60,264.10 L78.10,264.19 L78.60,264.28 L79.10,264.37 L79.60,264.46 L80.10,264.55 L80.60,264.65 L81.10,264.74 L81.60,264.84 L82.10,264.93 L82.60,265.03 L83.10,265.13 L83.60,265.23 L84.10,265.33 L84.60,265.43 L85.10,265.53 L85.60,265.63 L86.10,265.73 L86.60,265.84 L87.10,265.94 L87.60,266.05 L88.10,266.15 L88.60,266.26 L89.10,266.37 L89.60,266.48 L90.10,266.59 L90.60,266.70 L91.10,266.81 L91.60,266.92 L92.10,267.04 L92.60,267.15 L93.10,267.27 L93.60,267.39 L94.10,267.50 L94.60,267.62 L95.10,267.74 L95.60,267.87 L96.10,267.99 L96.60,268.11 L97.10,268.24 L97.60,268.36 L98.10,268.49 L98.60,268.62 L99.10,268.75 L99.60,268.88 L100.10,269.01 L100.60,269.14 L101.10,269.28 L101.60,269.41 L102.10,269.55 L102.60,269.69 L103.10,269.83 L103.60,269.97 L104.10,270.11 L104.60,270.26 L105.10,270.40 L105.60,270.55 L106.10,270.69 L106.60,270.84 L107.10,270.99 L107.60,271.14 L108.10,271.29 L108.60,271.45 L109.10,271.60 L109.60,271.76 L110.10,271.91 L110.60,272.07 L111.10,272.23 L111.60,272.39 L112.10,272.55 L112.60,272.72 L113.10,272.88 L113.60,273.04 L114.10,273.21 L114.60,273.37 L115.10,273.54 L115.60,273.71 L116.10,273.88 L116.60,274.04 L117.10,274.21 L117.60,274.38 L118.10,274.55 L118.60,274.72 L119.10,274.89 L119.60,275.05 L120.10,275.22 L120.60,275.39 L121.10,275.55 L121.60,275.72 L122.10,275.88 L122.60,276.04 L123.10,276.20 L123.60,276.35 L124.10,276.51 L124.60,276.66 L125.10,276.80 L125.60,276.95 L126.10,277.08 L126.60,277.22 L127.10,277.35 L127.60,277.47 L128.10,277.59 L128.60,277.70 L129.10,277.80 L129.60,277.90 L130.10,277.99 L130.60,278.07 L131.10,278.15 L131.60,278.21 L131.70,278.22 L132.10,278.27 L132.60,278.31 L132.70,278.32 L133.10,278.35 L133.20,278.35 L133.60,278.38 L133.70,278.38 L133.95,278.39 L134.10,278.39 L134.20,278.39 L134.40,278.40 L134.50,278.40 L134.60,278.40 L134.65,278.40 L134.70,278.40 L134.75,278.40 L134.80,278.40 L134.90,278.40 L135.00,278.40 L135.10,278.40 L135.20,278.39 L135.45,278.39 L135.60,278.38 L135.70,278.38 L136.10,278.36 L136.20,278.35 L136.60,278.33 L136.70,278.32 L137.10,278.28 L137.60,278.23 L137.70,278.22 L138.10,278.17 L138.60,278.10 L139.10,278.02 L139.60,277.93 L140.10,277.83 L140.60,277.72 L141.10,277.61 L141.60,277.49 L142.10,277.37 L142.60,277.23 L143.10,277.09 L143.60,276.95 L144.10,276.80 L144.60,276.65 L145.10,276.49 L145.60,276.33 L146.10,276.17 L146.60,276.00 L147.10,275.83 L147.60,275.66 L148.10,275.48 L148.60,275.30 L149.10,275.13 L149.60,274.95 L150.10,274.77 L150.60,274.59 L151.10,274.41 L151.60,274.22 L152.10,274.04 L152.60,273.86 L153.10,273.68 L153.60,273.49 L154.10,273.31 L154.60,273.13 L155.10,272.95 L155.60,272.77 L156.10,272.59 L156.60,272.41 L157.10,272.24 L157.60,272.06 L158.10,271.88 L158.60,271.71 L159.10,271.53 L159.60,271.36 L160.10,271.19 L160.60,271.02 L161.10,270.85 L161.60,270.68 L162.10,270.52 L162.60,270.35 L163.10,270.19 L163.60,270.02 L164.10,269.86 L164.60,269.70 L165.10,269.54 L165.60,269.39 L166.10,269.23 L166.60,269.07 L167.10,268.92 L167.60,268.77 L168.10,268.62 L168.60,268.47 L169.10,268.32 L169.60,268.17 L170.10,268.02 L170.60,267.88 L171.10,267.73 L171.60,267.59 L172.10,267.45 L172.60,267.31 L173.10,267.17 L173.60,267.03 L174.10,266.89 L174.60,266.76 L175.10,266.62 L175.60,266.49 L176.10,266.35 L176.60,266.22 L177.10,266.09 L177.60,265.96 L178.10,265.83 L178.60,265.71 L179.10,265.58 L179.60,265.45 L180.10,265.33 L180.60,265.21 L181.10,265.08 L181.60,264.96 L182.10,264.84 L182.60,264.72 L183.10,264.60 L183.60,264.48 L184.10,264.37 L184.60,264.25 L185.10,264.14 L185.60,264.02 L186.10,263.91 L186.60,263.79 L187.10,263.68 L187.60,263.57 L188.10,263.46 L188.60,263.35 L189.10,263.24 L189.60,263.13 L190.10,263.03 L190.60,262.92 L191.10,262.82 L191.60,262.71 L192.10,262.61 L192.60,262.50 L193.10,262.40 L193.60,262.30 L194.10,262.20 L194.60,262.09 L195.10,261.99 L195.60,261.89 L196.10,261.80 L196.60,261.70 L197.10,261.60 L197.60,261.50 L198.10,261.41 L198.60,261.31 L199.10,261.22 L199.60,261.12 L200.10,261.03 L200.60,260.93 L201.10,260.84 L201.60,260.75 L202.10,260.66 L202.60,260.57 L203.10,260.48 L203.60,260.39 L204.10,260.30" stroke="#28288c" stroke-width="1.5"/>
</g>
<g clip-path="url(#cd)" fill="none" stroke-linejoin="round">
<path d="M294.70,241.45 L295.20,242.32 L295.70,241.16 L296.20,242.29 L296.70,242.16 L297.20,242.98 L297.70,242.63 L298.20,241.69 L298.70,241.87 L299.20,243.43 L299.70,242.97 L300.20,241.30 L300.70,243.55 L301.20,243.29 L301.70,243.90 L302.20,242.64 L302.70,242.90 L303.20,242.56 L303.70,242.56 L304.20,242.48 L304.70,241.80 L305.20,244.40 L305.70,244.43 L306.20,244.64 L306.70,243.83 L307.20,244.52 L307.70,243.23 L308.20,245.18 L308.70,244.77 L309.20,244.49 L309.70,244.26 L310.20,244.95 L310.70,245.65 L311.20,245.85 L311.70,245.75 L312.20,246.09 L312.70,244.44 L313.20,242.74 L313.70,245.80 L314.20,244.89 L314.70,244.77 L315.20,245.85 L315.70,246.68 L316.20,245.97 L316.70,246.49 L317.20,245.81 L317.70,247.25 L318.20,247.16 L318.70,247.30 L319.20,247.15 L319.70,246.55 L320.20,247.42 L320.70,247.11 L321.20,247.74 L321.70,247.32 L322.20,247.17 L322.70,248.41 L323.20,245.47 L323.70,247.66 L324.20,248.41 L324.70,248.66 L325.20,249.42 L325.70,247.47 L326.20,247.98 L326.70,249.35 L327.20,249.97 L327.70,249.89 L328.20,250.17 L328.70,248.95 L329.20,250.64 L329.70,248.95 L330.20,250.67 L330.70,249.80 L331.20,250.88 L331.70,250.99 L332.20,251.19 L332.70,252.00 L333.20,251.56 L333.70,250.25 L334.20,251.32 L334.70,252.07 L335.20,252.57 L335.70,251.22 L336.20,251.03 L336.70,253.07 L337.20,253.63 L337.70,253.19 L338.20,253.32 L338.70,254.24 L339.20,250.76 L339.70,252.12 L340.20,253.56 L340.70,255.14 L341.20,254.35 L341.70,255.88 L342.20,254.95 L342.70,255.70 L343.20,255.90 L343.70,255.30 L344.20,255.83 L344.70,256.16 L345.20,257.68 L345.70,254.99 L346.20,258.39 L346.70,256.74 L347.20,258.47 L347.70,258.72 L348.20,259.64 L348.70,259.65 L349.20,256.90 L349.70,259.48 L350.20,260.85 L350.70,259.42 L351.20,258.03 L351.70,261.65 L352.20,261.85 L352.70,261.93 L353.20,262.10 L353.70,264.04 L354.20,263.98 L354.70,265.00 L355.20,265.21 L355.70,263.87 L356.20,263.14 L356.70,264.58 L357.20,267.75 L357.70,268.24 L358.20,268.91 L358.70,267.44 L359.20,268.94 L359.70,270.73 L360.20,271.37 L360.70,270.07 L361.20,272.37 L361.70,273.25 L362.20,272.45 L362.70,273.90 L363.20,273.29 L363.45,275.13 L363.70,274.03 L363.95,275.03 L364.20,274.02 L364.35,275.26 L364.50,275.16 L364.60,275.41 L364.70,274.81 L364.80,274.43 L364.90,275.37 L365.05,274.69 L365.20,275.45 L365.45,274.96 L365.70,272.34 L365.95,274.95 L366.20,273.35 L366.70,274.29 L367.20,273.40 L367.70,273.01 L368.20,272.12 L368.70,270.39 L369.20,270.65 L369.70,269.68 L370.20,269.65 L370.70,269.18 L371.20,268.59 L371.70,268.19 L372.20,266.25 L372.70,267.06 L373.20,266.33 L373.70,264.75 L374.20,264.62 L374.70,262.43 L375.20,263.99 L375.70,260.90 L376.20,263.57 L376.70,260.15 L377.20,260.44 L377.70,261.51 L378.20,261.16 L378.70,260.53 L379.20,259.56 L379.70,260.33 L380.20,260.26 L380.70,258.91 L381.20,259.58 L381.70,258.58 L382.20,258.35 L382.70,257.24 L383.20,255.52 L383.70,257.92 L384.20,256.80 L384.70,257.01 L385.20,255.23 L385.70,254.95 L386.20,256.37 L386.70,255.07 L387.20,254.14 L387.70,255.76 L388.20,255.34 L388.70,254.37 L389.20,254.92 L389.70,254.10 L390.20,253.56 L390.70,254.27 L391.20,253.26 L391.70,253.05 L392.20,253.18 L392.70,251.78 L393.20,251.89 L393.70,251.43 L394.20,251.64 L394.70,252.06 L395.20,250.88 L395.70,251.75 L396.20,248.96 L396.70,251.17 L397.20,250.92 L397.70,251.23 L398.20,250.98 L398.70,250.89 L399.20,250.62 L399.70,249.49 L400.20,250.06 L400.70,248.89 L401.20,249.65 L401.70,249.67 L402.20,249.21 L402.70,249.05 L403.20,246.01 L403.70,249.15 L404.20,249.27 L404.70,248.20 L405.20,247.38 L405.70,247.11 L406.20,247.63 L406.70,247.38 L407.20,248.18 L407.70,247.80 L408.20,247.13 L408.70,247.63 L409.20,246.78 L409.70,247.31 L410.20,246.11 L410.70,246.27 L411.20,246.52 L411.70,244.88 L412.20,246.27 L412.70,246.45 L413.20,245.69 L413.70,246.53 L414.20,245.92 L414.70,245.73 L415.20,246.11 L415.70,245.35 L416.20,245.29 L416.70,245.91 L417.20,244.91 L417.70,244.58 L418.20,244.90 L418.70,244.80 L419.20,244.81 L419.70,245.04 L420.20,243.59 L420.70,244.71 L421.20,244.51 L421.70,244.40 L422.20,242.51 L422.70,242.13 L423.20,244.29 L423.70,244.00 L424.20,244.37 L424.70,241.47 L425.20,242.80 L425.70,243.19 L426.20,242.85 L426.70,243.32 L427.20,243.30 L427.70,243.68 L428.20,243.39 L428.70,240.47 L429.20,242.67 L429.70,241.35 L430.20,241.99 L430.70,242.90 L431.20,240.64 L431.70,241.64 L432.20,241.56 L432.70,240.93 L433.20,242.06 L433.70,241.81 L434.20,241.48 L434.20,250.76 L433.70,250.22 L433.20,249.63 L432.70,249.94 L432.20,250.81 L431.70,250.85 L431.20,249.70 L430.70,251.01 L430.20,250.19 L429.70,249.93 L429.20,250.05 L428.70,251.32 L428.20,254.97 L427.70,250.54 L427.20,250.73 L426.70,251.93 L426.20,252.12 L425.70,250.81 L425.20,250.91 L424.70,252.23 L424.20,251.56 L423.70,254.30 L423.20,251.44 L422.70,254.81 L422.20,254.52 L421.70,252.02 L421.20,253.32 L420.70,251.85 L420.20,252.57 L419.70,252.91 L419.20,252.47 L418.70,253.32 L418.20,253.71 L417.70,254.86 L417.20,254.15 L416.70,253.76 L416.20,254.06 L415.70,254.12 L415.20,253.53 L414.70,254.21 L414.20,254.31 L413.70,254.74 L413.20,253.52 L412.70,253.91 L412.20,254.77 L411.70,254.32 L411.20,254.81 L410.70,254.90 L410.20,255.19 L409.70,255.09 L409.20,255.34 L408.70,255.72 L408.20,255.43 L407.70,255.73 L407.20,256.29 L406.70,256.89 L406.20,257.33 L405.70,256.43 L405.20,256.18 L404.70,255.92 L404.20,256.15 L403.70,257.63 L403.20,256.59 L402.70,257.20 L402.20,258.74 L401.70,257.41 L401.20,257.47 L400.70,259.38 L400.20,258.55 L399.70,258.54 L399.20,259.67 L398.70,258.08 L398.20,258.88 L397.70,260.14 L397.20,259.36 L396.70,259.37 L396.20,259.23 L395.70,260.68 L395.20,261.85 L394.70,259.47 L394.20,260.30 L393.70,261.84 L393.20,260.59 L392.70,261.66 L392.20,262.15 L391.70,263.98 L391.20,261.86 L390.70,261.88 L390.20,261.27 L389.70,263.14 L389.20,263.94 L388.70,262.50 L388.20,263.49 L387.70,262.80 L387.20,263.83 L386.70,264.07 L386.20,265.20 L385.70,264.18 L385.20,264.58 L384.70,265.44 L384.20,266.17 L383.70,266.66 L383.20,265.30 L382.70,266.05 L382.20,266.02 L381.70,265.95 L381.20,268.02 L380.70,267.44 L380.20,267.83 L379.70,270.88 L379.20,269.95 L378.70,268.70 L378.20,269.39 L377.70,270.55 L377.20,272.45 L376.70,269.89 L376.20,271.94 L375.70,272.19 L375.20,272.05 L374.70,273.26 L374.20,272.15 L373.70,273.60 L373.20,273.35 L372.70,274.30 L372.20,274.69 L371.70,275.02 L371.20,276.25 L370.70,277.91 L370.20,276.95 L369.70,277.59 L369.20,279.24 L368.70,280.62 L368.20,279.94 L367.70,280.32 L367.20,280.88 L366.70,282.27 L366.20,283.40 L365.95,284.00 L365.70,282.12 L365.45,282.76 L365.20,284.24 L365.05,283.80 L364.90,282.51 L364.80,283.02 L364.70,283.86 L364.60,283.67 L364.50,285.13 L364.35,282.54 L364.20,283.20 L363.95,282.18 L363.70,283.56 L363.45,282.68 L363.20,281.64 L362.70,282.11 L362.20,281.61 L361.70,282.79 L361.20,279.57 L360.70,279.83 L360.20,279.12 L359.70,278.22 L359.20,279.52 L358.70,276.69 L358.20,275.64 L357.70,276.07 L357.20,274.81 L356.70,275.12 L356.20,274.31 L355.70,275.24 L355.20,274.41 L354.70,271.85 L354.20,272.91 L353.70,271.02 L353.20,270.34 L352.70,270.06 L352.20,269.56 L351.70,270.93 L351.20,272.01 L350.70,269.89 L350.20,269.71 L349.70,269.57 L349.20,268.26 L348.70,266.73 L348.20,267.94 L347.70,267.60 L347.20,266.45 L346.70,266.76 L346.20,265.04 L345.70,267.62 L345.20,265.36 L344.70,265.09 L344.20,265.30 L343.70,263.79 L343.20,265.70 L342.70,265.26 L342.20,262.76 L341.70,266.21 L341.20,262.51 L340.70,263.28 L340.20,262.42 L339.70,264.61 L339.20,262.20 L338.70,262.79 L338.20,261.16 L337.70,260.96 L337.20,261.11 L336.70,260.61 L336.20,261.93 L335.70,260.58 L335.20,260.19 L334.70,259.96 L334.20,259.40 L333.70,261.14 L333.20,259.70 L332.70,259.60 L332.20,258.57 L331.70,261.34 L331.20,258.99 L330.70,258.45 L330.20,259.67 L329.70,258.02 L329.20,257.45 L328.70,257.79 L328.20,258.76 L327.70,257.93 L327.20,257.18 L326.70,258.15 L326.20,257.31 L325.70,256.86 L325.20,256.26 L324.70,255.97 L324.20,257.19 L323.70,256.29 L323.20,255.70 L322.70,255.65 L322.20,255.28 L321.70,255.57 L321.20,255.14 L320.70,255.04 L320.20,254.79 L319.70,255.95 L319.20,256.51 L318.70,254.81 L318.20,256.32 L317.70,255.18 L317.20,256.35 L316.70,254.86 L316.20,254.40 L315.70,253.72 L315.20,254.52 L314.70,254.71 L314.20,253.90 L313.70,253.27 L313.20,253.85 L312.70,253.88 L312.20,253.11 L311.70,253.66 L311.20,252.86 L310.70,253.41 L310.20,253.11 L309.70,252.27 L309.20,252.27 L308.70,253.15 L308.20,252.03 L307.70,252.08 L307.20,252.33 L306.70,252.48 L306.20,253.76 L305.70,251.79 L305.20,251.48 L304.70,252.09 L304.20,252.70 L303.70,252.15 L303.20,252.82 L302.70,251.68 L302.20,251.49 L301.70,252.63 L301.20,251.09 L300.70,250.92 L300.20,250.50 L299.70,250.81 L299.20,250.77 L298.70,251.09 L298.20,251.51 L297.70,250.43 L297.20,249.73 L296.70,251.42 L296.20,249.53 L295.70,250.59 L295.20,250.70 L294.70,250.22Z" fill="#9c9cff" stroke="none"/>
<path d="M294.70,246.10 L295.20,246.19 L295.70,246.27 L296.20,246.36 L296.70,246.45 L297.20,246.54 L297.70,246.63 L298.20,246.72 L298.70,246.81 L299.20,246.90 L299.70,246.99 L300.20,247.08 L300.70,247.18 L301.20,247.27 L301.70,247.37 L302.20,247.46 L302.70,247.56 L303.20,247.66 L303.70,247.76 L304.20,247.86 L304.70,247.96 L305.20,248.06 L305.70,248.16 L306.20,248.26 L306.70,248.36 L307.20,248.47 L307.70,248.57 L308.20,248.68 L308.70,248.79 L309.20,248.89 L309.70,249.00 L310.20,249.11 L310.70,249.23 L311.20,249.34 L311.70,249.45 L312.20,249.57 L312.70,249.68 L313.20,249.80 L313.70,249.91 L314.20,250.03 L314.70,250.15 L315.20,250.27 L315.70,250.40 L316.20,250.52 L316.70,250.65 L317.20,250.77 L317.70,250.90 L318.20,251.03 L318.70,251.16 L319.20,251.29 L319.70,251.43 L320.20,251.56 L320.70,251.70 L321.20,251.83 L321.70,251.97 L322.20,252.12 L322.70,252.26 L323.20,252.40 L323.70,252.55 L324.20,252.70 L324.70,252.85 L325.20,253.00 L325.70,253.15 L326.20,253.31 L326.70,253.47 L327.20,253.63 L327.70,253.79 L328.20,253.95 L328.70,254.12 L329.20,254.29 L329.70,254.46 L330.20,254.64 L330.70,254.81 L331.20,254.99 L331.70,255.17 L332.20,255.36 L332.70,255.55 L333.20,255.74 L333.70,255.93 L334.20,256.13 L334.70,256.33 L335.20,256.53 L335.70,256.74 L336.20,256.95 L336.70,257.16 L337.20,257.38 L337.70,257.60 L338.20,257.83 L338.70,258.06 L339.20,258.29 L339.70,258.53 L340.20,258.78 L340.70,259.03 L341.20,259.28 L341.70,259.54 L342.20,259.81 L342.70,260.08 L343.20,260.36 L343.70,260.65 L344.20,260.94 L344.70,261.24 L345.20,261.55 L345.70,261.86 L346.20,262.18 L346.70,262.52 L347.20,262.86 L347.70,263.21 L348.20,263.57 L348.70,263.94 L349.20,264.33 L349.70,264.73 L350.20,265.14 L350.70,265.56 L351.20,266.01 L351.70,266.46 L352.20,266.94 L352.70,267.43 L353.20,267.95 L353.70,268.49 L354.20,269.05 L354.70,269.65 L355.20,270.27 L355.70,270.93 L356.20,271.62 L356.70,272.35 L357.20,273.14 L357.70,273.98 L358.20,274.87 L358.70,275.85 L359.20,276.90 L359.70,278.06 L360.20,279.34 L360.70,280.76 L361.20,282.38 L361.70,284.25 L362.20,286.45 L362.70,289.14 L363.20,292.59 L363.70,297.38 L363.95,300.69 L364.20,305.10 L364.40,309.91 L364.50,312.78 L364.60,315.52 L364.65,316.45 L364.70,316.80 L364.75,316.45 L364.80,315.52 L364.90,312.78 L365.00,309.91 L365.20,305.10 L365.45,300.68 L365.70,297.37 L366.20,292.58 L366.70,289.13 L367.20,286.44 L367.70,284.24 L368.20,282.37 L368.70,280.75 L369.20,279.32 L369.70,278.04 L370.20,276.88 L370.70,275.82 L371.20,274.85 L371.70,273.95 L372.20,273.11 L372.70,272.32 L373.20,271.59 L373.70,270.89 L374.20,270.23 L374.70,269.61 L375.20,269.02 L375.70,268.45 L376.20,267.91 L376.70,267.39 L377.20,266.89 L377.70,266.41 L378.20,265.95 L378.70,265.51 L379.20,265.08 L379.70,264.67 L380.20,264.27 L380.70,263.88 L381.20,263.51 L381.70,263.15 L382.20,262.79 L382.70,262.45 L383.20,262.11 L383.70,261.79 L384.20,261.47 L384.70,261.16 L385.20,260.86 L385.70,260.57 L386.20,260.28 L386.70,260.00 L387.20,259.73 L387.70,259.46 L388.20,259.20 L388.70,258.94 L389.20,258.69 L389.70,258.44 L390.20,258.20 L390.70,257.96 L391.20,257.73 L391.70,257.50 L392.20,257.28 L392.70,257.06 L393.20,256.84 L393.70,256.63 L394.20,256.42 L394.70,256.21 L395.20,256.01 L395.70,255.81 L396.20,255.62 L396.70,255.43 L397.20,255.24 L397.70,255.05 L398.20,254.87 L398.70,254.69 L399.20,254.51 L399.70,254.33 L400.20,254.16 L400.70,253.99 L401.20,253.82 L401.70,253.65 L402.20,253.49 L402.70,253.33 L403.20,253.17 L403.70,253.01 L404.20,252.85 L404.70,252.70 L405.20,252.55 L405.70,252.40 L406.20,252.25 L406.70,252.10 L407.20,251.96 L407.70,251.81 L408.20,251.67 L408.70,251.53 L409.20,251.39 L409.70,251.26 L410.20,251.12 L410.70,250.99 L411.20,250.85 L411.70,250.72 L412.20,250.59 L412.70,250.47 L413.20,250.34 L413.70,250.21 L414.20,250.09 L414.70,249.97 L415.20,249.84 L415.70,249.72 L416.20,249.60 L416.70,249.48 L417.20,249.37 L417.70,249.25 L418.20,249.14 L418.70,249.02 L419.20,248.91 L419.70,248.80 L420.20,248.69 L420.70,248.58 L421.20,248.47 L421.70,248.36 L422.20,248.25 L422.70,248.15 L423.20,248.04 L423.70,247.94 L424.20,247.83 L424.70,247.73 L425.20,247.63 L425.70,247.53 L426.20,247.43 L426.70,247.33 L427.20,247.23 L427.70,247.13 L428.20,247.03 L428.70,246.94 L429.20,246.84 L429.70,246.75 L430.20,246.65 L430.70,246.56 L431.20,246.47 L431.70,246.37 L432.20,246.28 L432.70,246.19 L433.20,246.10 L433.70,246.01 L434.20,245.92" stroke="#1e8c1e" stroke-width="1.6"/>
<path d="M294.70,279.00 L295.20,279.00 L295.70,279.00 L296.20,279.00 L296.70,279.00 L297.20,279.00 L297.70,279.00 L298.20,279.00 L298.70,279.00 L299.20,279.00 L299.70,279.00 L300.20,279.00 L300.70,279.00 L301.20,279.00 L301.70,279.00 L302.20,279.00 L302.70,279.00 L303.20,279.00 L303.70,279.00 L304.20,279.00 L304.70,279.00 L305.20,279.00 L305.70,279.00 L306.20,279.00 L306.70,279.00 L307.20,279.00 L307.70,279.00 L308.20,279.00 L308.70,279.00 L309.20,279.00 L309.70,279.00 L310.20,279.00 L310.70,279.00 L311.20,279.00 L311.70,279.00 L312.20,279.00 L312.70,279.00 L313.20,279.00 L313.70,279.00 L314.20,279.00 L314.70,279.00 L315.20,279.00 L315.70,279.00 L316.20,279.00 L316.70,279.00 L317.20,279.00 L317.70,279.00 L318.20,279.00 L318.70,279.00 L319.20,279.00 L319.70,279.00 L320.20,279.00 L320.70,279.00 L321.20,279.00 L321.70,279.00 L322.20,279.00 L322.70,279.00 L323.20,279.00 L323.70,279.00 L324.20,279.00 L324.70,279.00 L325.20,279.00 L325.70,279.00 L326.20,279.00 L326.70,279.00 L327.20,279.00 L327.70,279.00 L328.20,279.00 L328.70,279.00 L329.20,279.00 L329.70,279.00 L330.20,279.00 L330.70,279.00 L331.20,279.00 L331.70,279.00 L332.20,279.00 L332.70,279.00 L333.20,279.00 L333.70,279.00 L334.20,279.00 L334.70,279.00 L335.20,279.00 L335.70,279.00 L336.20,279.00 L336.70,279.00 L337.20,279.00 L337.70,279.00 L338.20,279.00 L338.70,279.00 L339.20,279.00 L339.70,279.00 L340.20,279.00 L340.70,279.00 L341.20,279.00 L341.70,279.00 L342.20,279.00 L342.70,279.00 L343.20,279.00 L343.70,279.00 L344.20,279.00 L344.70,279.00 L345.20,279.00 L345.70,279.00 L346.20,279.00 L346.70,279.00 L347.20,279.00 L347.70,279.00 L348.20,279.00 L348.70,279.00 L349.20,279.00 L349.70,279.00 L350.20,279.00 L350.70,279.00 L351.20,279.00 L351.70,279.00 L352.20,279.00 L352.70,279.00 L353.20,279.00 L353.70,279.00 L354.20,279.00 L354.70,279.00 L355.20,279.00 L355.70,279.00 L356.20,279.00 L356.70,279.00 L357.20,279.00 L357.70,279.00 L358.20,279.00 L358.70,279.00 L359.20,279.00 L359.70,279.00 L360.20,279.00 L360.70,279.00 L361.20,279.00 L361.70,279.00 L362.20,279.00 L362.70,279.00 L363.20,279.00 L363.70,279.00 L363.95,279.00 L364.20,279.00 L364.40,279.00 L364.50,279.00 L364.60,279.00 L364.65,279.00 L364.70,279.00 L364.75,279.00 L364.80,279.00 L364.90,279.00 L365.00,279.00 L365.20,279.00 L365.45,279.00 L365.70,279.00 L366.20,279.00 L366.70,279.00 L367.20,279.00 L367.70,279.00 L368.20,279.00 L368.70,279.00 L369.20,279.00 L369.70,279.00 L370.20,279.00 L370.70,279.00 L371.20,279.00 L371.70,279.00 L372.20,279.00 L372.70,279.00 L373.20,279.00 L373.70,279.00 L374.20,279.00 L374.70,279.00 L375.20,279.00 L375.70,279.00 L376.20,279.00 L376.70,279.00 L377.20,279.00 L377.70,279.00 L378.20,279.00 L378.70,279.00 L379.20,279.00 L379.70,279.00 L380.20,279.00 L380.70,279.00 L381.20,279.00 L381.70,279.00 L382.20,279.00 L382.70,279.00 L383.20,279.00 L383.70,279.00 L384.20,279.00 L384.70,279.00 L385.20,279.00 L385.70,279.00 L386.20,279.00 L386.70,279.00 L387.20,279.00 L387.70,279.00 L388.20,279.00 L388.70,279.00 L389.20,279.00 L389.70,279.00 L390.20,279.00 L390.70,279.00 L391.20,279.00 L391.70,279.00 L392.20,279.00 L392.70,279.00 L393.20,279.00 L393.70,279.00 L394.20,279.00 L394.70,279.00 L395.20,279.00 L395.70,279.00 L396.20,279.00 L396.70,279.00 L397.20,279.00 L397.70,279.00 L398.20,279.00 L398.70,279.00 L399.20,279.00 L399.70,279.00 L400.20,279.00 L400.70,279.00 L401.20,279.00 L401.70,279.00 L402.20,279.00 L402.70,279.00 L403.20,279.00 L403.70,279.00 L404.20,279.00 L404.70,279.00 L405.20,279.00 L405.70,279.00 L406.20,279.00 L406.70,279.00 L407.20,279.00 L407.70,279.00 L408.20,279.00 L408.70,279.00 L409.20,279.00 L409.70,279.00 L410.20,279.00 L410.70,279.00 L411.20,279.00 L411.70,279.00 L412.20,279.00 L412.70,279.00 L413.20,279.00 L413.70,279.00 L414.20,279.00 L414.70,279.00 L415.20,279.00 L415.70,279.00 L416.20,279.00 L416.70,279.00 L417.20,279.00 L417.70,279.00 L418.20,279.00 L418.70,279.00 L419.20,279.00 L419.70,279.00 L420.20,279.00 L420.70,279.00 L421.20,279.00 L421.70,279.00 L422.20,279.00 L422.70,279.00 L423.20,279.00 L423.70,279.00 L424.20,279.00 L424.70,279.00 L425.20,279.00 L425.70,279.00 L426.20,279.00 L426.70,279.00 L427.20,279.00 L427.70,279.00 L428.20,279.00 L428.70,279.00 L429.20,279.00 L429.70,279.00 L430.20,279.00 L430.70,279.00 L431.20,279.00 L431.70,279.00 L432.20,279.00 L432.70,279.00 L433.20,279.00 L433.70,279.00 L434.20,279.00" stroke="#f01414" stroke-width="1.7" stroke-dasharray="7.5 7"/>
<path d="M294.70,246.07 L295.20,246.16 L295.70,246.25 L296.20,246.33 L296.70,246.42 L297.20,246.51 L297.70,246.60 L298.20,246.69 L298.70,246.78 L299.20,246.87 L299.70,246.96 L300.20,247.05 L300.70,247.15 L301.20,247.24 L301.70,247.33 L302.20,247.43 L302.70,247.53 L303.20,247.62 L303.70,247.72 L304.20,247.82 L304.70,247.92 L305.20,248.02 L305.70,248.12 L306.20,248.22 L306.70,248.32 L307.20,248.43 L307.70,248.53 L308.20,248.64 L308.70,248.74 L309.20,248.85 L309.70,248.96 L310.20,249.07 L310.70,249.18 L311.20,249.29 L311.70,249.40 L312.20,249.52 L312.70,249.63 L313.20,249.75 L313.70,249.86 L314.20,249.98 L314.70,250.10 L315.20,250.22 L315.70,250.34 L316.20,250.47 L316.70,250.59 L317.20,250.71 L317.70,250.84 L318.20,250.97 L318.70,251.10 L319.20,251.23 L319.70,251.36 L320.20,251.49 L320.70,251.63 L321.20,251.77 L321.70,251.90 L322.20,252.04 L322.70,252.18 L323.20,252.33 L323.70,252.47 L324.20,252.62 L324.70,252.77 L325.20,252.92 L325.70,253.07 L326.20,253.22 L326.70,253.38 L327.20,253.54 L327.70,253.69 L328.20,253.86 L328.70,254.02 L329.20,254.19 L329.70,254.36 L330.20,254.53 L330.70,254.70 L331.20,254.88 L331.70,255.05 L332.20,255.24 L332.70,255.42 L333.20,255.61 L333.70,255.80 L334.20,255.99 L334.70,256.18 L335.20,256.38 L335.70,256.58 L336.20,256.79 L336.70,257.00 L337.20,257.21 L337.70,257.43 L338.20,257.65 L338.70,257.87 L339.20,258.10 L339.70,258.33 L340.20,258.56 L340.70,258.81 L341.20,259.05 L341.70,259.30 L342.20,259.56 L342.70,259.82 L343.20,260.08 L343.70,260.36 L344.20,260.64 L344.70,260.92 L345.20,261.21 L345.70,261.51 L346.20,261.81 L346.70,262.12 L347.20,262.44 L347.70,262.77 L348.20,263.11 L348.70,263.45 L349.20,263.81 L349.70,264.17 L350.20,264.55 L350.70,264.93 L351.20,265.33 L351.70,265.73 L352.20,266.16 L352.70,266.59 L353.20,267.04 L353.70,267.50 L354.20,267.97 L354.70,268.46 L355.20,268.97 L355.70,269.50 L356.20,270.04 L356.70,270.60 L357.20,271.17 L357.70,271.77 L358.20,272.38 L358.70,273.01 L359.20,273.65 L359.70,274.30 L360.20,274.95 L360.70,275.60 L361.20,276.24 L361.70,276.86 L362.20,277.43 L362.70,277.95 L363.20,278.38 L363.70,278.71 L363.95,278.83 L364.20,278.92 L364.40,278.96 L364.50,278.98 L364.60,278.99 L364.65,278.99 L364.70,278.99 L364.75,278.99 L364.80,278.99 L364.90,278.98 L365.00,278.96 L365.20,278.92 L365.45,278.83 L365.70,278.71 L366.20,278.38 L366.70,277.95 L367.20,277.43 L367.70,276.86 L368.20,276.24 L368.70,275.60 L369.20,274.94 L369.70,274.29 L370.20,273.63 L370.70,272.99 L371.20,272.36 L371.70,271.75 L372.20,271.15 L372.70,270.57 L373.20,270.01 L373.70,269.47 L374.20,268.94 L374.70,268.43 L375.20,267.94 L375.70,267.46 L376.20,267.00 L376.70,266.55 L377.20,266.11 L377.70,265.69 L378.20,265.28 L378.70,264.88 L379.20,264.50 L379.70,264.12 L380.20,263.75 L380.70,263.40 L381.20,263.05 L381.70,262.71 L382.20,262.38 L382.70,262.06 L383.20,261.75 L383.70,261.44 L384.20,261.14 L384.70,260.85 L385.20,260.56 L385.70,260.28 L386.20,260.01 L386.70,259.74 L387.20,259.48 L387.70,259.22 L388.20,258.97 L388.70,258.72 L389.20,258.48 L389.70,258.24 L390.20,258.00 L390.70,257.77 L391.20,257.55 L391.70,257.33 L392.20,257.11 L392.70,256.89 L393.20,256.68 L393.70,256.48 L394.20,256.27 L394.70,256.07 L395.20,255.88 L395.70,255.68 L396.20,255.49 L396.70,255.30 L397.20,255.12 L397.70,254.93 L398.20,254.75 L398.70,254.57 L399.20,254.40 L399.70,254.23 L400.20,254.06 L400.70,253.89 L401.20,253.72 L401.70,253.56 L402.20,253.40 L402.70,253.24 L403.20,253.08 L403.70,252.92 L404.20,252.77 L404.70,252.62 L405.20,252.47 L405.70,252.32 L406.20,252.17 L406.70,252.03 L407.20,251.89 L407.70,251.74 L408.20,251.60 L408.70,251.47 L409.20,251.33 L409.70,251.19 L410.20,251.06 L410.70,250.93 L411.20,250.80 L411.70,250.67 L412.20,250.54 L412.70,250.41 L413.20,250.28 L413.70,250.16 L414.20,250.04 L414.70,249.91 L415.20,249.79 L415.70,249.67 L416.20,249.56 L416.70,249.44 L417.20,249.32 L417.70,249.21 L418.20,249.09 L418.70,248.98 L419.20,248.87 L419.70,248.76 L420.20,248.64 L420.70,248.54 L421.20,248.43 L421.70,248.32 L422.20,248.21 L422.70,248.11 L423.20,248.00 L423.70,247.90 L424.20,247.80 L424.70,247.69 L425.20,247.59 L425.70,247.49 L426.20,247.39 L426.70,247.29 L427.20,247.20 L427.70,247.10 L428.20,247.00 L428.70,246.91 L429.20,246.81 L429.70,246.72 L430.20,246.62 L430.70,246.53 L431.20,246.44 L431.70,246.35 L432.20,246.26 L432.70,246.17 L433.20,246.08 L433.70,245.99 L434.20,245.90" stroke="#28288c" stroke-width="1.5"/>
</g>
<g clip-path="url(#cf)" fill="none" stroke-linejoin="round">
<path d="M526.50,233.21 L527.00,236.14 L527.50,234.86 L528.00,233.83 L528.50,234.81 L529.00,236.19 L529.50,235.96 L530.00,234.99 L530.50,235.60 L531.00,236.81 L531.50,236.49 L532.00,236.98 L532.50,236.42 L533.00,236.42 L533.50,236.41 L534.00,236.57 L534.50,235.71 L535.00,236.73 L535.50,236.17 L536.00,236.45 L536.50,236.00 L537.00,236.85 L537.50,237.55 L538.00,238.18 L538.50,233.24 L539.00,236.38 L539.50,238.01 L540.00,238.02 L540.50,236.71 L541.00,237.99 L541.50,238.78 L542.00,239.08 L542.50,237.70 L543.00,235.91 L543.50,238.57 L544.00,238.41 L544.50,239.32 L545.00,238.15 L545.50,239.73 L546.00,239.82 L546.50,239.43 L547.00,240.09 L547.50,238.39 L548.00,239.82 L548.50,239.58 L549.00,240.44 L549.50,240.42 L550.00,240.68 L550.50,238.72 L551.00,241.14 L551.50,239.87 L552.00,240.34 L552.50,240.89 L553.00,240.58 L553.50,241.08 L554.00,241.12 L554.50,242.07 L555.00,240.59 L555.50,241.69 L556.00,240.46 L556.50,240.95 L557.00,241.30 L557.50,243.02 L558.00,243.07 L558.50,241.00 L559.00,242.67 L559.50,242.79 L560.00,242.14 L560.50,242.83 L561.00,243.30 L561.50,243.98 L562.00,243.44 L562.50,244.44 L563.00,243.50 L563.50,244.77 L564.00,244.94 L564.50,244.70 L565.00,244.53 L565.50,245.37 L566.00,245.27 L566.50,245.02 L567.00,245.72 L567.50,245.65 L568.00,246.32 L568.50,246.55 L569.00,246.82 L569.50,247.11 L570.00,247.12 L570.50,245.58 L571.00,246.23 L571.50,247.18 L572.00,247.61 L572.50,247.90 L573.00,248.40 L573.50,248.43 L574.00,248.16 L574.50,247.46 L575.00,246.30 L575.50,249.39 L576.00,248.39 L576.50,248.92 L577.00,249.70 L577.50,250.04 L578.00,250.45 L578.50,249.99 L579.00,250.95 L579.50,251.35 L580.00,248.76 L580.50,251.77 L581.00,252.07 L581.50,249.39 L582.00,251.99 L582.50,252.98 L583.00,253.08 L583.50,253.14 L584.00,253.29 L584.50,252.72 L585.00,253.78 L585.50,254.07 L586.00,252.14 L586.50,251.69 L587.00,254.78 L587.50,255.14 L588.00,255.57 L588.50,255.51 L589.00,255.54 L589.50,255.39 L590.00,254.51 L590.50,255.83 L591.00,255.35 L591.50,255.28 L592.00,256.64 L592.30,257.57 L592.50,257.23 L593.00,257.57 L593.30,256.05 L593.50,257.93 L593.80,257.51 L594.00,258.24 L594.30,257.68 L594.50,257.68 L594.80,258.31 L595.00,256.99 L595.05,258.37 L595.30,256.80 L595.50,257.31 L595.55,257.94 L595.80,257.22 L595.95,258.29 L596.00,256.98 L596.10,255.77 L596.20,258.31 L596.30,256.48 L596.40,256.52 L596.50,258.27 L596.65,256.68 L596.80,258.39 L597.00,255.42 L597.05,256.40 L597.30,257.76 L597.50,258.32 L597.55,255.44 L597.80,257.92 L598.00,256.97 L598.30,257.49 L598.50,257.40 L598.80,256.96 L599.00,257.95 L599.30,254.11 L599.50,255.22 L600.00,256.90 L600.30,256.92 L600.50,256.53 L601.00,257.02 L601.50,254.92 L602.00,256.65 L602.50,256.81 L603.00,253.99 L603.50,253.79 L604.00,255.82 L604.50,253.76 L605.00,254.86 L605.50,255.32 L606.00,254.73 L606.50,254.77 L607.00,252.55 L607.50,254.25 L608.00,252.60 L608.50,253.35 L609.00,251.81 L609.50,252.56 L610.00,251.40 L610.50,251.98 L611.00,252.00 L611.50,250.35 L612.00,250.59 L612.50,251.71 L613.00,247.33 L613.50,250.71 L614.00,247.31 L614.50,250.52 L615.00,250.03 L615.50,248.52 L616.00,250.06 L616.50,249.46 L617.00,247.13 L617.50,248.84 L618.00,246.76 L618.50,247.26 L619.00,247.96 L619.50,247.48 L620.00,246.70 L620.50,247.94 L621.00,247.78 L621.50,246.07 L622.00,245.95 L622.50,246.83 L623.00,245.88 L623.50,244.96 L624.00,246.36 L624.50,244.33 L625.00,244.36 L625.50,246.11 L626.00,245.91 L626.50,245.25 L627.00,243.98 L627.50,245.15 L628.00,244.70 L628.50,244.64 L629.00,243.59 L629.50,241.53 L630.00,243.84 L630.50,241.84 L631.00,241.68 L631.50,244.07 L632.00,243.91 L632.50,242.34 L633.00,242.19 L633.50,241.84 L634.00,240.87 L634.50,243.20 L635.00,241.62 L635.50,242.68 L636.00,241.18 L636.50,242.24 L637.00,240.65 L637.50,241.95 L638.00,241.70 L638.50,241.45 L639.00,240.35 L639.50,241.64 L640.00,240.63 L640.50,239.16 L641.00,241.09 L641.50,240.64 L642.00,240.52 L642.50,239.30 L643.00,239.75 L643.50,240.06 L644.00,239.82 L644.50,239.51 L645.00,239.72 L645.50,240.25 L646.00,240.22 L646.50,240.18 L647.00,239.71 L647.50,239.96 L648.00,239.26 L648.50,237.60 L649.00,238.58 L649.50,238.79 L650.00,238.24 L650.50,238.69 L651.00,238.72 L651.50,239.03 L652.00,236.56 L652.50,237.28 L653.00,236.14 L653.50,236.61 L654.00,237.42 L654.50,237.99 L655.00,236.89 L655.50,237.60 L656.00,237.76 L656.50,235.35 L657.00,234.26 L657.50,237.05 L658.00,236.41 L658.50,236.87 L659.00,236.37 L659.50,236.27 L660.00,234.65 L660.50,237.06 L661.00,235.82 L661.50,236.23 L662.00,236.60 L662.50,235.75 L663.00,236.48 L663.50,235.19 L664.00,235.76 L664.50,234.85 L665.00,235.83 L665.50,234.16 L666.00,235.08 L666.00,244.40 L665.50,243.18 L665.00,244.77 L664.50,244.61 L664.00,244.30 L663.50,246.82 L663.00,244.88 L662.50,245.71 L662.00,244.19 L661.50,244.21 L661.00,244.01 L660.50,244.28 L660.00,244.23 L659.50,244.39 L659.00,245.02 L658.50,244.70 L658.00,245.18 L657.50,244.52 L657.00,246.81 L656.50,245.00 L656.00,245.06 L655.50,245.24 L655.00,245.05 L654.50,245.43 L654.00,246.04 L653.50,245.48 L653.00,246.29 L652.50,246.11 L652.00,245.94 L651.50,246.02 L651.00,246.07 L650.50,246.18 L650.00,247.87 L649.50,246.74 L649.00,248.31 L648.50,249.09 L648.00,246.70 L647.50,248.48 L647.00,247.83 L646.50,246.84 L646.00,248.66 L645.50,248.84 L645.00,247.52 L644.50,249.07 L644.00,250.10 L643.50,248.18 L643.00,249.37 L642.50,251.23 L642.00,249.08 L641.50,249.38 L641.00,248.35 L640.50,248.26 L640.00,248.56 L639.50,250.24 L639.00,249.32 L638.50,253.39 L638.00,250.69 L637.50,250.67 L637.00,249.40 L636.50,251.48 L636.00,250.56 L635.50,249.61 L635.00,252.05 L634.50,250.99 L634.00,250.98 L633.50,250.71 L633.00,250.46 L632.50,250.74 L632.00,250.97 L631.50,252.87 L631.00,255.48 L630.50,252.54 L630.00,252.34 L629.50,253.64 L629.00,251.80 L628.50,253.62 L628.00,253.53 L627.50,252.45 L627.00,253.00 L626.50,252.52 L626.00,253.07 L625.50,254.34 L625.00,255.47 L624.50,255.81 L624.00,253.95 L623.50,253.85 L623.00,254.14 L622.50,254.39 L622.00,254.71 L621.50,255.62 L621.00,255.47 L620.50,256.08 L620.00,255.68 L619.50,255.46 L619.00,255.61 L618.50,257.05 L618.00,256.33 L617.50,256.90 L617.00,258.47 L616.50,256.50 L616.00,256.72 L615.50,257.85 L615.00,258.82 L614.50,259.39 L614.00,259.36 L613.50,259.25 L613.00,258.72 L612.50,259.53 L612.00,260.48 L611.50,260.64 L611.00,262.01 L610.50,259.77 L610.00,263.36 L609.50,260.77 L609.00,260.33 L608.50,260.80 L608.00,261.82 L607.50,262.62 L607.00,263.17 L606.50,262.04 L606.00,262.76 L605.50,262.61 L605.00,262.93 L604.50,262.81 L604.00,263.23 L603.50,263.16 L603.00,264.14 L602.50,264.99 L602.00,264.85 L601.50,264.99 L601.00,264.65 L600.50,264.72 L600.30,265.18 L600.00,265.64 L599.50,266.60 L599.30,265.25 L599.00,265.19 L598.80,265.22 L598.50,266.79 L598.30,265.83 L598.00,265.34 L597.80,265.32 L597.55,268.69 L597.50,267.39 L597.30,267.32 L597.05,265.63 L597.00,265.28 L596.80,266.48 L596.65,266.41 L596.50,265.39 L596.40,265.18 L596.30,266.30 L596.20,267.01 L596.10,266.18 L596.00,267.56 L595.95,266.70 L595.80,265.95 L595.55,266.39 L595.50,265.35 L595.30,267.01 L595.05,266.93 L595.00,268.19 L594.80,265.50 L594.50,266.94 L594.30,265.04 L594.00,266.42 L593.80,265.24 L593.50,266.08 L593.30,266.21 L593.00,264.64 L592.50,266.31 L592.30,266.05 L592.00,265.69 L591.50,264.32 L591.00,264.12 L590.50,265.40 L590.00,264.16 L589.50,263.39 L589.00,263.82 L588.50,264.47 L588.00,265.30 L587.50,262.41 L587.00,262.39 L586.50,263.50 L586.00,261.89 L585.50,261.91 L585.00,262.45 L584.50,261.65 L584.00,261.54 L583.50,262.09 L583.00,261.26 L582.50,260.11 L582.00,259.52 L581.50,260.08 L581.00,261.20 L580.50,259.95 L580.00,258.60 L579.50,259.80 L579.00,258.22 L578.50,258.66 L578.00,258.67 L577.50,257.22 L577.00,260.34 L576.50,256.87 L576.00,256.66 L575.50,256.34 L575.00,256.30 L574.50,256.65 L574.00,259.05 L573.50,256.27 L573.00,255.75 L572.50,257.69 L572.00,255.21 L571.50,255.53 L571.00,255.01 L570.50,258.47 L570.00,254.06 L569.50,254.32 L569.00,254.34 L568.50,254.02 L568.00,258.35 L567.50,254.87 L567.00,252.81 L566.50,253.01 L566.00,253.90 L565.50,252.83 L565.00,253.73 L564.50,252.42 L564.00,252.33 L563.50,251.75 L563.00,253.33 L562.50,252.74 L562.00,254.04 L561.50,252.21 L561.00,250.92 L560.50,251.23 L560.00,253.66 L559.50,251.32 L559.00,253.29 L558.50,250.80 L558.00,251.19 L557.50,250.43 L557.00,251.02 L556.50,251.07 L556.00,249.40 L555.50,249.52 L555.00,250.56 L554.50,250.39 L554.00,249.08 L553.50,249.30 L553.00,249.23 L552.50,250.55 L552.00,251.48 L551.50,251.27 L551.00,249.11 L550.50,249.73 L550.00,249.68 L549.50,247.92 L549.00,248.47 L548.50,247.47 L548.00,247.94 L547.50,247.54 L547.00,251.54 L546.50,247.78 L546.00,247.79 L545.50,247.55 L545.00,246.78 L544.50,248.91 L544.00,246.59 L543.50,246.86 L543.00,247.34 L542.50,246.97 L542.00,249.08 L541.50,247.67 L541.00,246.06 L540.50,248.89 L540.00,246.79 L539.50,246.97 L539.00,245.46 L538.50,249.34 L538.00,246.74 L537.50,246.02 L537.00,245.13 L536.50,245.19 L536.00,246.39 L535.50,245.15 L535.00,245.46 L534.50,246.81 L534.00,244.88 L533.50,245.65 L533.00,244.49 L532.50,245.41 L532.00,244.47 L531.50,247.15 L531.00,244.00 L530.50,243.75 L530.00,243.71 L529.50,245.13 L529.00,244.80 L528.50,244.59 L528.00,243.65 L527.50,245.06 L527.00,243.06 L526.50,247.05Z" fill="#9c9cff" stroke="none"/>
<path d="M526.50,239.90 L527.00,239.99 L527.50,240.08 L528.00,240.16 L528.50,240.25 L529.00,240.34 L529.50,240.43 L530.00,240.52 L530.50,240.62 L531.00,240.71 L531.50,240.80 L532.00,240.90 L532.50,240.99 L533.00,241.09 L533.50,241.18 L534.00,241.28 L534.50,241.38 L535.00,241.47 L535.50,241.57 L536.00,241.67 L536.50,241.78 L537.00,241.88 L537.50,241.98 L538.00,242.08 L538.50,242.19 L539.00,242.29 L539.50,242.40 L540.00,242.51 L540.50,242.61 L541.00,242.72 L541.50,242.83 L542.00,242.94 L542.50,243.06 L543.00,243.17 L543.50,243.28 L544.00,243.40 L544.50,243.52 L545.00,243.63 L545.50,243.75 L546.00,243.87 L546.50,243.99 L547.00,244.11 L547.50,244.24 L548.00,244.36 L548.50,244.49 L549.00,244.62 L549.50,244.75 L550.00,244.88 L550.50,245.01 L551.00,245.14 L551.50,245.27 L552.00,245.41 L552.50,245.55 L553.00,245.69 L553.50,245.83 L554.00,245.97 L554.50,246.11 L555.00,246.26 L555.50,246.41 L556.00,246.55 L556.50,246.71 L557.00,246.86 L557.50,247.01 L558.00,247.17 L558.50,247.33 L559.00,247.49 L559.50,247.65 L560.00,247.82 L560.50,247.99 L561.00,248.16 L561.50,248.33 L562.00,248.50 L562.50,248.68 L563.00,248.86 L563.50,249.04 L564.00,249.23 L564.50,249.42 L565.00,249.61 L565.50,249.80 L566.00,250.00 L566.50,250.20 L567.00,250.40 L567.50,250.61 L568.00,250.82 L568.50,251.04 L569.00,251.25 L569.50,251.48 L570.00,251.70 L570.50,251.93 L571.00,252.17 L571.50,252.41 L572.00,252.65 L572.50,252.90 L573.00,253.16 L573.50,253.42 L574.00,253.68 L574.50,253.95 L575.00,254.23 L575.50,254.51 L576.00,254.80 L576.50,255.10 L577.00,255.41 L577.50,255.72 L578.00,256.04 L578.50,256.37 L579.00,256.71 L579.50,257.05 L580.00,257.41 L580.50,257.78 L581.00,258.16 L581.50,258.55 L582.00,258.95 L582.50,259.37 L583.00,259.80 L583.50,260.24 L584.00,260.70 L584.50,261.18 L585.00,261.68 L585.50,262.20 L586.00,262.73 L586.50,263.30 L587.00,263.88 L587.50,264.50 L588.00,265.14 L588.50,265.81 L589.00,266.52 L589.50,267.27 L590.00,268.05 L590.50,268.88 L591.00,269.75 L591.50,270.67 L592.00,271.64 L592.50,272.66 L593.00,273.71 L593.30,274.36 L593.50,274.79 L594.00,275.87 L594.30,276.50 L594.50,276.91 L594.80,277.48 L595.00,277.82 L595.30,278.28 L595.50,278.53 L595.55,278.59 L595.80,278.82 L596.00,278.94 L596.10,278.98 L596.20,279.00 L596.25,279.01 L596.30,279.01 L596.35,279.01 L596.40,279.00 L596.50,278.98 L596.60,278.94 L596.80,278.82 L597.00,278.64 L597.05,278.59 L597.30,278.28 L597.50,277.98 L597.80,277.47 L598.00,277.10 L598.30,276.50 L598.50,276.08 L599.00,275.01 L599.30,274.36 L599.50,273.93 L600.00,272.86 L600.50,271.84 L601.00,270.86 L601.50,269.93 L602.00,269.05 L602.50,268.21 L603.00,267.42 L603.50,266.66 L604.00,265.95 L604.50,265.27 L605.00,264.62 L605.50,264.00 L606.00,263.41 L606.50,262.84 L607.00,262.30 L607.50,261.78 L608.00,261.28 L608.50,260.79 L609.00,260.33 L609.50,259.88 L610.00,259.45 L610.50,259.03 L611.00,258.62 L611.50,258.23 L612.00,257.85 L612.50,257.48 L613.00,257.12 L613.50,256.77 L614.00,256.43 L614.50,256.10 L615.00,255.78 L615.50,255.46 L616.00,255.16 L616.50,254.86 L617.00,254.56 L617.50,254.28 L618.00,254.00 L618.50,253.73 L619.00,253.46 L619.50,253.20 L620.00,252.94 L620.50,252.69 L621.00,252.45 L621.50,252.21 L622.00,251.97 L622.50,251.74 L623.00,251.51 L623.50,251.29 L624.00,251.07 L624.50,250.85 L625.00,250.64 L625.50,250.43 L626.00,250.23 L626.50,250.03 L627.00,249.83 L627.50,249.64 L628.00,249.44 L628.50,249.25 L629.00,249.07 L629.50,248.88 L630.00,248.70 L630.50,248.53 L631.00,248.35 L631.50,248.18 L632.00,248.01 L632.50,247.84 L633.00,247.67 L633.50,247.51 L634.00,247.35 L634.50,247.19 L635.00,247.03 L635.50,246.88 L636.00,246.72 L636.50,246.57 L637.00,246.42 L637.50,246.27 L638.00,246.13 L638.50,245.98 L639.00,245.84 L639.50,245.70 L640.00,245.56 L640.50,245.42 L641.00,245.29 L641.50,245.15 L642.00,245.02 L642.50,244.89 L643.00,244.75 L643.50,244.63 L644.00,244.50 L644.50,244.37 L645.00,244.25 L645.50,244.12 L646.00,244.00 L646.50,243.88 L647.00,243.76 L647.50,243.64 L648.00,243.52 L648.50,243.40 L649.00,243.29 L649.50,243.17 L650.00,243.06 L650.50,242.95 L651.00,242.84 L651.50,242.73 L652.00,242.62 L652.50,242.51 L653.00,242.40 L653.50,242.29 L654.00,242.19 L654.50,242.08 L655.00,241.98 L655.50,241.88 L656.00,241.77 L656.50,241.67 L657.00,241.57 L657.50,241.47 L658.00,241.37 L658.50,241.28 L659.00,241.18 L659.50,241.08 L660.00,240.99 L660.50,240.89 L661.00,240.80 L661.50,240.70 L662.00,240.61 L662.50,240.52 L663.00,240.43 L663.50,240.34 L664.00,240.25 L664.50,240.16 L665.00,240.07 L665.50,239.98 L666.00,239.89" stroke="#1e8c1e" stroke-width="1.6"/>
<path d="M526.50,262.30 L527.00,262.30 L527.50,262.30 L528.00,262.30 L528.50,262.30 L529.00,262.30 L529.50,262.30 L530.00,262.30 L530.50,262.30 L531.00,262.30 L531.50,262.30 L532.00,262.30 L532.50,262.30 L533.00,262.30 L533.50,262.30 L534.00,262.30 L534.50,262.30 L535.00,262.30 L535.50,262.30 L536.00,262.30 L536.50,262.30 L537.00,262.30 L537.50,262.30 L538.00,262.30 L538.50,262.30 L539.00,262.30 L539.50,262.30 L540.00,262.30 L540.50,262.30 L541.00,262.30 L541.50,262.30 L542.00,262.30 L542.50,262.30 L543.00,262.30 L543.50,262.30 L544.00,262.30 L544.50,262.30 L545.00,262.30 L545.50,262.30 L546.00,262.30 L546.50,262.30 L547.00,262.30 L547.50,262.30 L548.00,262.30 L548.50,262.30 L549.00,262.30 L549.50,262.30 L550.00,262.30 L550.50,262.30 L551.00,262.30 L551.50,262.30 L552.00,262.30 L552.50,262.30 L553.00,262.30 L553.50,262.30 L554.00,262.30 L554.50,262.30 L555.00,262.30 L555.50,262.30 L556.00,262.30 L556.50,262.30 L557.00,262.30 L557.50,262.30 L558.00,262.30 L558.50,262.30 L559.00,262.30 L559.50,262.30 L560.00,262.30 L560.50,262.30 L561.00,262.30 L561.50,262.30 L562.00,262.30 L562.50,262.30 L563.00,262.30 L563.50,262.30 L564.00,262.30 L564.50,262.30 L565.00,262.30 L565.50,262.30 L566.00,262.30 L566.50,262.30 L567.00,262.30 L567.50,262.30 L568.00,262.30 L568.50,262.30 L569.00,262.30 L569.50,262.30 L570.00,262.30 L570.50,262.30 L571.00,262.30 L571.50,262.30 L572.00,262.30 L572.50,262.30 L573.00,262.30 L573.50,262.30 L574.00,262.30 L574.50,262.30 L575.00,262.30 L575.50,262.30 L576.00,262.30 L576.50,262.30 L577.00,262.30 L577.50,262.30 L578.00,262.30 L578.50,262.30 L579.00,262.30 L579.50,262.30 L580.00,262.30 L580.50,262.30 L581.00,262.30 L581.50,262.30 L582.00,262.30 L582.50,262.30 L583.00,262.30 L583.50,262.30 L584.00,262.30 L584.50,262.30 L585.00,262.30 L585.50,262.30 L586.00,262.30 L586.50,262.30 L587.00,262.30 L587.50,262.30 L588.00,262.30 L588.50,262.30 L589.00,262.30 L589.50,262.30 L590.00,262.30 L590.50,262.30 L591.00,262.30 L591.50,262.30 L592.00,262.30 L592.50,262.30 L593.00,262.30 L593.30,262.30 L593.50,262.30 L594.00,262.30 L594.30,262.30 L594.50,262.30 L594.80,262.30 L595.00,262.30 L595.30,262.30 L595.50,262.30 L595.55,262.30 L595.80,262.30 L596.00,262.30 L596.10,262.30 L596.20,262.30 L596.25,262.30 L596.30,262.30 L596.35,262.30 L596.40,262.30 L596.50,262.30 L596.60,262.30 L596.80,262.30 L597.00,262.30 L597.05,262.30 L597.30,262.30 L597.50,262.30 L597.80,262.30 L598.00,262.30 L598.30,262.30 L598.50,262.30 L599.00,262.30 L599.30,262.30 L599.50,262.30 L600.00,262.30 L600.50,262.30 L601.00,262.30 L601.50,262.30 L602.00,262.30 L602.50,262.30 L603.00,262.30 L603.50,262.30 L604.00,262.30 L604.50,262.30 L605.00,262.30 L605.50,262.30 L606.00,262.30 L606.50,262.30 L607.00,262.30 L607.50,262.30 L608.00,262.30 L608.50,262.30 L609.00,262.30 L609.50,262.30 L610.00,262.30 L610.50,262.30 L611.00,262.30 L611.50,262.30 L612.00,262.30 L612.50,262.30 L613.00,262.30 L613.50,262.30 L614.00,262.30 L614.50,262.30 L615.00,262.30 L615.50,262.30 L616.00,262.30 L616.50,262.30 L617.00,262.30 L617.50,262.30 L618.00,262.30 L618.50,262.30 L619.00,262.30 L619.50,262.30 L620.00,262.30 L620.50,262.30 L621.00,262.30 L621.50,262.30 L622.00,262.30 L622.50,262.30 L623.00,262.30 L623.50,262.30 L624.00,262.30 L624.50,262.30 L625.00,262.30 L625.50,262.30 L626.00,262.30 L626.50,262.30 L627.00,262.30 L627.50,262.30 L628.00,262.30 L628.50,262.30 L629.00,262.30 L629.50,262.30 L630.00,262.30 L630.50,262.30 L631.00,262.30 L631.50,262.30 L632.00,262.30 L632.50,262.30 L633.00,262.30 L633.50,262.30 L634.00,262.30 L634.50,262.30 L635.00,262.30 L635.50,262.30 L636.00,262.30 L636.50,262.30 L637.00,262.30 L637.50,262.30 L638.00,262.30 L638.50,262.30 L639.00,262.30 L639.50,262.30 L640.00,262.30 L640.50,262.30 L641.00,262.30 L641.50,262.30 L642.00,262.30 L642.50,262.30 L643.00,262.30 L643.50,262.30 L644.00,262.30 L644.50,262.30 L645.00,262.30 L645.50,262.30 L646.00,262.30 L646.50,262.30 L647.00,262.30 L647.50,262.30 L648.00,262.30 L648.50,262.30 L649.00,262.30 L649.50,262.30 L650.00,262.30 L650.50,262.30 L651.00,262.30 L651.50,262.30 L652.00,262.30 L652.50,262.30 L653.00,262.30 L653.50,262.30 L654.00,262.30 L654.50,262.30 L655.00,262.30 L655.50,262.30 L656.00,262.30 L656.50,262.30 L657.00,262.30 L657.50,262.30 L658.00,262.30 L658.50,262.30 L659.00,262.30 L659.50,262.30 L660.00,262.30 L660.50,262.30 L661.00,262.30 L661.50,262.30 L662.00,262.30 L662.50,262.30 L663.00,262.30 L663.50,262.30 L664.00,262.30 L664.50,262.30 L665.00,262.30 L665.50,262.30 L666.00,262.30" stroke="#f01414" stroke-width="1.7" stroke-dasharray="7.5 7"/>
<path d="M526.50,239.75 L527.00,239.83 L527.50,239.92 L528.00,240.01 L528.50,240.09 L529.00,240.18 L529.50,240.27 L530.00,240.36 L530.50,240.45 L531.00,240.54 L531.50,240.63 L532.00,240.72 L532.50,240.81 L533.00,240.90 L533.50,241.00 L534.00,241.09 L534.50,241.18 L535.00,241.28 L535.50,241.38 L536.00,241.47 L536.50,241.57 L537.00,241.67 L537.50,241.77 L538.00,241.87 L538.50,241.97 L539.00,242.07 L539.50,242.17 L540.00,242.28 L540.50,242.38 L541.00,242.49 L541.50,242.59 L542.00,242.70 L542.50,242.81 L543.00,242.91 L543.50,243.02 L544.00,243.13 L544.50,243.24 L545.00,243.36 L545.50,243.47 L546.00,243.59 L546.50,243.70 L547.00,243.82 L547.50,243.93 L548.00,244.05 L548.50,244.17 L549.00,244.29 L549.50,244.42 L550.00,244.54 L550.50,244.66 L551.00,244.79 L551.50,244.92 L552.00,245.04 L552.50,245.17 L553.00,245.30 L553.50,245.43 L554.00,245.57 L554.50,245.70 L555.00,245.84 L555.50,245.98 L556.00,246.11 L556.50,246.26 L557.00,246.40 L557.50,246.54 L558.00,246.69 L558.50,246.83 L559.00,246.98 L559.50,247.13 L560.00,247.28 L560.50,247.43 L561.00,247.59 L561.50,247.75 L562.00,247.90 L562.50,248.07 L563.00,248.23 L563.50,248.39 L564.00,248.56 L564.50,248.73 L565.00,248.90 L565.50,249.07 L566.00,249.24 L566.50,249.42 L567.00,249.60 L567.50,249.78 L568.00,249.96 L568.50,250.15 L569.00,250.34 L569.50,250.53 L570.00,250.72 L570.50,250.92 L571.00,251.12 L571.50,251.32 L572.00,251.52 L572.50,251.73 L573.00,251.94 L573.50,252.15 L574.00,252.36 L574.50,252.58 L575.00,252.80 L575.50,253.02 L576.00,253.25 L576.50,253.48 L577.00,253.71 L577.50,253.95 L578.00,254.18 L578.50,254.42 L579.00,254.67 L579.50,254.91 L580.00,255.16 L580.50,255.41 L581.00,255.67 L581.50,255.92 L582.00,256.18 L582.50,256.44 L583.00,256.71 L583.50,256.97 L584.00,257.24 L584.50,257.50 L585.00,257.77 L585.50,258.03 L586.00,258.30 L586.50,258.56 L587.00,258.83 L587.50,259.08 L588.00,259.34 L588.50,259.59 L589.00,259.84 L589.50,260.07 L590.00,260.30 L590.50,260.53 L591.00,260.73 L591.50,260.93 L592.00,261.12 L592.50,261.28 L593.00,261.43 L593.30,261.52 L593.50,261.57 L594.00,261.68 L594.30,261.74 L594.50,261.77 L594.80,261.82 L595.00,261.84 L595.30,261.88 L595.50,261.89 L595.55,261.90 L595.80,261.91 L596.00,261.92 L596.10,261.92 L596.20,261.92 L596.25,261.92 L596.30,261.92 L596.35,261.92 L596.40,261.92 L596.50,261.92 L596.60,261.92 L596.80,261.91 L597.00,261.90 L597.05,261.90 L597.30,261.88 L597.50,261.86 L597.80,261.82 L598.00,261.79 L598.30,261.74 L598.50,261.70 L599.00,261.59 L599.30,261.52 L599.50,261.46 L600.00,261.31 L600.50,261.15 L601.00,260.97 L601.50,260.77 L602.00,260.57 L602.50,260.35 L603.00,260.12 L603.50,259.88 L604.00,259.64 L604.50,259.39 L605.00,259.14 L605.50,258.88 L606.00,258.61 L606.50,258.35 L607.00,258.08 L607.50,257.82 L608.00,257.55 L608.50,257.29 L609.00,257.02 L609.50,256.76 L610.00,256.49 L610.50,256.23 L611.00,255.97 L611.50,255.72 L612.00,255.46 L612.50,255.21 L613.00,254.96 L613.50,254.71 L614.00,254.47 L614.50,254.23 L615.00,253.99 L615.50,253.75 L616.00,253.52 L616.50,253.29 L617.00,253.06 L617.50,252.84 L618.00,252.62 L618.50,252.40 L619.00,252.18 L619.50,251.97 L620.00,251.76 L620.50,251.55 L621.00,251.35 L621.50,251.15 L622.00,250.95 L622.50,250.75 L623.00,250.56 L623.50,250.37 L624.00,250.18 L624.50,249.99 L625.00,249.81 L625.50,249.63 L626.00,249.45 L626.50,249.27 L627.00,249.09 L627.50,248.92 L628.00,248.75 L628.50,248.58 L629.00,248.41 L629.50,248.25 L630.00,248.09 L630.50,247.93 L631.00,247.77 L631.50,247.61 L632.00,247.45 L632.50,247.30 L633.00,247.15 L633.50,247.00 L634.00,246.85 L634.50,246.70 L635.00,246.56 L635.50,246.41 L636.00,246.27 L636.50,246.13 L637.00,245.99 L637.50,245.85 L638.00,245.72 L638.50,245.58 L639.00,245.45 L639.50,245.32 L640.00,245.18 L640.50,245.05 L641.00,244.93 L641.50,244.80 L642.00,244.67 L642.50,244.55 L643.00,244.42 L643.50,244.30 L644.00,244.18 L644.50,244.06 L645.00,243.94 L645.50,243.82 L646.00,243.71 L646.50,243.59 L647.00,243.48 L647.50,243.36 L648.00,243.25 L648.50,243.14 L649.00,243.03 L649.50,242.92 L650.00,242.81 L650.50,242.70 L651.00,242.59 L651.50,242.49 L652.00,242.38 L652.50,242.28 L653.00,242.17 L653.50,242.07 L654.00,241.97 L654.50,241.87 L655.00,241.77 L655.50,241.67 L656.00,241.57 L656.50,241.47 L657.00,241.38 L657.50,241.28 L658.00,241.18 L658.50,241.09 L659.00,240.99 L659.50,240.90 L660.00,240.81 L660.50,240.71 L661.00,240.62 L661.50,240.53 L662.00,240.44 L662.50,240.35 L663.00,240.26 L663.50,240.18 L664.00,240.09 L664.50,240.00 L665.00,239.91 L665.50,239.83 L666.00,239.74" stroke="#28288c" stroke-width="1.5"/>
</g>
<g clip-path="url(#ch)" fill="none" stroke-linejoin="round">
<path d="M760.80,240.66 L761.30,242.25 L761.80,240.59 L762.30,241.33 L762.80,241.70 L763.30,242.14 L763.80,240.53 L764.30,241.40 L764.80,242.44 L765.30,242.20 L765.80,242.21 L766.30,241.82 L766.80,242.39 L767.30,241.93 L767.80,242.17 L768.30,241.94 L768.80,241.64 L769.30,241.68 L769.80,242.29 L770.30,241.64 L770.80,241.51 L771.30,241.16 L771.80,241.78 L772.30,241.70 L772.80,242.42 L773.30,241.83 L773.80,241.69 L774.30,240.74 L774.80,241.65 L775.30,242.46 L775.80,241.96 L776.30,241.54 L776.80,241.03 L777.30,242.02 L777.80,242.01 L778.30,242.43 L778.80,241.47 L779.30,242.21 L779.80,241.59 L780.30,240.69 L780.80,242.29 L781.30,241.40 L781.80,241.87 L782.30,240.96 L782.80,240.36 L783.30,241.30 L783.80,242.10 L784.30,241.17 L784.80,242.10 L785.30,242.08 L785.80,241.90 L786.30,241.83 L786.80,240.76 L787.30,241.79 L787.80,241.35 L788.30,242.12 L788.80,242.19 L789.30,241.78 L789.80,242.33 L790.30,242.07 L790.80,241.89 L791.30,241.71 L791.80,239.64 L792.30,241.50 L792.80,241.88 L793.30,242.37 L793.80,240.28 L794.30,242.15 L794.80,240.91 L795.30,241.91 L795.80,240.44 L796.30,242.02 L796.80,241.74 L797.30,238.96 L797.80,241.51 L798.30,240.61 L798.80,239.88 L799.30,241.97 L799.80,241.24 L800.30,241.74 L800.80,240.87 L801.30,242.48 L801.80,242.07 L802.30,241.02 L802.80,241.65 L803.30,242.01 L803.80,239.88 L804.30,240.94 L804.80,240.74 L805.30,242.22 L805.80,241.93 L806.30,241.34 L806.80,241.96 L807.30,241.27 L807.80,242.25 L808.30,241.96 L808.80,241.62 L809.30,241.38 L809.80,242.36 L810.30,242.21 L810.80,242.15 L811.30,242.35 L811.80,241.37 L812.30,241.33 L812.80,242.18 L813.30,241.61 L813.80,241.22 L814.30,241.53 L814.80,240.29 L815.30,241.79 L815.80,241.13 L816.30,242.37 L816.80,242.47 L817.30,242.19 L817.80,242.35 L818.30,241.91 L818.80,242.12 L819.30,242.18 L819.80,241.89 L820.30,242.31 L820.80,241.41 L821.30,242.09 L821.80,241.74 L822.30,241.69 L822.80,242.21 L823.30,242.35 L823.80,241.15 L824.30,241.81 L824.80,241.18 L825.30,241.11 L825.80,242.43 L826.30,241.49 L826.80,241.71 L827.30,241.57 L827.80,241.35 L828.30,241.53 L828.80,239.18 L829.30,241.83 L829.80,242.06 L830.30,242.43 L830.80,240.08 L831.30,240.85 L831.80,241.57 L832.30,241.19 L832.80,242.09 L833.30,242.36 L833.80,240.69 L834.30,241.06 L834.80,240.85 L835.30,242.09 L835.80,242.29 L836.30,241.82 L836.80,240.67 L837.30,241.30 L837.80,242.39 L838.30,242.34 L838.80,240.37 L839.30,241.14 L839.80,241.60 L840.30,241.62 L840.80,241.46 L841.30,241.82 L841.80,242.18 L842.30,240.36 L842.80,242.20 L843.30,242.06 L843.80,241.23 L844.30,241.06 L844.80,240.16 L845.30,241.70 L845.80,241.59 L846.30,241.54 L846.80,242.34 L847.30,241.33 L847.80,241.51 L848.30,241.37 L848.80,242.36 L849.30,241.75 L849.80,242.10 L850.30,241.96 L850.80,242.01 L851.30,242.20 L851.80,241.56 L852.30,241.01 L852.80,241.92 L853.30,239.34 L853.80,240.26 L854.30,240.11 L854.80,241.57 L855.30,242.37 L855.80,241.24 L856.30,242.08 L856.80,242.04 L857.30,241.84 L857.80,241.85 L858.30,241.34 L858.80,241.58 L859.30,239.54 L859.80,240.65 L860.30,240.58 L860.80,242.25 L861.30,241.66 L861.80,240.19 L862.30,241.36 L862.80,241.28 L863.30,242.14 L863.80,241.79 L864.30,241.91 L864.80,240.89 L865.30,241.82 L865.80,242.38 L866.30,241.12 L866.80,241.10 L867.30,241.92 L867.80,241.96 L868.30,242.23 L868.80,241.76 L869.30,242.15 L869.80,242.45 L870.30,241.81 L870.80,242.00 L871.30,241.24 L871.80,242.19 L872.30,241.67 L872.80,240.77 L873.30,241.60 L873.80,242.23 L874.30,242.21 L874.80,242.27 L875.30,240.96 L875.80,242.17 L876.30,239.91 L876.80,242.16 L877.30,241.65 L877.80,240.55 L878.30,241.97 L878.80,240.86 L879.30,242.27 L879.80,241.69 L880.30,241.79 L880.80,242.33 L881.30,242.20 L881.80,239.89 L882.30,242.36 L882.80,240.55 L883.30,241.62 L883.80,239.78 L884.30,241.59 L884.80,238.87 L885.30,242.50 L885.80,241.41 L886.30,241.99 L886.80,242.29 L887.30,239.13 L887.80,241.48 L888.30,240.36 L888.80,241.26 L889.30,241.38 L889.80,242.06 L890.30,242.10 L890.80,241.90 L891.30,242.39 L891.80,241.19 L892.30,242.05 L892.80,242.39 L893.30,242.38 L893.80,241.51 L894.30,241.23 L894.80,241.69 L895.30,239.34 L895.80,241.01 L896.30,240.92 L896.80,242.12 L897.30,238.82 L897.80,242.31 L898.30,241.30 L898.80,242.31 L899.30,242.03 L899.80,242.27 L899.80,247.54 L899.30,250.25 L898.80,250.23 L898.30,247.61 L897.80,248.65 L897.30,248.25 L896.80,249.23 L896.30,248.04 L895.80,249.03 L895.30,250.16 L894.80,249.11 L894.30,249.35 L893.80,250.49 L893.30,248.98 L892.80,248.55 L892.30,248.79 L891.80,249.20 L891.30,248.11 L890.80,249.51 L890.30,249.13 L889.80,250.39 L889.30,247.41 L888.80,247.68 L888.30,248.01 L887.80,248.18 L887.30,248.67 L886.80,247.80 L886.30,248.24 L885.80,249.19 L885.30,249.37 L884.80,251.09 L884.30,247.99 L883.80,247.48 L883.30,249.03 L882.80,248.05 L882.30,248.57 L881.80,248.66 L881.30,249.58 L880.80,249.36 L880.30,248.07 L879.80,249.65 L879.30,248.92 L878.80,249.01 L878.30,247.45 L877.80,248.15 L877.30,247.84 L876.80,247.48 L876.30,247.82 L875.80,248.23 L875.30,247.41 L874.80,248.36 L874.30,247.42 L873.80,248.31 L873.30,248.02 L872.80,247.66 L872.30,249.68 L871.80,249.34 L871.30,249.72 L870.80,249.46 L870.30,248.49 L869.80,249.17 L869.30,248.28 L868.80,248.45 L868.30,248.20 L867.80,249.20 L867.30,248.08 L866.80,248.35 L866.30,249.99 L865.80,249.67 L865.30,247.63 L864.80,249.23 L864.30,248.37 L863.80,250.11 L863.30,247.70 L862.80,252.19 L862.30,248.28 L861.80,248.49 L861.30,247.99 L860.80,248.37 L860.30,249.00 L859.80,247.96 L859.30,247.58 L858.80,248.43 L858.30,249.24 L857.80,247.99 L857.30,247.73 L856.80,247.92 L856.30,251.32 L855.80,247.92 L855.30,248.82 L854.80,247.86 L854.30,249.29 L853.80,247.68 L853.30,248.31 L852.80,248.19 L852.30,249.15 L851.80,248.14 L851.30,248.18 L850.80,249.86 L850.30,248.11 L849.80,247.51 L849.30,248.30 L848.80,248.22 L848.30,248.28 L847.80,247.61 L847.30,248.91 L846.80,247.73 L846.30,249.69 L845.80,249.30 L845.30,248.40 L844.80,248.63 L844.30,247.73 L843.80,249.08 L843.30,248.01 L842.80,247.47 L842.30,249.24 L841.80,248.29 L841.30,247.65 L840.80,248.78 L840.30,249.99 L839.80,248.27 L839.30,249.26 L838.80,247.81 L838.30,248.44 L837.80,248.18 L837.30,247.85 L836.80,248.89 L836.30,248.36 L835.80,247.74 L835.30,247.95 L834.80,247.78 L834.30,248.56 L833.80,248.60 L833.30,250.16 L832.80,248.46 L832.30,247.73 L831.80,248.07 L831.30,248.91 L830.80,248.71 L830.30,250.35 L829.80,248.13 L829.30,248.00 L828.80,248.90 L828.30,248.99 L827.80,247.44 L827.30,248.51 L826.80,248.12 L826.30,247.59 L825.80,248.26 L825.30,249.11 L824.80,248.54 L824.30,248.21 L823.80,249.15 L823.30,247.92 L822.80,250.15 L822.30,250.52 L821.80,247.54 L821.30,248.25 L820.80,248.24 L820.30,247.64 L819.80,247.49 L819.30,248.11 L818.80,248.58 L818.30,247.68 L817.80,250.79 L817.30,248.97 L816.80,247.59 L816.30,248.84 L815.80,247.80 L815.30,247.77 L814.80,249.16 L814.30,247.93 L813.80,248.34 L813.30,247.65 L812.80,249.92 L812.30,248.02 L811.80,248.11 L811.30,247.60 L810.80,248.47 L810.30,248.65 L809.80,248.17 L809.30,248.52 L808.80,248.10 L808.30,249.20 L807.80,248.05 L807.30,248.22 L806.80,248.65 L806.30,248.29 L805.80,248.91 L805.30,248.71 L804.80,247.47 L804.30,249.49 L803.80,247.99 L803.30,248.11 L802.80,248.37 L802.30,248.71 L801.80,248.76 L801.30,247.73 L800.80,248.72 L800.30,250.54 L799.80,248.40 L799.30,247.41 L798.80,248.42 L798.30,249.89 L797.80,249.14 L797.30,247.71 L796.80,248.23 L796.30,249.78 L795.80,248.10 L795.30,247.75 L794.80,249.32 L794.30,248.78 L793.80,249.23 L793.30,250.11 L792.80,249.54 L792.30,248.80 L791.80,247.69 L791.30,247.78 L790.80,247.55 L790.30,247.67 L789.80,247.41 L789.30,250.69 L788.80,250.70 L788.30,250.12 L787.80,247.44 L787.30,249.68 L786.80,248.25 L786.30,247.99 L785.80,248.55 L785.30,248.52 L784.80,248.31 L784.30,248.25 L783.80,249.62 L783.30,249.59 L782.80,250.41 L782.30,248.62 L781.80,248.90 L781.30,248.38 L780.80,247.78 L780.30,247.40 L779.80,248.83 L779.30,248.73 L778.80,247.83 L778.30,249.30 L777.80,249.44 L777.30,249.97 L776.80,250.90 L776.30,247.75 L775.80,249.98 L775.30,247.62 L774.80,248.12 L774.30,247.70 L773.80,249.92 L773.30,250.48 L772.80,248.02 L772.30,252.39 L771.80,248.75 L771.30,248.17 L770.80,248.24 L770.30,248.35 L769.80,248.86 L769.30,247.82 L768.80,248.12 L768.30,249.95 L767.80,250.67 L767.30,247.42 L766.80,247.67 L766.30,249.76 L765.80,248.37 L765.30,248.37 L764.80,251.33 L764.30,247.77 L763.80,250.11 L763.30,248.87 L762.80,248.17 L762.30,247.49 L761.80,249.05 L761.30,250.22 L760.80,247.48Z" fill="#fdd6b0" stroke="none"/>
<path d="M760.80,245.10 L761.80,245.10 L762.80,245.10 L763.80,245.10 L764.80,245.10 L765.80,245.10 L766.80,245.10 L767.80,245.10 L768.80,245.10 L769.80,245.10 L770.80,245.10 L771.80,245.10 L772.80,245.10 L773.80,245.10 L774.80,245.10 L775.80,245.10 L776.80,245.10 L777.80,245.10 L778.80,245.10 L779.80,245.10 L780.80,245.10 L781.80,245.10 L782.80,245.10 L783.80,245.10 L784.80,245.10 L785.80,245.10 L786.80,245.10 L787.80,245.10 L788.80,245.10 L789.80,245.10 L790.80,245.10 L791.80,245.10 L792.80,245.10 L793.80,245.10 L794.80,245.10 L795.80,245.10 L796.80,245.10 L797.80,245.10 L798.80,245.10 L799.80,245.10 L800.80,245.10 L801.80,245.10 L802.80,245.10 L803.80,245.10 L804.80,245.10 L805.80,245.10 L806.80,245.10 L807.80,245.10 L808.80,245.10 L809.80,245.10 L810.80,245.10 L811.80,245.10 L812.80,245.10 L813.80,245.10 L814.80,245.10 L815.80,245.10 L816.80,245.10 L817.80,245.10 L818.80,245.10 L819.80,245.10 L820.80,245.10 L821.80,245.10 L822.80,245.10 L823.80,245.10 L824.80,245.10 L825.80,245.10 L826.80,245.10 L827.80,245.10 L828.80,245.10 L829.80,245.10 L830.80,245.10 L831.80,245.10 L832.80,245.10 L833.80,245.10 L834.80,245.10 L835.80,245.10 L836.80,245.10 L837.80,245.10 L838.80,245.10 L839.80,245.10 L840.80,245.10 L841.80,245.10 L842.80,245.10 L843.80,245.10 L844.80,245.10 L845.80,245.10 L846.80,245.10 L847.80,245.10 L848.80,245.10 L849.80,245.10 L850.80,245.10 L851.80,245.10 L852.80,245.10 L853.80,245.10 L854.80,245.10 L855.80,245.10 L856.80,245.10 L857.80,245.10 L858.80,245.10 L859.80,245.10 L860.80,245.10 L861.80,245.10 L862.80,245.10 L863.80,245.10 L864.80,245.10 L865.80,245.10 L866.80,245.10 L867.80,245.10 L868.80,245.10 L869.80,245.10 L870.80,245.10 L871.80,245.10 L872.80,245.10 L873.80,245.10 L874.80,245.10 L875.80,245.10 L876.80,245.10 L877.80,245.10 L878.80,245.10 L879.80,245.10 L880.80,245.10 L881.80,245.10 L882.80,245.10 L883.80,245.10 L884.80,245.10 L885.80,245.10 L886.80,245.10 L887.80,245.10 L888.80,245.10 L889.80,245.10 L890.80,245.10 L891.80,245.10 L892.80,245.10 L893.80,245.10 L894.80,245.10 L895.80,245.10 L896.80,245.10 L897.80,245.10 L898.80,245.10 L899.80,245.10" stroke="#b57638" stroke-width="1.6"/>
<path d="M760.80,268.57 L761.30,263.66 L761.80,267.99 L762.30,268.55 L762.80,268.13 L763.30,268.95 L763.80,268.85 L764.30,267.82 L764.80,268.40 L765.30,268.16 L765.80,267.18 L766.30,268.34 L766.80,268.50 L767.30,268.44 L767.80,267.81 L768.30,268.82 L768.80,268.57 L769.30,267.98 L769.80,267.74 L770.30,269.12 L770.80,266.96 L771.30,266.70 L771.80,268.22 L772.30,267.29 L772.80,268.56 L773.30,267.92 L773.80,267.82 L774.30,269.17 L774.80,269.05 L775.30,266.11 L775.80,269.10 L776.30,268.82 L776.80,268.78 L777.30,268.36 L777.80,268.72 L778.30,268.26 L778.80,268.87 L779.30,267.43 L779.80,269.12 L780.30,267.55 L780.80,267.88 L781.30,268.55 L781.80,268.74 L782.30,268.74 L782.80,269.27 L783.30,266.72 L783.80,269.31 L784.30,269.03 L784.80,268.76 L785.30,267.25 L785.80,268.31 L786.30,268.90 L786.80,267.39 L787.30,268.97 L787.80,268.94 L788.30,268.95 L788.80,268.27 L789.30,268.59 L789.80,269.20 L790.30,268.34 L790.80,269.28 L791.30,266.87 L791.80,268.21 L792.30,268.73 L792.80,267.95 L793.30,268.24 L793.80,269.40 L794.30,268.04 L794.80,269.55 L795.30,267.95 L795.80,265.35 L796.30,267.98 L796.80,268.04 L797.30,267.73 L797.80,268.73 L798.30,269.31 L798.80,269.17 L799.30,268.56 L799.80,269.01 L800.30,269.37 L800.80,268.97 L801.30,269.34 L801.80,269.40 L802.30,268.71 L802.80,269.60 L803.30,267.55 L803.80,265.81 L804.30,267.45 L804.80,269.62 L805.30,269.21 L805.80,269.12 L806.30,269.32 L806.80,268.02 L807.30,268.28 L807.80,269.66 L808.30,269.49 L808.80,269.11 L809.30,268.99 L809.80,268.01 L810.30,268.84 L810.80,269.15 L811.30,269.41 L811.80,269.50 L812.30,269.50 L812.80,269.51 L813.30,269.23 L813.80,269.54 L814.30,269.09 L814.80,267.94 L815.30,268.70 L815.80,267.58 L816.30,269.21 L816.80,268.87 L817.30,269.53 L817.80,269.42 L818.30,267.26 L818.80,267.65 L819.30,268.83 L819.80,268.79 L820.30,268.37 L820.80,269.65 L821.30,267.28 L821.80,267.57 L822.30,268.84 L822.80,269.43 L823.30,268.77 L823.80,268.11 L824.30,269.54 L824.80,269.57 L825.30,269.21 L825.80,269.44 L826.30,267.93 L826.80,268.60 L827.00,268.10 L827.30,266.28 L827.80,269.58 L828.00,265.06 L828.30,269.23 L828.50,268.49 L828.80,268.55 L829.00,268.67 L829.30,267.40 L829.50,268.42 L829.75,269.72 L829.80,268.82 L830.00,269.46 L830.25,269.37 L830.30,269.77 L830.50,268.94 L830.65,267.05 L830.80,269.62 L830.90,269.59 L831.00,268.34 L831.10,269.76 L831.20,269.56 L831.30,268.55 L831.35,268.49 L831.50,268.81 L831.75,267.19 L831.80,268.92 L832.00,269.60 L832.25,269.78 L832.30,267.61 L832.50,269.66 L832.80,269.40 L833.00,268.66 L833.30,269.59 L833.50,269.32 L833.80,268.74 L834.00,269.76 L834.30,269.60 L834.80,268.21 L835.00,269.76 L835.30,269.18 L835.80,269.68 L836.30,269.20 L836.80,269.52 L837.30,266.98 L837.80,267.77 L838.30,268.28 L838.80,269.17 L839.30,269.71 L839.80,269.57 L840.30,268.27 L840.80,268.47 L841.30,268.29 L841.80,269.26 L842.30,268.88 L842.80,267.84 L843.30,267.96 L843.80,268.35 L844.30,269.53 L844.80,269.22 L845.30,269.54 L845.80,267.04 L846.30,269.40 L846.80,269.67 L847.30,266.46 L847.80,267.96 L848.30,269.57 L848.80,268.37 L849.30,269.28 L849.80,268.26 L850.30,269.45 L850.80,269.24 L851.30,269.24 L851.80,267.59 L852.30,269.32 L852.80,269.01 L853.30,267.72 L853.80,268.94 L854.30,269.33 L854.80,268.74 L855.30,269.45 L855.80,268.95 L856.30,268.58 L856.80,267.77 L857.30,269.07 L857.80,268.26 L858.30,267.05 L858.80,268.16 L859.30,268.58 L859.80,267.92 L860.30,267.76 L860.80,269.19 L861.30,269.01 L861.80,268.09 L862.30,266.94 L862.80,269.23 L863.30,267.65 L863.80,268.77 L864.30,269.14 L864.80,267.17 L865.30,267.91 L865.80,268.99 L866.30,269.31 L866.80,268.91 L867.30,269.24 L867.80,268.51 L868.30,269.27 L868.80,267.88 L869.30,268.85 L869.80,269.15 L870.30,268.34 L870.80,268.97 L871.30,268.68 L871.80,268.99 L872.30,267.91 L872.80,266.86 L873.30,269.32 L873.80,268.67 L874.30,267.67 L874.80,268.36 L875.30,268.62 L875.80,266.62 L876.30,268.65 L876.80,267.23 L877.30,268.24 L877.80,268.33 L878.30,266.47 L878.80,268.02 L879.30,267.84 L879.80,267.18 L880.30,267.81 L880.80,267.77 L881.30,266.84 L881.80,268.36 L882.30,269.13 L882.80,268.29 L883.30,268.83 L883.80,268.36 L884.30,267.08 L884.80,268.15 L885.30,269.29 L885.80,268.85 L886.30,268.34 L886.80,268.01 L887.30,267.91 L887.80,268.10 L888.30,268.64 L888.80,269.08 L889.30,267.80 L889.80,269.21 L890.30,268.21 L890.80,266.97 L891.30,269.17 L891.80,269.12 L892.30,268.09 L892.80,266.18 L893.30,267.86 L893.80,268.36 L894.30,265.95 L894.80,267.69 L895.30,267.43 L895.80,267.14 L896.30,268.10 L896.80,268.67 L897.30,268.30 L897.80,268.42 L898.30,266.82 L898.80,267.92 L899.30,267.49 L899.80,267.48 L899.80,276.56 L899.30,276.76 L898.80,276.84 L898.30,276.17 L897.80,276.96 L897.30,277.46 L896.80,277.14 L896.30,277.14 L895.80,276.22 L895.30,276.04 L894.80,276.96 L894.30,276.24 L893.80,276.01 L893.30,277.93 L892.80,277.14 L892.30,275.89 L891.80,276.06 L891.30,276.69 L890.80,277.52 L890.30,276.58 L889.80,276.44 L889.30,276.44 L888.80,276.48 L888.30,276.16 L887.80,276.46 L887.30,277.12 L886.80,276.90 L886.30,277.00 L885.80,277.39 L885.30,276.12 L884.80,278.32 L884.30,277.50 L883.80,276.45 L883.30,278.80 L882.80,276.71 L882.30,277.85 L881.80,276.30 L881.30,276.50 L880.80,277.36 L880.30,279.00 L879.80,276.67 L879.30,276.15 L878.80,278.46 L878.30,276.54 L877.80,278.26 L877.30,279.04 L876.80,277.34 L876.30,276.34 L875.80,279.77 L875.30,278.19 L874.80,281.21 L874.30,276.89 L873.80,276.44 L873.30,276.16 L872.80,276.59 L872.30,277.07 L871.80,277.58 L871.30,276.15 L870.80,276.17 L870.30,277.63 L869.80,276.52 L869.30,277.27 L868.80,277.98 L868.30,278.58 L867.80,278.29 L867.30,278.27 L866.80,277.89 L866.30,277.05 L865.80,276.43 L865.30,276.22 L864.80,279.09 L864.30,276.83 L863.80,276.63 L863.30,276.39 L862.80,276.66 L862.30,276.97 L861.80,276.41 L861.30,278.99 L860.80,276.78 L860.30,278.30 L859.80,276.40 L859.30,277.22 L858.80,276.58 L858.30,277.82 L857.80,277.33 L857.30,278.62 L856.80,277.08 L856.30,278.14 L855.80,276.64 L855.30,277.88 L854.80,278.29 L854.30,277.25 L853.80,276.85 L853.30,276.59 L852.80,277.08 L852.30,276.54 L851.80,277.61 L851.30,278.15 L850.80,276.83 L850.30,276.72 L849.80,276.83 L849.30,276.50 L848.80,277.82 L848.30,276.49 L847.80,276.62 L847.30,278.21 L846.80,279.10 L846.30,278.58 L845.80,276.68 L845.30,276.67 L844.80,278.73 L844.30,277.13 L843.80,278.62 L843.30,278.06 L842.80,276.59 L842.30,280.40 L841.80,277.38 L841.30,276.67 L840.80,277.75 L840.30,277.50 L839.80,277.97 L839.30,277.10 L838.80,278.87 L838.30,276.96 L837.80,277.90 L837.30,279.26 L836.80,277.29 L836.30,278.18 L835.80,276.92 L835.30,277.50 L835.00,276.62 L834.80,277.88 L834.30,277.79 L834.00,276.64 L833.80,276.45 L833.50,279.50 L833.30,278.96 L833.00,277.10 L832.80,277.32 L832.50,279.10 L832.30,277.04 L832.25,277.24 L832.00,276.56 L831.80,276.72 L831.75,276.47 L831.50,276.91 L831.35,277.48 L831.30,277.49 L831.20,277.30 L831.10,278.34 L831.00,276.68 L830.90,277.80 L830.80,277.05 L830.65,276.96 L830.50,276.81 L830.30,277.75 L830.25,276.54 L830.00,276.93 L829.80,278.06 L829.75,277.16 L829.50,277.05 L829.30,277.50 L829.00,280.24 L828.80,277.88 L828.50,279.77 L828.30,278.31 L828.00,276.92 L827.80,277.93 L827.30,277.45 L827.00,277.03 L826.80,276.84 L826.30,277.31 L825.80,278.05 L825.30,277.86 L824.80,276.46 L824.30,276.47 L823.80,277.85 L823.30,280.12 L822.80,276.98 L822.30,276.60 L821.80,276.96 L821.30,276.89 L820.80,278.93 L820.30,278.26 L819.80,277.99 L819.30,276.46 L818.80,277.33 L818.30,277.03 L817.80,277.63 L817.30,276.52 L816.80,279.34 L816.30,276.53 L815.80,277.35 L815.30,276.91 L814.80,277.28 L814.30,276.96 L813.80,276.87 L813.30,277.07 L812.80,277.86 L812.30,276.71 L811.80,277.23 L811.30,277.49 L810.80,277.06 L810.30,277.61 L809.80,276.51 L809.30,276.98 L808.80,276.72 L808.30,277.08 L807.80,277.92 L807.30,277.10 L806.80,276.39 L806.30,276.70 L805.80,281.23 L805.30,279.70 L804.80,276.40 L804.30,276.66 L803.80,278.26 L803.30,278.17 L802.80,276.62 L802.30,279.05 L801.80,277.22 L801.30,276.70 L800.80,276.45 L800.30,279.96 L799.80,277.16 L799.30,277.22 L798.80,276.35 L798.30,276.84 L797.80,276.95 L797.30,277.27 L796.80,277.38 L796.30,276.47 L795.80,278.38 L795.30,276.71 L794.80,280.81 L794.30,277.23 L793.80,276.41 L793.30,279.69 L792.80,276.21 L792.30,276.89 L791.80,276.30 L791.30,278.79 L790.80,277.15 L790.30,276.89 L789.80,278.35 L789.30,277.42 L788.80,277.25 L788.30,278.86 L787.80,277.65 L787.30,276.97 L786.80,277.86 L786.30,276.68 L785.80,277.39 L785.30,276.58 L784.80,277.02 L784.30,276.46 L783.80,276.62 L783.30,276.63 L782.80,276.83 L782.30,277.78 L781.80,277.15 L781.30,276.69 L780.80,278.39 L780.30,277.01 L779.80,276.03 L779.30,276.59 L778.80,276.72 L778.30,277.53 L777.80,277.13 L777.30,276.25 L776.80,278.54 L776.30,276.37 L775.80,277.93 L775.30,276.77 L774.80,276.26 L774.30,276.72 L773.80,276.71 L773.30,276.38 L772.80,276.74 L772.30,277.79 L771.80,275.88 L771.30,281.17 L770.80,277.10 L770.30,276.42 L769.80,277.70 L769.30,276.55 L768.80,276.05 L768.30,276.14 L767.80,277.14 L767.30,277.70 L766.80,276.52 L766.30,276.65 L765.80,276.52 L765.30,277.95 L764.80,276.00 L764.30,278.50 L763.80,275.91 L763.30,280.94 L762.80,276.87 L762.30,276.37 L761.80,276.16 L761.30,276.06 L760.80,275.97Z" fill="#9c9cff" stroke="none"/>
<path d="M760.80,285.60 L761.30,285.68 L761.80,285.77 L762.30,285.86 L762.80,285.94 L763.30,286.03 L763.80,286.12 L764.30,286.20 L764.80,286.29 L765.30,286.38 L765.80,286.47 L766.30,286.56 L766.80,286.66 L767.30,286.75 L767.80,286.84 L768.30,286.94 L768.80,287.03 L769.30,287.13 L769.80,287.22 L770.30,287.32 L770.80,287.42 L771.30,287.52 L771.80,287.62 L772.30,287.72 L772.80,287.82 L773.30,287.92 L773.80,288.03 L774.30,288.13 L774.80,288.24 L775.30,288.34 L775.80,288.45 L776.30,288.56 L776.80,288.67 L777.30,288.78 L777.80,288.89 L778.30,289.00 L778.80,289.11 L779.30,289.23 L779.80,289.34 L780.30,289.46 L780.80,289.58 L781.30,289.70 L781.80,289.82 L782.30,289.94 L782.80,290.06 L783.30,290.19 L783.80,290.31 L784.30,290.44 L784.80,290.57 L785.30,290.70 L785.80,290.83 L786.30,290.96 L786.80,291.10 L787.30,291.23 L787.80,291.37 L788.30,291.51 L788.80,291.65 L789.30,291.79 L789.80,291.94 L790.30,292.08 L790.80,292.23 L791.30,292.38 L791.80,292.53 L792.30,292.69 L792.80,292.84 L793.30,293.00 L793.80,293.16 L794.30,293.32 L794.80,293.49 L795.30,293.65 L795.80,293.82 L796.30,293.99 L796.80,294.17 L797.30,294.34 L797.80,294.52 L798.30,294.71 L798.80,294.89 L799.30,295.08 L799.80,295.27 L800.30,295.46 L800.80,295.66 L801.30,295.86 L801.80,296.07 L802.30,296.27 L802.80,296.48 L803.30,296.70 L803.80,296.92 L804.30,297.14 L804.80,297.37 L805.30,297.60 L805.80,297.84 L806.30,298.08 L806.80,298.32 L807.30,298.58 L807.80,298.83 L808.30,299.10 L808.80,299.36 L809.30,299.64 L809.80,299.92 L810.30,300.21 L810.80,300.50 L811.30,300.80 L811.80,301.11 L812.30,301.43 L812.80,301.76 L813.30,302.10 L813.80,302.44 L814.30,302.80 L814.80,303.17 L815.30,303.54 L815.80,303.94 L816.30,304.34 L816.80,304.76 L817.30,305.19 L817.80,305.64 L818.30,306.11 L818.80,306.59 L819.30,307.10 L819.80,307.63 L820.30,308.18 L820.80,308.76 L821.30,309.37 L821.80,310.01 L822.30,310.68 L822.80,311.40 L823.30,312.16 L823.80,312.98 L824.30,313.85 L824.80,314.79 L825.30,315.80 L825.80,316.92 L826.30,318.14 L826.80,319.50 L827.30,321.03 L827.80,322.78 L828.00,323.56 L828.30,324.83 L828.80,327.28 L829.00,328.42 L829.30,330.35 L829.50,331.83 L829.80,334.43 L830.00,336.51 L830.25,339.67 L830.30,340.40 L830.50,343.74 L830.70,347.82 L830.80,349.97 L830.90,351.76 L830.95,352.31 L831.00,352.50 L831.05,352.31 L831.10,351.76 L831.20,349.97 L831.30,347.81 L831.50,343.74 L831.75,339.66 L831.80,338.97 L832.00,336.50 L832.30,333.49 L832.50,331.81 L832.80,329.66 L833.00,328.40 L833.30,326.73 L833.80,324.36 L834.00,323.53 L834.30,322.38 L834.80,320.67 L835.30,319.17 L835.80,317.84 L836.30,316.63 L836.80,315.54 L837.30,314.53 L837.80,313.60 L838.30,312.74 L838.80,311.93 L839.30,311.17 L839.80,310.46 L840.30,309.79 L840.80,309.15 L841.30,308.54 L841.80,307.96 L842.30,307.41 L842.80,306.88 L843.30,306.38 L843.80,305.89 L844.30,305.42 L844.80,304.97 L845.30,304.54 L845.80,304.12 L846.30,303.71 L846.80,303.32 L847.30,302.93 L847.80,302.56 L848.30,302.21 L848.80,301.86 L849.30,301.52 L849.80,301.19 L850.30,300.87 L850.80,300.55 L851.30,300.25 L851.80,299.95 L852.30,299.66 L852.80,299.37 L853.30,299.10 L853.80,298.82 L854.30,298.56 L854.80,298.30 L855.30,298.04 L855.80,297.79 L856.30,297.55 L856.80,297.31 L857.30,297.07 L857.80,296.84 L858.30,296.61 L858.80,296.39 L859.30,296.17 L859.80,295.95 L860.30,295.74 L860.80,295.53 L861.30,295.33 L861.80,295.13 L862.30,294.93 L862.80,294.74 L863.30,294.54 L863.80,294.35 L864.30,294.17 L864.80,293.98 L865.30,293.80 L865.80,293.63 L866.30,293.45 L866.80,293.28 L867.30,293.10 L867.80,292.94 L868.30,292.77 L868.80,292.61 L869.30,292.44 L869.80,292.28 L870.30,292.13 L870.80,291.97 L871.30,291.81 L871.80,291.66 L872.30,291.51 L872.80,291.36 L873.30,291.22 L873.80,291.07 L874.30,290.93 L874.80,290.79 L875.30,290.65 L875.80,290.51 L876.30,290.37 L876.80,290.23 L877.30,290.10 L877.80,289.97 L878.30,289.83 L878.80,289.70 L879.30,289.58 L879.80,289.45 L880.30,289.32 L880.80,289.20 L881.30,289.07 L881.80,288.95 L882.30,288.83 L882.80,288.71 L883.30,288.59 L883.80,288.47 L884.30,288.35 L884.80,288.24 L885.30,288.12 L885.80,288.01 L886.30,287.90 L886.80,287.78 L887.30,287.67 L887.80,287.56 L888.30,287.46 L888.80,287.35 L889.30,287.24 L889.80,287.13 L890.30,287.03 L890.80,286.92 L891.30,286.82 L891.80,286.72 L892.30,286.62 L892.80,286.51 L893.30,286.41 L893.80,286.31 L894.30,286.22 L894.80,286.12 L895.30,286.02 L895.80,285.92 L896.30,285.83 L896.80,285.73 L897.30,285.64 L897.80,285.55 L898.30,285.45 L898.80,285.36 L899.30,285.27 L899.80,285.18" stroke="#1e8c1e" stroke-width="1.6"/>
<path d="M760.80,273.68 L761.30,273.69 L761.80,273.70 L762.30,273.71 L762.80,273.72 L763.30,273.74 L763.80,273.75 L764.30,273.76 L764.80,273.77 L765.30,273.78 L765.80,273.79 L766.30,273.80 L766.80,273.82 L767.30,273.83 L767.80,273.84 L768.30,273.85 L768.80,273.86 L769.30,273.87 L769.80,273.88 L770.30,273.89 L770.80,273.90 L771.30,273.91 L771.80,273.92 L772.30,273.93 L772.80,273.95 L773.30,273.96 L773.80,273.97 L774.30,273.98 L774.80,273.99 L775.30,274.00 L775.80,274.01 L776.30,274.02 L776.80,274.03 L777.30,274.04 L777.80,274.05 L778.30,274.06 L778.80,274.07 L779.30,274.08 L779.80,274.08 L780.30,274.09 L780.80,274.10 L781.30,274.11 L781.80,274.12 L782.30,274.13 L782.80,274.14 L783.30,274.15 L783.80,274.16 L784.30,274.17 L784.80,274.18 L785.30,274.18 L785.80,274.19 L786.30,274.20 L786.80,274.21 L787.30,274.22 L787.80,274.23 L788.30,274.23 L788.80,274.24 L789.30,274.25 L789.80,274.26 L790.30,274.27 L790.80,274.27 L791.30,274.28 L791.80,274.29 L792.30,274.30 L792.80,274.30 L793.30,274.31 L793.80,274.32 L794.30,274.33 L794.80,274.33 L795.30,274.34 L795.80,274.35 L796.30,274.35 L796.80,274.36 L797.30,274.37 L797.80,274.37 L798.30,274.38 L798.80,274.39 L799.30,274.39 L799.80,274.40 L800.30,274.41 L800.80,274.41 L801.30,274.42 L801.80,274.42 L802.30,274.43 L802.80,274.44 L803.30,274.44 L803.80,274.45 L804.30,274.45 L804.80,274.46 L805.30,274.46 L805.80,274.47 L806.30,274.47 L806.80,274.48 L807.30,274.48 L807.80,274.49 L808.30,274.49 L808.80,274.50 L809.30,274.50 L809.80,274.51 L810.30,274.51 L810.80,274.51 L811.30,274.52 L811.80,274.52 L812.30,274.53 L812.80,274.53 L813.30,274.53 L813.80,274.54 L814.30,274.54 L814.80,274.54 L815.30,274.55 L815.80,274.55 L816.30,274.55 L816.80,274.56 L817.30,274.56 L817.80,274.56 L818.30,274.57 L818.80,274.57 L819.30,274.57 L819.80,274.57 L820.30,274.58 L820.80,274.58 L821.30,274.58 L821.80,274.58 L822.30,274.58 L822.80,274.59 L823.30,274.59 L823.80,274.59 L824.30,274.59 L824.80,274.59 L825.30,274.59 L825.80,274.59 L826.30,274.60 L826.80,274.60 L827.30,274.60 L827.80,274.60 L828.00,274.60 L828.30,274.60 L828.80,274.60 L829.00,274.60 L829.30,274.60 L829.50,274.60 L829.80,274.60 L830.00,274.60 L830.25,274.60 L830.30,274.60 L830.50,274.60 L830.70,274.60 L830.80,274.60 L830.90,274.60 L830.95,274.60 L831.00,274.60 L831.05,274.60 L831.10,274.60 L831.20,274.60 L831.30,274.60 L831.50,274.60 L831.75,274.60 L831.80,274.60 L832.00,274.60 L832.30,274.60 L832.50,274.60 L832.80,274.60 L833.00,274.60 L833.30,274.60 L833.80,274.60 L834.00,274.60 L834.30,274.60 L834.80,274.60 L835.30,274.60 L835.80,274.60 L836.30,274.59 L836.80,274.59 L837.30,274.59 L837.80,274.59 L838.30,274.59 L838.80,274.59 L839.30,274.59 L839.80,274.58 L840.30,274.58 L840.80,274.58 L841.30,274.58 L841.80,274.57 L842.30,274.57 L842.80,274.57 L843.30,274.57 L843.80,274.56 L844.30,274.56 L844.80,274.56 L845.30,274.56 L845.80,274.55 L846.30,274.55 L846.80,274.55 L847.30,274.54 L847.80,274.54 L848.30,274.54 L848.80,274.53 L849.30,274.53 L849.80,274.52 L850.30,274.52 L850.80,274.52 L851.30,274.51 L851.80,274.51 L852.30,274.50 L852.80,274.50 L853.30,274.49 L853.80,274.49 L854.30,274.48 L854.80,274.48 L855.30,274.47 L855.80,274.47 L856.30,274.46 L856.80,274.46 L857.30,274.45 L857.80,274.45 L858.30,274.44 L858.80,274.43 L859.30,274.43 L859.80,274.42 L860.30,274.42 L860.80,274.41 L861.30,274.40 L861.80,274.40 L862.30,274.39 L862.80,274.38 L863.30,274.38 L863.80,274.37 L864.30,274.36 L864.80,274.35 L865.30,274.35 L865.80,274.34 L866.30,274.33 L866.80,274.32 L867.30,274.32 L867.80,274.31 L868.30,274.30 L868.80,274.29 L869.30,274.29 L869.80,274.28 L870.30,274.27 L870.80,274.26 L871.30,274.25 L871.80,274.24 L872.30,274.23 L872.80,274.23 L873.30,274.22 L873.80,274.21 L874.30,274.20 L874.80,274.19 L875.30,274.18 L875.80,274.17 L876.30,274.16 L876.80,274.15 L877.30,274.14 L877.80,274.13 L878.30,274.12 L878.80,274.11 L879.30,274.10 L879.80,274.09 L880.30,274.08 L880.80,274.07 L881.30,274.06 L881.80,274.05 L882.30,274.04 L882.80,274.03 L883.30,274.02 L883.80,274.01 L884.30,274.00 L884.80,273.99 L885.30,273.98 L885.80,273.96 L886.30,273.95 L886.80,273.94 L887.30,273.93 L887.80,273.92 L888.30,273.91 L888.80,273.90 L889.30,273.88 L889.80,273.87 L890.30,273.86 L890.80,273.85 L891.30,273.84 L891.80,273.82 L892.30,273.81 L892.80,273.80 L893.30,273.79 L893.80,273.77 L894.30,273.76 L894.80,273.75 L895.30,273.74 L895.80,273.72 L896.30,273.71 L896.80,273.70 L897.30,273.68 L897.80,273.67 L898.30,273.66 L898.80,273.64 L899.30,273.63 L899.80,273.62" stroke="#28288c" stroke-width="1.5"/>
<path d="M760.80,274.60 L761.30,274.60 L761.80,274.60 L762.30,274.60 L762.80,274.60 L763.30,274.60 L763.80,274.60 L764.30,274.60 L764.80,274.60 L765.30,274.60 L765.80,274.60 L766.30,274.60 L766.80,274.60 L767.30,274.60 L767.80,274.60 L768.30,274.60 L768.80,274.60 L769.30,274.60 L769.80,274.60 L770.30,274.60 L770.80,274.60 L771.30,274.60 L771.80,274.60 L772.30,274.60 L772.80,274.60 L773.30,274.60 L773.80,274.60 L774.30,274.60 L774.80,274.60 L775.30,274.60 L775.80,274.60 L776.30,274.60 L776.80,274.60 L777.30,274.60 L777.80,274.60 L778.30,274.60 L778.80,274.60 L779.30,274.60 L779.80,274.60 L780.30,274.60 L780.80,274.60 L781.30,274.60 L781.80,274.60 L782.30,274.60 L782.80,274.60 L783.30,274.60 L783.80,274.60 L784.30,274.60 L784.80,274.60 L785.30,274.60 L785.80,274.60 L786.30,274.60 L786.80,274.60 L787.30,274.60 L787.80,274.60 L788.30,274.60 L788.80,274.60 L789.30,274.60 L789.80,274.60 L790.30,274.60 L790.80,274.60 L791.30,274.60 L791.80,274.60 L792.30,274.60 L792.80,274.60 L793.30,274.60 L793.80,274.60 L794.30,274.60 L794.80,274.60 L795.30,274.60 L795.80,274.60 L796.30,274.60 L796.80,274.60 L797.30,274.60 L797.80,274.60 L798.30,274.60 L798.80,274.60 L799.30,274.60 L799.80,274.60 L800.30,274.60 L800.80,274.60 L801.30,274.60 L801.80,274.60 L802.30,274.60 L802.80,274.60 L803.30,274.60 L803.80,274.60 L804.30,274.60 L804.80,274.60 L805.30,274.60 L805.80,274.60 L806.30,274.60 L806.80,274.60 L807.30,274.60 L807.80,274.60 L808.30,274.60 L808.80,274.60 L809.30,274.60 L809.80,274.60 L810.30,274.60 L810.80,274.60 L811.30,274.60 L811.80,274.60 L812.30,274.60 L812.80,274.60 L813.30,274.60 L813.80,274.60 L814.30,274.60 L814.80,274.60 L815.30,274.60 L815.80,274.60 L816.30,274.60 L816.80,274.60 L817.30,274.60 L817.80,274.60 L818.30,274.60 L818.80,274.60 L819.30,274.60 L819.80,274.60 L820.30,274.60 L820.80,274.60 L821.30,274.60 L821.80,274.60 L822.30,274.60 L822.80,274.60 L823.30,274.60 L823.80,274.60 L824.30,274.60 L824.80,274.60 L825.30,274.60 L825.80,274.60 L826.30,274.60 L826.80,274.60 L827.30,274.60 L827.80,274.60 L828.00,274.60 L828.30,274.60 L828.80,274.60 L829.00,274.60 L829.30,274.60 L829.50,274.60 L829.80,274.60 L830.00,274.60 L830.25,274.60 L830.30,274.60 L830.50,274.60 L830.70,274.60 L830.80,274.60 L830.90,274.60 L830.95,274.60 L831.00,274.60 L831.05,274.60 L831.10,274.60 L831.20,274.60 L831.30,274.60 L831.50,274.60 L831.75,274.60 L831.80,274.60 L832.00,274.60 L832.30,274.60 L832.50,274.60 L832.80,274.60 L833.00,274.60 L833.30,274.60 L833.80,274.60 L834.00,274.60 L834.30,274.60 L834.80,274.60 L835.30,274.60 L835.80,274.60 L836.30,274.60 L836.80,274.60 L837.30,274.60 L837.80,274.60 L838.30,274.60 L838.80,274.60 L839.30,274.60 L839.80,274.60 L840.30,274.60 L840.80,274.60 L841.30,274.60 L841.80,274.60 L842.30,274.60 L842.80,274.60 L843.30,274.60 L843.80,274.60 L844.30,274.60 L844.80,274.60 L845.30,274.60 L845.80,274.60 L846.30,274.60 L846.80,274.60 L847.30,274.60 L847.80,274.60 L848.30,274.60 L848.80,274.60 L849.30,274.60 L849.80,274.60 L850.30,274.60 L850.80,274.60 L851.30,274.60 L851.80,274.60 L852.30,274.60 L852.80,274.60 L853.30,274.60 L853.80,274.60 L854.30,274.60 L854.80,274.60 L855.30,274.60 L855.80,274.60 L856.30,274.60 L856.80,274.60 L857.30,274.60 L857.80,274.60 L858.30,274.60 L858.80,274.60 L859.30,274.60 L859.80,274.60 L860.30,274.60 L860.80,274.60 L861.30,274.60 L861.80,274.60 L862.30,274.60 L862.80,274.60 L863.30,274.60 L863.80,274.60 L864.30,274.60 L864.80,274.60 L865.30,274.60 L865.80,274.60 L866.30,274.60 L866.80,274.60 L867.30,274.60 L867.80,274.60 L868.30,274.60 L868.80,274.60 L869.30,274.60 L869.80,274.60 L870.30,274.60 L870.80,274.60 L871.30,274.60 L871.80,274.60 L872.30,274.60 L872.80,274.60 L873.30,274.60 L873.80,274.60 L874.30,274.60 L874.80,274.60 L875.30,274.60 L875.80,274.60 L876.30,274.60 L876.80,274.60 L877.30,274.60 L877.80,274.60 L878.30,274.60 L878.80,274.60 L879.30,274.60 L879.80,274.60 L880.30,274.60 L880.80,274.60 L881.30,274.60 L881.80,274.60 L882.30,274.60 L882.80,274.60 L883.30,274.60 L883.80,274.60 L884.30,274.60 L884.80,274.60 L885.30,274.60 L885.80,274.60 L886.30,274.60 L886.80,274.60 L887.30,274.60 L887.80,274.60 L888.30,274.60 L888.80,274.60 L889.30,274.60 L889.80,274.60 L890.30,274.60 L890.80,274.60 L891.30,274.60 L891.80,274.60 L892.30,274.60 L892.80,274.60 L893.30,274.60 L893.80,274.60 L894.30,274.60 L894.80,274.60 L895.30,274.60 L895.80,274.60 L896.30,274.60 L896.80,274.60 L897.30,274.60 L897.80,274.60 L898.30,274.60 L898.80,274.60 L899.30,274.60 L899.80,274.60" stroke="#f01414" stroke-width="1.7" stroke-dasharray="7.5 7"/>
</g>
<path d="M64.60,138.19h2.5M204.40,138.19h-2.5M64.60,132.04h2.5M204.40,132.04h-2.5M64.60,127.67h2.5M204.40,127.67h-2.5M64.60,124.29h2.5M204.40,124.29h-2.5M64.60,121.52h2.5M204.40,121.52h-2.5M64.60,119.18h2.5M204.40,119.18h-2.5M64.60,117.16h2.5M204.40,117.16h-2.5M64.60,115.37h2.5M204.40,115.37h-2.5M64.60,113.77h4.5M204.40,113.77h-4.5M64.60,103.26h2.5M204.40,103.26h-2.5M64.60,97.11h2.5M204.40,97.11h-2.5M64.60,92.75h2.5M204.40,92.75h-2.5M64.60,89.36h2.5M204.40,89.36h-2.5M64.60,86.60h2.5M204.40,86.60h-2.5M64.60,84.26h2.5M204.40,84.26h-2.5M64.60,82.23h2.5M204.40,82.23h-2.5M64.60,80.45h2.5M204.40,80.45h-2.5M64.60,78.85h4.5M204.40,78.85h-4.5M64.60,68.34h2.5M204.40,68.34h-2.5M64.60,62.19h2.5M204.40,62.19h-2.5M64.60,57.82h2.5M204.40,57.82h-2.5M64.60,54.44h2.5M204.40,54.44h-2.5M64.60,51.67h2.5M204.40,51.67h-2.5M64.60,49.33h2.5M204.40,49.33h-2.5M64.60,47.31h2.5M204.40,47.31h-2.5M64.60,45.52h2.5M204.40,45.52h-2.5M64.60,43.92h4.5M204.40,43.92h-4.5M64.60,33.41h2.5M204.40,33.41h-2.5M64.60,27.26h2.5M204.40,27.26h-2.5M64.60,22.90h2.5M204.40,22.90h-2.5M64.60,19.51h2.5M204.40,19.51h-2.5M64.60,16.75h2.5M204.40,16.75h-2.5M64.60,14.41h2.5M204.40,14.41h-2.5M64.60,12.38h2.5M204.40,12.38h-2.5M64.60,10.60h2.5M204.40,10.60h-2.5M98.40,148.70v-4.5M98.40,9.00v4.5M156.90,148.70v-4.5M156.90,9.00v4.5" stroke="#111" stroke-width="1" fill="none"/>
<rect x="64.60" y="9.00" width="139.80" height="139.70" fill="none" stroke="#000" stroke-width="1.4"/>
<path d="M294.70,138.19h2.5M434.30,138.19h-2.5M294.70,132.04h2.5M434.30,132.04h-2.5M294.70,127.67h2.5M434.30,127.67h-2.5M294.70,124.29h2.5M434.30,124.29h-2.5M294.70,121.52h2.5M434.30,121.52h-2.5M294.70,119.18h2.5M434.30,119.18h-2.5M294.70,117.16h2.5M434.30,117.16h-2.5M294.70,115.37h2.5M434.30,115.37h-2.5M294.70,113.77h4.5M434.30,113.77h-4.5M294.70,103.26h2.5M434.30,103.26h-2.5M294.70,97.11h2.5M434.30,97.11h-2.5M294.70,92.75h2.5M434.30,92.75h-2.5M294.70,89.36h2.5M434.30,89.36h-2.5M294.70,86.60h2.5M434.30,86.60h-2.5M294.70,84.26h2.5M434.30,84.26h-2.5M294.70,82.23h2.5M434.30,82.23h-2.5M294.70,80.45h2.5M434.30,80.45h-2.5M294.70,78.85h4.5M434.30,78.85h-4.5M294.70,68.34h2.5M434.30,68.34h-2.5M294.70,62.19h2.5M434.30,62.19h-2.5M294.70,57.82h2.5M434.30,57.82h-2.5M294.70,54.44h2.5M434.30,54.44h-2.5M294.70,51.67h2.5M434.30,51.67h-2.5M294.70,49.33h2.5M434.30,49.33h-2.5M294.70,47.31h2.5M434.30,47.31h-2.5M294.70,45.52h2.5M434.30,45.52h-2.5M294.70,43.92h4.5M434.30,43.92h-4.5M294.70,33.41h2.5M434.30,33.41h-2.5M294.70,27.26h2.5M434.30,27.26h-2.5M294.70,22.90h2.5M434.30,22.90h-2.5M294.70,19.51h2.5M434.30,19.51h-2.5M294.70,16.75h2.5M434.30,16.75h-2.5M294.70,14.41h2.5M434.30,14.41h-2.5M294.70,12.38h2.5M434.30,12.38h-2.5M294.70,10.60h2.5M434.30,10.60h-2.5M338.80,148.70v-4.5M338.80,9.00v4.5M398.20,148.70v-4.5M398.20,9.00v4.5" stroke="#111" stroke-width="1" fill="none"/>
<rect x="294.70" y="9.00" width="139.60" height="139.70" fill="none" stroke="#000" stroke-width="1.4"/>
<path d="M526.50,138.19h2.5M666.00,138.19h-2.5M526.50,132.04h2.5M666.00,132.04h-2.5M526.50,127.67h2.5M666.00,127.67h-2.5M526.50,124.29h2.5M666.00,124.29h-2.5M526.50,121.52h2.5M666.00,121.52h-2.5M526.50,119.18h2.5M666.00,119.18h-2.5M526.50,117.16h2.5M666.00,117.16h-2.5M526.50,115.37h2.5M666.00,115.37h-2.5M526.50,113.77h4.5M666.00,113.77h-4.5M526.50,103.26h2.5M666.00,103.26h-2.5M526.50,97.11h2.5M666.00,97.11h-2.5M526.50,92.75h2.5M666.00,92.75h-2.5M526.50,89.36h2.5M666.00,89.36h-2.5M526.50,86.60h2.5M666.00,86.60h-2.5M526.50,84.26h2.5M666.00,84.26h-2.5M526.50,82.23h2.5M666.00,82.23h-2.5M526.50,80.45h2.5M666.00,80.45h-2.5M526.50,78.85h4.5M666.00,78.85h-4.5M526.50,68.34h2.5M666.00,68.34h-2.5M526.50,62.19h2.5M666.00,62.19h-2.5M526.50,57.82h2.5M666.00,57.82h-2.5M526.50,54.44h2.5M666.00,54.44h-2.5M526.50,51.67h2.5M666.00,51.67h-2.5M526.50,49.33h2.5M666.00,49.33h-2.5M526.50,47.31h2.5M666.00,47.31h-2.5M526.50,45.52h2.5M666.00,45.52h-2.5M526.50,43.92h4.5M666.00,43.92h-4.5M526.50,33.41h2.5M666.00,33.41h-2.5M526.50,27.26h2.5M666.00,27.26h-2.5M526.50,22.90h2.5M666.00,22.90h-2.5M526.50,19.51h2.5M666.00,19.51h-2.5M526.50,16.75h2.5M666.00,16.75h-2.5M526.50,14.41h2.5M666.00,14.41h-2.5M526.50,12.38h2.5M666.00,12.38h-2.5M526.50,10.60h2.5M666.00,10.60h-2.5M590.30,148.70v-4.5M590.30,9.00v4.5" stroke="#111" stroke-width="1" fill="none"/>
<rect x="526.50" y="9.00" width="139.50" height="139.70" fill="none" stroke="#000" stroke-width="1.4"/>
<path d="M760.80,138.19h2.5M900.20,138.19h-2.5M760.80,132.04h2.5M900.20,132.04h-2.5M760.80,127.67h2.5M900.20,127.67h-2.5M760.80,124.29h2.5M900.20,124.29h-2.5M760.80,121.52h2.5M900.20,121.52h-2.5M760.80,119.18h2.5M900.20,119.18h-2.5M760.80,117.16h2.5M900.20,117.16h-2.5M760.80,115.37h2.5M900.20,115.37h-2.5M760.80,113.77h4.5M900.20,113.77h-4.5M760.80,103.26h2.5M900.20,103.26h-2.5M760.80,97.11h2.5M900.20,97.11h-2.5M760.80,92.75h2.5M900.20,92.75h-2.5M760.80,89.36h2.5M900.20,89.36h-2.5M760.80,86.60h2.5M900.20,86.60h-2.5M760.80,84.26h2.5M900.20,84.26h-2.5M760.80,82.23h2.5M900.20,82.23h-2.5M760.80,80.45h2.5M900.20,80.45h-2.5M760.80,78.85h4.5M900.20,78.85h-4.5M760.80,68.34h2.5M900.20,68.34h-2.5M760.80,62.19h2.5M900.20,62.19h-2.5M760.80,57.82h2.5M900.20,57.82h-2.5M760.80,54.44h2.5M900.20,54.44h-2.5M760.80,51.67h2.5M900.20,51.67h-2.5M760.80,49.33h2.5M900.20,49.33h-2.5M760.80,47.31h2.5M900.20,47.31h-2.5M760.80,45.52h2.5M900.20,45.52h-2.5M760.80,43.92h4.5M900.20,43.92h-4.5M760.80,33.41h2.5M900.20,33.41h-2.5M760.80,27.26h2.5M900.20,27.26h-2.5M760.80,22.90h2.5M900.20,22.90h-2.5M760.80,19.51h2.5M900.20,19.51h-2.5M760.80,16.75h2.5M900.20,16.75h-2.5M760.80,14.41h2.5M900.20,14.41h-2.5M760.80,12.38h2.5M900.20,12.38h-2.5M760.80,10.60h2.5M900.20,10.60h-2.5M789.00,148.70v-4.5M789.00,9.00v4.5M847.30,148.70v-4.5M847.30,9.00v4.5" stroke="#111" stroke-width="1" fill="none"/>
<rect x="760.80" y="9.00" width="139.40" height="139.70" fill="none" stroke="#000" stroke-width="1.4"/>
<path d="M64.60,357.57h2.5M204.40,357.57h-2.5M64.60,352.64h2.5M204.40,352.64h-2.5M64.60,349.14h2.5M204.40,349.14h-2.5M64.60,346.43h2.5M204.40,346.43h-2.5M64.60,344.21h2.5M204.40,344.21h-2.5M64.60,342.34h2.5M204.40,342.34h-2.5M64.60,340.71h2.5M204.40,340.71h-2.5M64.60,339.28h2.5M204.40,339.28h-2.5M64.60,338.00h4.5M204.40,338.00h-4.5M64.60,329.57h2.5M204.40,329.57h-2.5M64.60,324.64h2.5M204.40,324.64h-2.5M64.60,321.14h2.5M204.40,321.14h-2.5M64.60,318.43h2.5M204.40,318.43h-2.5M64.60,316.21h2.5M204.40,316.21h-2.5M64.60,314.34h2.5M204.40,314.34h-2.5M64.60,312.71h2.5M204.40,312.71h-2.5M64.60,311.28h2.5M204.40,311.28h-2.5M64.60,310.00h4.5M204.40,310.00h-4.5M64.60,301.57h2.5M204.40,301.57h-2.5M64.60,296.64h2.5M204.40,296.64h-2.5M64.60,293.14h2.5M204.40,293.14h-2.5M64.60,290.43h2.5M204.40,290.43h-2.5M64.60,288.21h2.5M204.40,288.21h-2.5M64.60,286.34h2.5M204.40,286.34h-2.5M64.60,284.71h2.5M204.40,284.71h-2.5M64.60,283.28h2.5M204.40,283.28h-2.5M64.60,282.00h4.5M204.40,282.00h-4.5M64.60,273.57h2.5M204.40,273.57h-2.5M64.60,268.64h2.5M204.40,268.64h-2.5M64.60,265.14h2.5M204.40,265.14h-2.5M64.60,262.43h2.5M204.40,262.43h-2.5M64.60,260.21h2.5M204.40,260.21h-2.5M64.60,258.34h2.5M204.40,258.34h-2.5M64.60,256.71h2.5M204.40,256.71h-2.5M64.60,255.28h2.5M204.40,255.28h-2.5M64.60,254.00h4.5M204.40,254.00h-4.5M64.60,245.57h2.5M204.40,245.57h-2.5M64.60,240.64h2.5M204.40,240.64h-2.5M64.60,237.14h2.5M204.40,237.14h-2.5M64.60,234.43h2.5M204.40,234.43h-2.5M64.60,232.21h2.5M204.40,232.21h-2.5M64.60,230.34h2.5M204.40,230.34h-2.5M64.60,228.71h2.5M204.40,228.71h-2.5M64.60,227.28h2.5M204.40,227.28h-2.5M98.40,366.00v-4.5M98.40,226.00v4.5M156.90,366.00v-4.5M156.90,226.00v4.5" stroke="#111" stroke-width="1" fill="none"/>
<rect x="64.60" y="226.00" width="139.80" height="140.00" fill="none" stroke="#000" stroke-width="1.4"/>
<path d="M294.70,357.57h2.5M434.30,357.57h-2.5M294.70,352.64h2.5M434.30,352.64h-2.5M294.70,349.14h2.5M434.30,349.14h-2.5M294.70,346.43h2.5M434.30,346.43h-2.5M294.70,344.21h2.5M434.30,344.21h-2.5M294.70,342.34h2.5M434.30,342.34h-2.5M294.70,340.71h2.5M434.30,340.71h-2.5M294.70,339.28h2.5M434.30,339.28h-2.5M294.70,338.00h4.5M434.30,338.00h-4.5M294.70,329.57h2.5M434.30,329.57h-2.5M294.70,324.64h2.5M434.30,324.64h-2.5M294.70,321.14h2.5M434.30,321.14h-2.5M294.70,318.43h2.5M434.30,318.43h-2.5M294.70,316.21h2.5M434.30,316.21h-2.5M294.70,314.34h2.5M434.30,314.34h-2.5M294.70,312.71h2.5M434.30,312.71h-2.5M294.70,311.28h2.5M434.30,311.28h-2.5M294.70,310.00h4.5M434.30,310.00h-4.5M294.70,301.57h2.5M434.30,301.57h-2.5M294.70,296.64h2.5M434.30,296.64h-2.5M294.70,293.14h2.5M434.30,293.14h-2.5M294.70,290.43h2.5M434.30,290.43h-2.5M294.70,288.21h2.5M434.30,288.21h-2.5M294.70,286.34h2.5M434.30,286.34h-2.5M294.70,284.71h2.5M434.30,284.71h-2.5M294.70,283.28h2.5M434.30,283.28h-2.5M294.70,282.00h4.5M434.30,282.00h-4.5M294.70,273.57h2.5M434.30,273.57h-2.5M294.70,268.64h2.5M434.30,268.64h-2.5M294.70,265.14h2.5M434.30,265.14h-2.5M294.70,262.43h2.5M434.30,262.43h-2.5M294.70,260.21h2.5M434.30,260.21h-2.5M294.70,258.34h2.5M434.30,258.34h-2.5M294.70,256.71h2.5M434.30,256.71h-2.5M294.70,255.28h2.5M434.30,255.28h-2.5M294.70,254.00h4.5M434.30,254.00h-4.5M294.70,245.57h2.5M434.30,245.57h-2.5M294.70,240.64h2.5M434.30,240.64h-2.5M294.70,237.14h2.5M434.30,237.14h-2.5M294.70,234.43h2.5M434.30,234.43h-2.5M294.70,232.21h2.5M434.30,232.21h-2.5M294.70,230.34h2.5M434.30,230.34h-2.5M294.70,228.71h2.5M434.30,228.71h-2.5M294.70,227.28h2.5M434.30,227.28h-2.5M338.80,366.00v-4.5M338.80,226.00v4.5M398.20,366.00v-4.5M398.20,226.00v4.5" stroke="#111" stroke-width="1" fill="none"/>
<rect x="294.70" y="226.00" width="139.60" height="140.00" fill="none" stroke="#000" stroke-width="1.4"/>
<path d="M526.50,357.57h2.5M666.00,357.57h-2.5M526.50,352.64h2.5M666.00,352.64h-2.5M526.50,349.14h2.5M666.00,349.14h-2.5M526.50,346.43h2.5M666.00,346.43h-2.5M526.50,344.21h2.5M666.00,344.21h-2.5M526.50,342.34h2.5M666.00,342.34h-2.5M526.50,340.71h2.5M666.00,340.71h-2.5M526.50,339.28h2.5M666.00,339.28h-2.5M526.50,338.00h4.5M666.00,338.00h-4.5M526.50,329.57h2.5M666.00,329.57h-2.5M526.50,324.64h2.5M666.00,324.64h-2.5M526.50,321.14h2.5M666.00,321.14h-2.5M526.50,318.43h2.5M666.00,318.43h-2.5M526.50,316.21h2.5M666.00,316.21h-2.5M526.50,314.34h2.5M666.00,314.34h-2.5M526.50,312.71h2.5M666.00,312.71h-2.5M526.50,311.28h2.5M666.00,311.28h-2.5M526.50,310.00h4.5M666.00,310.00h-4.5M526.50,301.57h2.5M666.00,301.57h-2.5M526.50,296.64h2.5M666.00,296.64h-2.5M526.50,293.14h2.5M666.00,293.14h-2.5M526.50,290.43h2.5M666.00,290.43h-2.5M526.50,288.21h2.5M666.00,288.21h-2.5M526.50,286.34h2.5M666.00,286.34h-2.5M526.50,284.71h2.5M666.00,284.71h-2.5M526.50,283.28h2.5M666.00,283.28h-2.5M526.50,282.00h4.5M666.00,282.00h-4.5M526.50,273.57h2.5M666.00,273.57h-2.5M526.50,268.64h2.5M666.00,268.64h-2.5M526.50,265.14h2.5M666.00,265.14h-2.5M526.50,262.43h2.5M666.00,262.43h-2.5M526.50,260.21h2.5M666.00,260.21h-2.5M526.50,258.34h2.5M666.00,258.34h-2.5M526.50,256.71h2.5M666.00,256.71h-2.5M526.50,255.28h2.5M666.00,255.28h-2.5M526.50,254.00h4.5M666.00,254.00h-4.5M526.50,245.57h2.5M666.00,245.57h-2.5M526.50,240.64h2.5M666.00,240.64h-2.5M526.50,237.14h2.5M666.00,237.14h-2.5M526.50,234.43h2.5M666.00,234.43h-2.5M526.50,232.21h2.5M666.00,232.21h-2.5M526.50,230.34h2.5M666.00,230.34h-2.5M526.50,228.71h2.5M666.00,228.71h-2.5M526.50,227.28h2.5M666.00,227.28h-2.5M590.30,366.00v-4.5M590.30,226.00v4.5" stroke="#111" stroke-width="1" fill="none"/>
<rect x="526.50" y="226.00" width="139.50" height="140.00" fill="none" stroke="#000" stroke-width="1.4"/>
<path d="M760.80,357.57h2.5M900.20,357.57h-2.5M760.80,352.64h2.5M900.20,352.64h-2.5M760.80,349.14h2.5M900.20,349.14h-2.5M760.80,346.43h2.5M900.20,346.43h-2.5M760.80,344.21h2.5M900.20,344.21h-2.5M760.80,342.34h2.5M900.20,342.34h-2.5M760.80,340.71h2.5M900.20,340.71h-2.5M760.80,339.28h2.5M900.20,339.28h-2.5M760.80,338.00h4.5M900.20,338.00h-4.5M760.80,329.57h2.5M900.20,329.57h-2.5M760.80,324.64h2.5M900.20,324.64h-2.5M760.80,321.14h2.5M900.20,321.14h-2.5M760.80,318.43h2.5M900.20,318.43h-2.5M760.80,316.21h2.5M900.20,316.21h-2.5M760.80,314.34h2.5M900.20,314.34h-2.5M760.80,312.71h2.5M900.20,312.71h-2.5M760.80,311.28h2.5M900.20,311.28h-2.5M760.80,310.00h4.5M900.20,310.00h-4.5M760.80,301.57h2.5M900.20,301.57h-2.5M760.80,296.64h2.5M900.20,296.64h-2.5M760.80,293.14h2.5M900.20,293.14h-2.5M760.80,290.43h2.5M900.20,290.43h-2.5M760.80,288.21h2.5M900.20,288.21h-2.5M760.80,286.34h2.5M900.20,286.34h-2.5M760.80,284.71h2.5M900.20,284.71h-2.5M760.80,283.28h2.5M900.20,283.28h-2.5M760.80,282.00h4.5M900.20,282.00h-4.5M760.80,273.57h2.5M900.20,273.57h-2.5M760.80,268.64h2.5M900.20,268.64h-2.5M760.80,265.14h2.5M900.20,265.14h-2.5M760.80,262.43h2.5M900.20,262.43h-2.5M760.80,260.21h2.5M900.20,260.21h-2.5M760.80,258.34h2.5M900.20,258.34h-2.5M760.80,256.71h2.5M900.20,256.71h-2.5M760.80,255.28h2.5M900.20,255.28h-2.5M760.80,254.00h4.5M900.20,254.00h-4.5M760.80,245.57h2.5M900.20,245.57h-2.5M760.80,240.64h2.5M900.20,240.64h-2.5M760.80,237.14h2.5M900.20,237.14h-2.5M760.80,234.43h2.5M900.20,234.43h-2.5M760.80,232.21h2.5M900.20,232.21h-2.5M760.80,230.34h2.5M900.20,230.34h-2.5M760.80,228.71h2.5M900.20,228.71h-2.5M760.80,227.28h2.5M900.20,227.28h-2.5M789.00,366.00v-4.5M789.00,226.00v4.5M847.30,366.00v-4.5M847.30,226.00v4.5" stroke="#111" stroke-width="1" fill="none"/>
<rect x="760.80" y="226.00" width="139.40" height="140.00" fill="none" stroke="#000" stroke-width="1.4"/>
<text x="29.04" y="153.50" font-size="14">10<tspan font-size="7.5" dy="-5.1">-</tspan><tspan font-size="7.5" dx="0.8">15</tspan></text>
<text x="29.04" y="118.57" font-size="14">10<tspan font-size="7.5" dy="-5.1">-</tspan><tspan font-size="7.5" dx="0.8">14</tspan></text>
<text x="29.04" y="83.65" font-size="14">10<tspan font-size="7.5" dy="-5.1">-</tspan><tspan font-size="7.5" dx="0.8">13</tspan></text>
<text x="29.04" y="48.72" font-size="14">10<tspan font-size="7.5" dy="-5.1">-</tspan><tspan font-size="7.5" dx="0.8">12</tspan></text>
<text x="29.04" y="13.80" font-size="14">10<tspan font-size="7.5" dy="-5.1">-</tspan><tspan font-size="7.5" dx="0.8">11</tspan></text>
<text x="84.84" y="164.80" font-size="14">1.75</text>
<text x="143.30" y="164.80" font-size="14">2.00</text>
<text x="260.94" y="157.00" font-size="14">10<tspan font-size="7.5" dy="-5.1">-</tspan><tspan font-size="7.5" dx="0.8">15</tspan></text>
<text x="260.94" y="122.07" font-size="14">10<tspan font-size="7.5" dy="-5.1">-</tspan><tspan font-size="7.5" dx="0.8">14</tspan></text>
<text x="260.94" y="87.15" font-size="14">10<tspan font-size="7.5" dy="-5.1">-</tspan><tspan font-size="7.5" dx="0.8">13</tspan></text>
<text x="260.94" y="52.22" font-size="14">10<tspan font-size="7.5" dy="-5.1">-</tspan><tspan font-size="7.5" dx="0.8">12</tspan></text>
<text x="260.94" y="17.30" font-size="14">10<tspan font-size="7.5" dy="-5.1">-</tspan><tspan font-size="7.5" dx="0.8">11</tspan></text>
<text x="324.20" y="164.80" font-size="14">2.16</text>
<text x="383.20" y="164.80" font-size="14">2.20</text>
<text x="490.04" y="153.50" font-size="14">10<tspan font-size="7.5" dy="-5.1">-</tspan><tspan font-size="7.5" dx="0.8">15</tspan></text>
<text x="490.04" y="118.57" font-size="14">10<tspan font-size="7.5" dy="-5.1">-</tspan><tspan font-size="7.5" dx="0.8">14</tspan></text>
<text x="490.04" y="83.65" font-size="14">10<tspan font-size="7.5" dy="-5.1">-</tspan><tspan font-size="7.5" dx="0.8">13</tspan></text>
<text x="490.04" y="48.72" font-size="14">10<tspan font-size="7.5" dy="-5.1">-</tspan><tspan font-size="7.5" dx="0.8">12</tspan></text>
<text x="490.04" y="13.80" font-size="14">10<tspan font-size="7.5" dy="-5.1">-</tspan><tspan font-size="7.5" dx="0.8">11</tspan></text>
<text x="571.60" y="164.80" font-size="14">23.15</text>
<text x="646.90" y="164.80" font-size="14">23.20</text>
<text x="726.84" y="153.50" font-size="14">10<tspan font-size="7.5" dy="-5.1">-</tspan><tspan font-size="7.5" dx="0.8">15</tspan></text>
<text x="726.84" y="118.57" font-size="14">10<tspan font-size="7.5" dy="-5.1">-</tspan><tspan font-size="7.5" dx="0.8">14</tspan></text>
<text x="726.84" y="83.65" font-size="14">10<tspan font-size="7.5" dy="-5.1">-</tspan><tspan font-size="7.5" dx="0.8">13</tspan></text>
<text x="726.84" y="48.72" font-size="14">10<tspan font-size="7.5" dy="-5.1">-</tspan><tspan font-size="7.5" dx="0.8">12</tspan></text>
<text x="726.84" y="13.80" font-size="14">10<tspan font-size="7.5" dy="-5.1">-</tspan><tspan font-size="7.5" dx="0.8">11</tspan></text>
<text x="775.84" y="164.80" font-size="14">5.25</text>
<text x="833.04" y="164.80" font-size="14">5.50</text>
<text x="29.04" y="370.50" font-size="14">10<tspan font-size="7.5" dy="-5.1">-</tspan><tspan font-size="7.5" dx="0.8">19</tspan></text>
<text x="29.04" y="342.50" font-size="14">10<tspan font-size="7.5" dy="-5.1">-</tspan><tspan font-size="7.5" dx="0.8">18</tspan></text>
<text x="29.04" y="314.50" font-size="14">10<tspan font-size="7.5" dy="-5.1">-</tspan><tspan font-size="7.5" dx="0.8">17</tspan></text>
<text x="29.04" y="286.50" font-size="14">10<tspan font-size="7.5" dy="-5.1">-</tspan><tspan font-size="7.5" dx="0.8">16</tspan></text>
<text x="29.04" y="258.50" font-size="14">10<tspan font-size="7.5" dy="-5.1">-</tspan><tspan font-size="7.5" dx="0.8">15</tspan></text>
<text x="29.04" y="230.50" font-size="14">10<tspan font-size="7.5" dy="-5.1">-</tspan><tspan font-size="7.5" dx="0.8">14</tspan></text>
<text x="84.84" y="383.30" font-size="14">1.75</text>
<text x="143.30" y="383.30" font-size="14">2.00</text>
<text x="259.74" y="371.30" font-size="14">10<tspan font-size="7.5" dy="-5.1">-</tspan><tspan font-size="7.5" dx="0.8">19</tspan></text>
<text x="259.74" y="343.30" font-size="14">10<tspan font-size="7.5" dy="-5.1">-</tspan><tspan font-size="7.5" dx="0.8">18</tspan></text>
<text x="259.74" y="315.30" font-size="14">10<tspan font-size="7.5" dy="-5.1">-</tspan><tspan font-size="7.5" dx="0.8">17</tspan></text>
<text x="259.74" y="287.30" font-size="14">10<tspan font-size="7.5" dy="-5.1">-</tspan><tspan font-size="7.5" dx="0.8">16</tspan></text>
<text x="259.74" y="259.30" font-size="14">10<tspan font-size="7.5" dy="-5.1">-</tspan><tspan font-size="7.5" dx="0.8">15</tspan></text>
<text x="259.74" y="231.30" font-size="14">10<tspan font-size="7.5" dy="-5.1">-</tspan><tspan font-size="7.5" dx="0.8">14</tspan></text>
<text x="324.20" y="383.30" font-size="14">2.16</text>
<text x="383.20" y="383.30" font-size="14">2.20</text>
<text x="490.04" y="370.30" font-size="14">10<tspan font-size="7.5" dy="-5.1">-</tspan><tspan font-size="7.5" dx="0.8">19</tspan></text>
<text x="490.04" y="342.30" font-size="14">10<tspan font-size="7.5" dy="-5.1">-</tspan><tspan font-size="7.5" dx="0.8">18</tspan></text>
<text x="490.04" y="314.30" font-size="14">10<tspan font-size="7.5" dy="-5.1">-</tspan><tspan font-size="7.5" dx="0.8">17</tspan></text>
<text x="490.04" y="286.30" font-size="14">10<tspan font-size="7.5" dy="-5.1">-</tspan><tspan font-size="7.5" dx="0.8">16</tspan></text>
<text x="490.04" y="258.30" font-size="14">10<tspan font-size="7.5" dy="-5.1">-</tspan><tspan font-size="7.5" dx="0.8">15</tspan></text>
<text x="490.04" y="230.30" font-size="14">10<tspan font-size="7.5" dy="-5.1">-</tspan><tspan font-size="7.5" dx="0.8">14</tspan></text>
<text x="571.60" y="383.30" font-size="14">23.15</text>
<text x="646.90" y="383.30" font-size="14">23.20</text>
<text x="726.84" y="371.30" font-size="14">10<tspan font-size="7.5" dy="-5.1">-</tspan><tspan font-size="7.5" dx="0.8">19</tspan></text>
<text x="726.84" y="343.30" font-size="14">10<tspan font-size="7.5" dy="-5.1">-</tspan><tspan font-size="7.5" dx="0.8">18</tspan></text>
<text x="726.84" y="315.30" font-size="14">10<tspan font-size="7.5" dy="-5.1">-</tspan><tspan font-size="7.5" dx="0.8">17</tspan></text>
<text x="726.84" y="287.30" font-size="14">10<tspan font-size="7.5" dy="-5.1">-</tspan><tspan font-size="7.5" dx="0.8">16</tspan></text>
<text x="726.84" y="259.30" font-size="14">10<tspan font-size="7.5" dy="-5.1">-</tspan><tspan font-size="7.5" dx="0.8">15</tspan></text>
<text x="726.84" y="231.30" font-size="14">10<tspan font-size="7.5" dy="-5.1">-</tspan><tspan font-size="7.5" dx="0.8">14</tspan></text>
<text x="775.84" y="383.30" font-size="14">5.25</text>
<text x="833.04" y="383.30" font-size="14">5.50</text>
<text x="79.25" y="189.40" font-size="14">Frequency (MHz)</text>
<text x="309.85" y="189.40" font-size="14">Frequency (MHz)</text>
<text x="541.45" y="189.40" font-size="14">Frequency (MHz)</text>
<text x="775.95" y="189.40" font-size="14">Frequency (MHz)</text>
<text x="79.65" y="400.90" font-size="14">Frequency (MHz)</text>
<text x="312.35" y="400.90" font-size="14">Frequency (MHz)</text>
<text x="544.45" y="400.90" font-size="14">Frequency (MHz)</text>
<text x="778.05" y="400.90" font-size="14">Frequency (MHz)</text>
<text x="-1.12" y="13.90" font-size="18">(a)</text>
<text x="230.28" y="14.80" font-size="18">(c)</text>
<text x="458.98" y="13.70" font-size="18">(e)</text>
<text x="695.58" y="13.30" font-size="18">(g)</text>
<text x="-0.72" y="228.00" font-size="18">(b)</text>
<text x="230.08" y="228.80" font-size="18">(d)</text>
<text x="459.38" y="229.30" font-size="18">(f)</text>
<text x="695.78" y="229.60" font-size="18">(h)</text>
<text transform="translate(10.56,123.00) rotate(-90)" font-size="14">S<tspan font-size="8" dx="1.66" dy="-3.9">1/2</tspan><tspan font-size="9" font-style="italic" dx="-13.08" dy="9.3">zz</tspan><tspan dx="7.56" dy="-5.40">(m Hz</tspan><tspan font-size="7.5" dx="0.4" dy="-4.5">-1/2</tspan><tspan dy="4.5">)</tspan></text>
<text transform="translate(242.70,126.30) rotate(-90)" font-size="14">S<tspan font-size="8" dx="1.66" dy="-3.9">1/2</tspan><tspan font-size="9" font-style="italic" dx="-13.08" dy="9.3">zz</tspan><tspan dx="7.56" dy="-5.40">(m Hz</tspan><tspan font-size="7.5" dx="0.4" dy="-4.5">-1/2</tspan><tspan dy="4.5">)</tspan></text>
<text transform="translate(472.70,122.70) rotate(-90)" font-size="14">S<tspan font-size="8" dx="1.66" dy="-3.9">1/2</tspan><tspan font-size="9" font-style="italic" dx="-13.08" dy="9.3">zz</tspan><tspan dx="7.56" dy="-5.40">(m Hz</tspan><tspan font-size="7.5" dx="0.4" dy="-4.5">-1/2</tspan><tspan dy="4.5">)</tspan></text>
<text transform="translate(709.10,122.30) rotate(-90)" font-size="14">S<tspan font-size="8" dx="1.66" dy="-3.9">1/2</tspan><tspan font-size="9" font-style="italic" dx="-13.08" dy="9.3">zz</tspan><tspan dx="7.56" dy="-5.40">(m Hz</tspan><tspan font-size="7.5" dx="0.4" dy="-4.5">-1/2</tspan><tspan dy="4.5">)</tspan></text>
<text transform="translate(10.70,336.50) rotate(-90)" font-size="14">S<tspan font-size="8" dx="1.26" dy="-3.9">1/2</tspan><tspan font-size="8" dx="-12.38" dy="8.2">FF</tspan><tspan dx="8.48" dy="-4.30">(N Hz</tspan><tspan font-size="7.5" dx="0.4" dy="-4.5">-1/2</tspan><tspan dy="4.5">)</tspan></text>
<text transform="translate(241.20,337.00) rotate(-90)" font-size="14">S<tspan font-size="8" dx="1.26" dy="-3.9">1/2</tspan><tspan font-size="8" dx="-12.38" dy="8.2">FF</tspan><tspan dx="8.48" dy="-4.30">(N Hz</tspan><tspan font-size="7.5" dx="0.4" dy="-4.5">-1/2</tspan><tspan dy="4.5">)</tspan></text>
<text transform="translate(472.70,336.00) rotate(-90)" font-size="14">S<tspan font-size="8" dx="1.26" dy="-3.9">1/2</tspan><tspan font-size="8" dx="-12.38" dy="8.2">FF</tspan><tspan dx="8.48" dy="-4.30">(N Hz</tspan><tspan font-size="7.5" dx="0.4" dy="-4.5">-1/2</tspan><tspan dy="4.5">)</tspan></text>
<text transform="translate(708.60,337.20) rotate(-90)" font-size="14">S<tspan font-size="8" dx="1.26" dy="-3.9">1/2</tspan><tspan font-size="8" dx="-12.38" dy="8.2">FF</tspan><tspan dx="8.48" dy="-4.30">(N Hz</tspan><tspan font-size="7.5" dx="0.4" dy="-4.5">-1/2</tspan><tspan dy="4.5">)</tspan></text>
</svg></body></html>
